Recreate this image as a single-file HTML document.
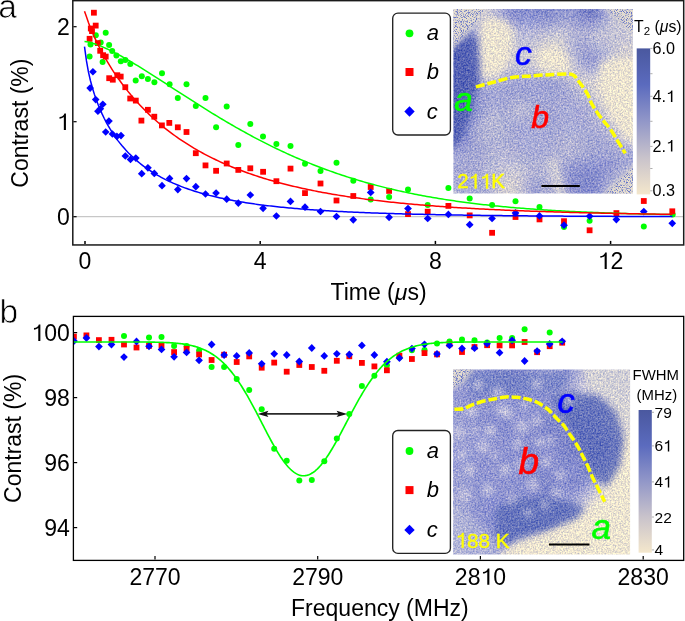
<!DOCTYPE html>
<html><head><meta charset="utf-8"><style>
html,body{margin:0;padding:0;background:#fff;overflow:hidden}
svg{display:block;will-change:transform}
</style></head><body>
<svg width="685" height="621" viewBox="0 0 685 621" font-family="Liberation Sans, sans-serif">
<defs>

<filter id="texA" x="-5%" y="-5%" width="110%" height="110%" color-interpolation-filters="sRGB">
 <feGaussianBlur in="SourceGraphic" stdDeviation="3" result="b"/>
 <feTurbulence type="fractalNoise" baseFrequency="0.6" numOctaves="2" seed="4" result="n"/>
 <feColorMatrix in="n" type="matrix" values="1 0 0 0 0  0.84 0 0 0 0.08  0.25 0 0 0 0.375  0 0 0 0 1" result="g0"/>
 <feGaussianBlur in="g0" stdDeviation="0.7" result="g"/>
 <feComposite in="b" in2="g" operator="arithmetic" k1="0" k2="1" k3="0.6" k4="-0.3"/>
</filter>
<filter id="salt" x="0" y="0" width="100%" height="100%" color-interpolation-filters="sRGB">
 <feTurbulence type="fractalNoise" baseFrequency="1.2" numOctaves="1" seed="9" result="n"/>
 <feColorMatrix in="n" type="matrix" values="0 0 0 0 0.40  0 0 0 0 0.46  0 0 0 0 0.78  5 0 0 0 -2.4" result="c"/>
 <feComposite in="c" in2="SourceGraphic" operator="in"/>
</filter>
<filter id="bl2" x="-20%" y="-20%" width="140%" height="140%"><feGaussianBlur stdDeviation="2"/></filter>

<clipPath id="ca"><rect x="73" y="1" width="610" height="243"/></clipPath>
<clipPath id="cb"><rect x="73.5" y="316.5" width="609.5" height="243"/></clipPath>
</defs>
<rect width="685" height="621" fill="#fff"/>

<g id="A">
<line x1="73" y1="216.7" x2="683" y2="216.7" stroke="#bbb" stroke-width="1"/>
<g clip-path="url(#ca)">
<circle cx="105.7" cy="32.8" r="3.0" fill="#0f0"/>
<circle cx="95.8" cy="35.2" r="3.0" fill="#0f0"/>
<circle cx="100.7" cy="42.6" r="3.0" fill="#0f0"/>
<circle cx="90.5" cy="44.6" r="3.0" fill="#0f0"/>
<circle cx="109.1" cy="45.1" r="3.0" fill="#0f0"/>
<circle cx="112.2" cy="51.1" r="3.0" fill="#0f0"/>
<circle cx="116.4" cy="55.5" r="3.0" fill="#0f0"/>
<circle cx="89.6" cy="56.6" r="3.0" fill="#0f0"/>
<circle cx="102.6" cy="62.0" r="3.0" fill="#0f0"/>
<circle cx="120.8" cy="61.3" r="3.0" fill="#0f0"/>
<circle cx="125.3" cy="59.9" r="3.0" fill="#0f0"/>
<circle cx="130.3" cy="64.0" r="3.0" fill="#0f0"/>
<circle cx="141.8" cy="76.2" r="3.0" fill="#0f0"/>
<circle cx="135.7" cy="80.4" r="3.0" fill="#0f0"/>
<circle cx="147.9" cy="79.1" r="3.0" fill="#0f0"/>
<circle cx="154.4" cy="82.3" r="3.0" fill="#0f0"/>
<circle cx="162.0" cy="73.2" r="3.0" fill="#0f0"/>
<circle cx="169.6" cy="84.3" r="3.0" fill="#0f0"/>
<circle cx="186.5" cy="84.3" r="3.0" fill="#0f0"/>
<circle cx="177.8" cy="97.9" r="3.0" fill="#0f0"/>
<circle cx="205.5" cy="97.9" r="3.0" fill="#0f0"/>
<circle cx="195.8" cy="106.0" r="3.0" fill="#0f0"/>
<circle cx="226.7" cy="106.4" r="3.0" fill="#0f0"/>
<circle cx="216.1" cy="127.2" r="3.0" fill="#0f0"/>
<circle cx="250.3" cy="124.0" r="3.0" fill="#0f0"/>
<circle cx="263.0" cy="136.6" r="3.0" fill="#0f0"/>
<circle cx="238.3" cy="145.1" r="3.0" fill="#0f0"/>
<circle cx="276.4" cy="143.9" r="3.0" fill="#0f0"/>
<circle cx="290.5" cy="146.0" r="3.0" fill="#0f0"/>
<circle cx="305.0" cy="163.8" r="3.0" fill="#0f0"/>
<circle cx="320.5" cy="171.1" r="3.0" fill="#0f0"/>
<circle cx="336.5" cy="162.8" r="3.0" fill="#0f0"/>
<circle cx="353.3" cy="180.8" r="3.0" fill="#0f0"/>
<circle cx="370.7" cy="199.5" r="3.0" fill="#0f0"/>
<circle cx="389.1" cy="197.1" r="3.0" fill="#0f0"/>
<circle cx="408.0" cy="189.5" r="3.0" fill="#0f0"/>
<circle cx="427.7" cy="205.0" r="3.0" fill="#0f0"/>
<circle cx="448.4" cy="188.0" r="3.0" fill="#0f0"/>
<circle cx="469.7" cy="198.6" r="3.0" fill="#0f0"/>
<circle cx="492.1" cy="205.0" r="3.0" fill="#0f0"/>
<circle cx="515.5" cy="201.2" r="3.0" fill="#0f0"/>
<circle cx="539.5" cy="207.1" r="3.0" fill="#0f0"/>
<circle cx="564.0" cy="226.9" r="3.0" fill="#0f0"/>
<circle cx="589.6" cy="220.8" r="3.0" fill="#0f0"/>
<circle cx="643.8" cy="226.6" r="3.0" fill="#0f0"/>
<circle cx="672.7" cy="214.5" r="3.0" fill="#0f0"/>
<rect x="91.0" y="9.8" width="5.8" height="5.8" fill="#f00"/>
<rect x="92.8" y="22.7" width="5.8" height="5.8" fill="#f00"/>
<rect x="87.9" y="25.6" width="5.8" height="5.8" fill="#f00"/>
<rect x="89.1" y="28.2" width="5.8" height="5.8" fill="#f00"/>
<rect x="86.7" y="35.9" width="5.8" height="5.8" fill="#f00"/>
<rect x="94.9" y="40.2" width="5.8" height="5.8" fill="#f00"/>
<rect x="97.3" y="47.9" width="5.8" height="5.8" fill="#f00"/>
<rect x="100.2" y="52.3" width="5.8" height="5.8" fill="#f00"/>
<rect x="102.8" y="53.7" width="5.8" height="5.8" fill="#f00"/>
<rect x="106.3" y="75.3" width="5.8" height="5.8" fill="#f00"/>
<rect x="109.9" y="76.8" width="5.8" height="5.8" fill="#f00"/>
<rect x="114.4" y="72.3" width="5.8" height="5.8" fill="#f00"/>
<rect x="117.8" y="73.7" width="5.8" height="5.8" fill="#f00"/>
<rect x="122.4" y="84.3" width="5.8" height="5.8" fill="#f00"/>
<rect x="127.3" y="95.6" width="5.8" height="5.8" fill="#f00"/>
<rect x="132.9" y="97.7" width="5.8" height="5.8" fill="#f00"/>
<rect x="145.0" y="106.9" width="5.8" height="5.8" fill="#f00"/>
<rect x="151.4" y="113.8" width="5.8" height="5.8" fill="#f00"/>
<rect x="138.5" y="117.7" width="5.8" height="5.8" fill="#f00"/>
<rect x="159.0" y="122.5" width="5.8" height="5.8" fill="#f00"/>
<rect x="166.4" y="120.0" width="5.8" height="5.8" fill="#f00"/>
<rect x="174.9" y="124.4" width="5.8" height="5.8" fill="#f00"/>
<rect x="183.6" y="129.1" width="5.8" height="5.8" fill="#f00"/>
<rect x="192.9" y="150.3" width="5.8" height="5.8" fill="#f00"/>
<rect x="202.6" y="162.5" width="5.8" height="5.8" fill="#f00"/>
<rect x="213.2" y="167.9" width="5.8" height="5.8" fill="#f00"/>
<rect x="223.8" y="160.6" width="5.8" height="5.8" fill="#f00"/>
<rect x="235.4" y="167.0" width="5.8" height="5.8" fill="#f00"/>
<rect x="247.4" y="165.4" width="5.8" height="5.8" fill="#f00"/>
<rect x="260.2" y="168.9" width="5.8" height="5.8" fill="#f00"/>
<rect x="273.5" y="178.3" width="5.8" height="5.8" fill="#f00"/>
<rect x="287.6" y="165.7" width="5.8" height="5.8" fill="#f00"/>
<rect x="302.1" y="190.2" width="5.8" height="5.8" fill="#f00"/>
<rect x="317.6" y="180.6" width="5.8" height="5.8" fill="#f00"/>
<rect x="333.6" y="197.6" width="5.8" height="5.8" fill="#f00"/>
<rect x="350.4" y="193.1" width="5.8" height="5.8" fill="#f00"/>
<rect x="367.8" y="184.1" width="5.8" height="5.8" fill="#f00"/>
<rect x="386.2" y="188.0" width="5.8" height="5.8" fill="#f00"/>
<rect x="405.1" y="211.2" width="5.8" height="5.8" fill="#f00"/>
<rect x="424.8" y="208.8" width="5.8" height="5.8" fill="#f00"/>
<rect x="445.5" y="203.0" width="5.8" height="5.8" fill="#f00"/>
<rect x="466.8" y="212.5" width="5.8" height="5.8" fill="#f00"/>
<rect x="489.2" y="229.9" width="5.8" height="5.8" fill="#f00"/>
<rect x="512.6" y="214.1" width="5.8" height="5.8" fill="#f00"/>
<rect x="536.6" y="216.5" width="5.8" height="5.8" fill="#f00"/>
<rect x="561.1" y="218.3" width="5.8" height="5.8" fill="#f00"/>
<rect x="586.7" y="227.4" width="5.8" height="5.8" fill="#f00"/>
<rect x="613.5" y="210.2" width="5.8" height="5.8" fill="#f00"/>
<rect x="640.9" y="198.1" width="5.8" height="5.8" fill="#f00"/>
<rect x="669.4" y="208.4" width="5.8" height="5.8" fill="#f00"/>
<path d="M92.9,68.0L96.8,71.8L92.9,75.6L89.1,71.8Z" fill="#00f"/>
<path d="M90.1,84.2L94.0,88.1L90.1,91.9L86.3,88.1Z" fill="#00f"/>
<path d="M95.7,95.8L99.5,99.6L95.7,103.4L91.9,99.6Z" fill="#00f"/>
<path d="M102.8,100.4L106.7,104.2L102.8,108.0L99.0,104.2Z" fill="#00f"/>
<path d="M100.4,104.9L104.2,108.7L100.4,112.5L96.6,108.7Z" fill="#00f"/>
<path d="M97.9,107.4L101.8,111.2L97.9,115.0L94.1,111.2Z" fill="#00f"/>
<path d="M108.9,117.2L112.8,121.1L108.9,124.9L105.1,121.1Z" fill="#00f"/>
<path d="M105.7,128.2L109.5,132.0L105.7,135.8L101.9,132.0Z" fill="#00f"/>
<path d="M112.4,130.2L116.2,134.0L112.4,137.8L108.6,134.0Z" fill="#00f"/>
<path d="M116.9,132.6L120.8,136.4L116.9,140.2L113.1,136.4Z" fill="#00f"/>
<path d="M121.0,131.8L124.8,135.6L121.0,139.4L117.2,135.6Z" fill="#00f"/>
<path d="M125.3,152.2L129.2,156.0L125.3,159.8L121.5,156.0Z" fill="#00f"/>
<path d="M130.5,155.6L134.3,159.4L130.5,163.2L126.7,159.4Z" fill="#00f"/>
<path d="M135.8,154.2L139.7,158.1L135.8,161.9L132.0,158.1Z" fill="#00f"/>
<path d="M147.9,164.0L151.8,167.8L147.9,171.7L144.1,167.8Z" fill="#00f"/>
<path d="M141.7,169.8L145.6,173.7L141.7,177.5L137.9,173.7Z" fill="#00f"/>
<path d="M154.3,169.6L158.2,173.4L154.3,177.2L150.5,173.4Z" fill="#00f"/>
<path d="M162.0,181.8L165.8,185.7L162.0,189.5L158.2,185.7Z" fill="#00f"/>
<path d="M169.6,174.6L173.4,178.4L169.6,182.2L165.8,178.4Z" fill="#00f"/>
<path d="M177.8,185.8L181.7,189.6L177.8,193.4L174.0,189.6Z" fill="#00f"/>
<path d="M186.5,174.8L190.3,178.6L186.5,182.4L182.7,178.6Z" fill="#00f"/>
<path d="M195.8,182.8L199.7,186.7L195.8,190.5L192.0,186.7Z" fill="#00f"/>
<path d="M205.5,190.2L209.3,194.0L205.5,197.8L201.7,194.0Z" fill="#00f"/>
<path d="M216.1,189.2L219.9,193.0L216.1,196.8L212.2,193.0Z" fill="#00f"/>
<path d="M226.7,195.3L230.6,199.2L226.7,203.0L222.9,199.2Z" fill="#00f"/>
<path d="M238.3,199.2L242.2,203.1L238.3,206.9L234.5,203.1Z" fill="#00f"/>
<path d="M250.3,191.2L254.2,195.0L250.3,198.8L246.5,195.0Z" fill="#00f"/>
<path d="M263.1,204.5L266.9,208.3L263.1,212.2L259.2,208.3Z" fill="#00f"/>
<path d="M276.4,212.2L280.2,216.0L276.4,219.8L272.5,216.0Z" fill="#00f"/>
<path d="M290.5,197.6L294.4,201.4L290.5,205.2L286.6,201.4Z" fill="#00f"/>
<path d="M305.0,203.3L308.9,207.2L305.0,211.0L301.1,207.2Z" fill="#00f"/>
<path d="M320.5,207.7L324.4,211.5L320.5,215.3L316.6,211.5Z" fill="#00f"/>
<path d="M336.5,212.7L340.4,216.5L336.5,220.3L332.6,216.5Z" fill="#00f"/>
<path d="M353.3,216.0L357.1,219.8L353.3,223.7L349.4,219.8Z" fill="#00f"/>
<path d="M370.7,188.6L374.6,192.4L370.7,196.2L366.8,192.4Z" fill="#00f"/>
<path d="M389.1,213.5L392.9,217.3L389.1,221.2L385.2,217.3Z" fill="#00f"/>
<path d="M408.0,204.8L411.9,208.6L408.0,212.4L404.1,208.6Z" fill="#00f"/>
<path d="M427.7,214.7L431.6,218.5L427.7,222.3L423.8,218.5Z" fill="#00f"/>
<path d="M448.4,210.6L452.2,214.4L448.4,218.2L444.5,214.4Z" fill="#00f"/>
<path d="M469.7,220.8L473.6,224.7L469.7,228.5L465.8,224.7Z" fill="#00f"/>
<path d="M492.1,214.7L495.9,218.5L492.1,222.3L488.2,218.5Z" fill="#00f"/>
<path d="M515.5,209.1L519.4,212.9L515.5,216.8L511.6,212.9Z" fill="#00f"/>
<path d="M539.5,212.1L543.4,215.9L539.5,219.8L535.6,215.9Z" fill="#00f"/>
<path d="M564.0,221.3L567.9,225.2L564.0,229.0L560.1,225.2Z" fill="#00f"/>
<path d="M589.6,212.3L593.5,216.2L589.6,220.0L585.8,216.2Z" fill="#00f"/>
<path d="M616.4,215.8L620.2,219.6L616.4,223.4L612.5,219.6Z" fill="#00f"/>
<path d="M643.8,207.8L647.6,211.6L643.8,215.4L639.9,211.6Z" fill="#00f"/>
<path d="M672.3,219.5L676.1,223.3L672.3,227.2L668.4,223.3Z" fill="#00f"/>
<path d="M84.50,41.58 L86.47,41.73 L88.43,42.10 L90.40,42.57 L92.37,43.12 L94.33,43.74 L96.30,44.42 L98.27,45.15 L100.23,45.92 L102.20,46.73 L104.17,47.58 L106.13,48.47 L108.10,49.38 L110.07,50.33 L112.03,51.30 L114.00,52.30 L115.96,53.32 L117.93,54.36 L119.90,55.43 L121.86,56.51 L123.83,57.61 L125.80,58.73 L127.76,59.86 L129.73,61.01 L131.70,62.17 L133.66,63.34 L135.63,64.53 L137.60,65.72 L139.56,66.93 L141.53,68.14 L143.50,69.37 L145.46,70.60 L147.43,71.83 L149.40,73.08 L151.36,74.33 L153.33,75.58 L155.30,76.84 L157.26,78.11 L159.23,79.37 L161.20,80.64 L163.16,81.91 L165.13,83.19 L167.10,84.46 L169.06,85.74 L171.03,87.01 L172.99,88.29 L174.96,89.57 L176.93,90.84 L178.89,92.12 L180.86,93.39 L182.83,94.66 L184.79,95.93 L186.76,97.19 L188.73,98.46 L190.69,99.72 L192.66,100.97 L194.63,102.23 L196.59,103.48 L198.56,104.72 L200.53,105.96 L202.49,107.20 L204.46,108.43 L206.43,109.65 L208.39,110.87 L210.36,112.09 L212.33,113.29 L214.29,114.50 L216.26,115.69 L218.23,116.88 L220.19,118.07 L222.16,119.24 L224.13,120.41 L226.09,121.57 L228.06,122.73 L230.03,123.88 L231.99,125.02 L233.96,126.15 L235.92,127.28 L237.89,128.39 L239.86,129.50 L241.82,130.60 L243.79,131.70 L245.76,132.78 L247.72,133.86 L249.69,134.93 L251.66,135.99 L253.62,137.04 L255.59,138.08 L257.56,139.12 L259.52,140.14 L261.49,141.16 L263.46,142.17 L265.42,143.17 L267.39,144.16 L269.36,145.14 L271.32,146.11 L273.29,147.08 L275.26,148.03 L277.22,148.98 L279.19,149.91 L281.16,150.84 L283.12,151.76 L285.09,152.67 L287.06,153.57 L289.02,154.46 L290.99,155.35 L292.95,156.22 L294.92,157.08 L296.89,157.94 L298.85,158.79 L300.82,159.62 L302.79,160.45 L304.75,161.27 L306.72,162.08 L308.69,162.88 L310.65,163.68 L312.62,164.46 L314.59,165.23 L316.55,166.00 L318.52,166.76 L320.49,167.51 L322.45,168.25 L324.42,168.98 L326.39,169.70 L328.35,170.42 L330.32,171.12 L332.29,171.82 L334.25,172.51 L336.22,173.19 L338.19,173.86 L340.15,174.52 L342.12,175.18 L344.09,175.83 L346.05,176.46 L348.02,177.10 L349.98,177.72 L351.95,178.33 L353.92,178.94 L355.88,179.54 L357.85,180.13 L359.82,180.72 L361.78,181.29 L363.75,181.86 L365.72,182.42 L367.68,182.97 L369.65,183.52 L371.62,184.06 L373.58,184.59 L375.55,185.11 L377.52,185.63 L379.48,186.14 L381.45,186.64 L383.42,187.14 L385.38,187.62 L387.35,188.11 L389.32,188.58 L391.28,189.05 L393.25,189.51 L395.22,189.97 L397.18,190.41 L399.15,190.86 L401.12,191.29 L403.08,191.72 L405.05,192.14 L407.02,192.56 L408.98,192.97 L410.95,193.37 L412.91,193.77 L414.88,194.16 L416.85,194.55 L418.81,194.93 L420.78,195.31 L422.75,195.67 L424.71,196.04 L426.68,196.40 L428.65,196.75 L430.61,197.10 L432.58,197.44 L434.55,197.77 L436.51,198.10 L438.48,198.43 L440.45,198.75 L442.41,199.07 L444.38,199.38 L446.35,199.68 L448.31,199.98 L450.28,200.28 L452.25,200.57 L454.21,200.86 L456.18,201.14 L458.15,201.42 L460.11,201.69 L462.08,201.96 L464.05,202.22 L466.01,202.48 L467.98,202.74 L469.94,202.99 L471.91,203.23 L473.88,203.48 L475.84,203.72 L477.81,203.95 L479.78,204.18 L481.74,204.41 L483.71,204.63 L485.68,204.85 L487.64,205.07 L489.61,205.28 L491.58,205.49 L493.54,205.69 L495.51,205.89 L497.48,206.09 L499.44,206.29 L501.41,206.48 L503.38,206.66 L505.34,206.85 L507.31,207.03 L509.28,207.21 L511.24,207.38 L513.21,207.55 L515.18,207.72 L517.14,207.89 L519.11,208.05 L521.08,208.21 L523.04,208.37 L525.01,208.52 L526.97,208.67 L528.94,208.82 L530.91,208.97 L532.87,209.11 L534.84,209.25 L536.81,209.39 L538.77,209.53 L540.74,209.66 L542.71,209.79 L544.67,209.92 L546.64,210.04 L548.61,210.17 L550.57,210.29 L552.54,210.41 L554.51,210.52 L556.47,210.64 L558.44,210.75 L560.41,210.86 L562.37,210.97 L564.34,211.08 L566.31,211.18 L568.27,211.28 L570.24,211.38 L572.21,211.48 L574.17,211.58 L576.14,211.67 L578.11,211.77 L580.07,211.86 L582.04,211.95 L584.01,212.03 L585.97,212.12 L587.94,212.20 L589.90,212.29 L591.87,212.37 L593.84,212.45 L595.80,212.53 L597.77,212.60 L599.74,212.68 L601.70,212.75 L603.67,212.82 L605.64,212.89 L607.60,212.96 L609.57,213.03 L611.54,213.10 L613.50,213.16 L615.47,213.23 L617.44,213.29 L619.40,213.35 L621.37,213.41 L623.34,213.47 L625.30,213.53 L627.27,213.58 L629.24,213.64 L631.20,213.69 L633.17,213.75 L635.14,213.80 L637.10,213.85 L639.07,213.90 L641.04,213.95 L643.00,214.00 L644.97,214.04 L646.93,214.09 L648.90,214.13 L650.87,214.18 L652.83,214.22 L654.80,214.26 L656.77,214.30 L658.73,214.35 L660.70,214.39 L662.67,214.42 L664.63,214.46 L666.60,214.50 L668.57,214.54 L670.53,214.57 L672.50,214.61" fill="none" stroke="#0f0" stroke-width="1.5"/>
<path d="M84.50,11.23 L86.47,16.75 L88.43,22.51 L90.40,27.66 L92.37,32.41 L94.33,36.87 L96.30,41.09 L98.27,45.12 L100.23,48.97 L102.20,52.67 L104.17,56.23 L106.13,59.66 L108.10,62.98 L110.07,66.18 L112.03,69.29 L114.00,72.30 L115.96,75.22 L117.93,78.06 L119.90,80.81 L121.86,83.49 L123.83,86.10 L125.80,88.64 L127.76,91.11 L129.73,93.52 L131.70,95.86 L133.66,98.15 L135.63,100.38 L137.60,102.56 L139.56,104.69 L141.53,106.77 L143.50,108.79 L145.46,110.77 L147.43,112.71 L149.40,114.60 L151.36,116.45 L153.33,118.26 L155.30,120.03 L157.26,121.75 L159.23,123.45 L161.20,125.10 L163.16,126.72 L165.13,128.31 L167.10,129.86 L169.06,131.38 L171.03,132.87 L172.99,134.32 L174.96,135.75 L176.93,137.15 L178.89,138.52 L180.86,139.86 L182.83,141.18 L184.79,142.46 L186.76,143.73 L188.73,144.97 L190.69,146.18 L192.66,147.37 L194.63,148.54 L196.59,149.68 L198.56,150.80 L200.53,151.90 L202.49,152.98 L204.46,154.04 L206.43,155.08 L208.39,156.10 L210.36,157.10 L212.33,158.08 L214.29,159.04 L216.26,159.99 L218.23,160.91 L220.19,161.82 L222.16,162.72 L224.13,163.59 L226.09,164.45 L228.06,165.30 L230.03,166.13 L231.99,166.94 L233.96,167.74 L235.92,168.53 L237.89,169.30 L239.86,170.06 L241.82,170.80 L243.79,171.53 L245.76,172.25 L247.72,172.95 L249.69,173.65 L251.66,174.33 L253.62,175.00 L255.59,175.65 L257.56,176.30 L259.52,176.93 L261.49,177.55 L263.46,178.17 L265.42,178.77 L267.39,179.36 L269.36,179.94 L271.32,180.51 L273.29,181.07 L275.26,181.62 L277.22,182.16 L279.19,182.69 L281.16,183.22 L283.12,183.73 L285.09,184.24 L287.06,184.74 L289.02,185.23 L290.99,185.71 L292.95,186.18 L294.92,186.64 L296.89,187.10 L298.85,187.55 L300.82,187.99 L302.79,188.43 L304.75,188.85 L306.72,189.27 L308.69,189.69 L310.65,190.09 L312.62,190.49 L314.59,190.88 L316.55,191.27 L318.52,191.65 L320.49,192.03 L322.45,192.39 L324.42,192.76 L326.39,193.11 L328.35,193.46 L330.32,193.81 L332.29,194.14 L334.25,194.48 L336.22,194.81 L338.19,195.13 L340.15,195.45 L342.12,195.76 L344.09,196.07 L346.05,196.37 L348.02,196.67 L349.98,196.96 L351.95,197.25 L353.92,197.53 L355.88,197.81 L357.85,198.08 L359.82,198.35 L361.78,198.62 L363.75,198.88 L365.72,199.14 L367.68,199.39 L369.65,199.64 L371.62,199.89 L373.58,200.13 L375.55,200.37 L377.52,200.60 L379.48,200.83 L381.45,201.06 L383.42,201.28 L385.38,201.50 L387.35,201.72 L389.32,201.93 L391.28,202.14 L393.25,202.35 L395.22,202.55 L397.18,202.75 L399.15,202.95 L401.12,203.14 L403.08,203.33 L405.05,203.52 L407.02,203.71 L408.98,203.89 L410.95,204.07 L412.91,204.24 L414.88,204.42 L416.85,204.59 L418.81,204.76 L420.78,204.92 L422.75,205.09 L424.71,205.25 L426.68,205.41 L428.65,205.56 L430.61,205.72 L432.58,205.87 L434.55,206.02 L436.51,206.16 L438.48,206.31 L440.45,206.45 L442.41,206.59 L444.38,206.73 L446.35,206.87 L448.31,207.00 L450.28,207.13 L452.25,207.26 L454.21,207.39 L456.18,207.52 L458.15,207.64 L460.11,207.76 L462.08,207.88 L464.05,208.00 L466.01,208.12 L467.98,208.24 L469.94,208.35 L471.91,208.46 L473.88,208.57 L475.84,208.68 L477.81,208.79 L479.78,208.89 L481.74,209.00 L483.71,209.10 L485.68,209.20 L487.64,209.30 L489.61,209.40 L491.58,209.49 L493.54,209.59 L495.51,209.68 L497.48,209.77 L499.44,209.86 L501.41,209.95 L503.38,210.04 L505.34,210.13 L507.31,210.21 L509.28,210.30 L511.24,210.38 L513.21,210.46 L515.18,210.54 L517.14,210.62 L519.11,210.70 L521.08,210.78 L523.04,210.85 L525.01,210.93 L526.97,211.00 L528.94,211.08 L530.91,211.15 L532.87,211.22 L534.84,211.29 L536.81,211.36 L538.77,211.43 L540.74,211.49 L542.71,211.56 L544.67,211.62 L546.64,211.69 L548.61,211.75 L550.57,211.81 L552.54,211.87 L554.51,211.93 L556.47,211.99 L558.44,212.05 L560.41,212.11 L562.37,212.16 L564.34,212.22 L566.31,212.28 L568.27,212.33 L570.24,212.38 L572.21,212.44 L574.17,212.49 L576.14,212.54 L578.11,212.59 L580.07,212.64 L582.04,212.69 L584.01,212.74 L585.97,212.79 L587.94,212.83 L589.90,212.88 L591.87,212.93 L593.84,212.97 L595.80,213.02 L597.77,213.06 L599.74,213.10 L601.70,213.15 L603.67,213.19 L605.64,213.23 L607.60,213.27 L609.57,213.31 L611.54,213.35 L613.50,213.39 L615.47,213.43 L617.44,213.47 L619.40,213.50 L621.37,213.54 L623.34,213.58 L625.30,213.61 L627.27,213.65 L629.24,213.68 L631.20,213.72 L633.17,213.75 L635.14,213.79 L637.10,213.82 L639.07,213.85 L641.04,213.88 L643.00,213.92 L644.97,213.95 L646.93,213.98 L648.90,214.01 L650.87,214.04 L652.83,214.07 L654.80,214.10 L656.77,214.13 L658.73,214.15 L660.70,214.18 L662.67,214.21 L664.63,214.24 L666.60,214.26 L668.57,214.29 L670.53,214.32 L672.50,214.34" fill="none" stroke="#f00" stroke-width="1.5"/>
<path d="M84.50,46.68 L86.47,60.93 L88.43,71.89 L90.40,80.47 L92.37,87.75 L94.33,94.13 L96.30,99.85 L98.27,105.04 L100.23,109.79 L102.20,114.18 L104.17,118.26 L106.13,122.06 L108.10,125.63 L110.07,128.97 L112.03,132.12 L114.00,135.10 L115.96,137.92 L117.93,140.59 L119.90,143.13 L121.86,145.55 L123.83,147.85 L125.80,150.05 L127.76,152.14 L129.73,154.15 L131.70,156.07 L133.66,157.91 L135.63,159.67 L137.60,161.36 L139.56,162.98 L141.53,164.54 L143.50,166.04 L145.46,167.49 L147.43,168.88 L149.40,170.21 L151.36,171.50 L153.33,172.75 L155.30,173.95 L157.26,175.11 L159.23,176.22 L161.20,177.30 L163.16,178.35 L165.13,179.36 L167.10,180.33 L169.06,181.28 L171.03,182.19 L172.99,183.07 L174.96,183.93 L176.93,184.76 L178.89,185.56 L180.86,186.34 L182.83,187.10 L184.79,187.83 L186.76,188.54 L188.73,189.23 L190.69,189.90 L192.66,190.55 L194.63,191.18 L196.59,191.79 L198.56,192.38 L200.53,192.96 L202.49,193.52 L204.46,194.07 L206.43,194.60 L208.39,195.11 L210.36,195.61 L212.33,196.10 L214.29,196.58 L216.26,197.04 L218.23,197.49 L220.19,197.92 L222.16,198.35 L224.13,198.76 L226.09,199.17 L228.06,199.56 L230.03,199.94 L231.99,200.32 L233.96,200.68 L235.92,201.03 L237.89,201.38 L239.86,201.71 L241.82,202.04 L243.79,202.36 L245.76,202.67 L247.72,202.98 L249.69,203.27 L251.66,203.56 L253.62,203.84 L255.59,204.12 L257.56,204.39 L259.52,204.65 L261.49,204.91 L263.46,205.15 L265.42,205.40 L267.39,205.64 L269.36,205.87 L271.32,206.09 L273.29,206.32 L275.26,206.53 L277.22,206.74 L279.19,206.95 L281.16,207.15 L283.12,207.35 L285.09,207.54 L287.06,207.73 L289.02,207.91 L290.99,208.09 L292.95,208.27 L294.92,208.44 L296.89,208.60 L298.85,208.77 L300.82,208.93 L302.79,209.08 L304.75,209.24 L306.72,209.39 L308.69,209.53 L310.65,209.68 L312.62,209.82 L314.59,209.95 L316.55,210.09 L318.52,210.22 L320.49,210.35 L322.45,210.47 L324.42,210.60 L326.39,210.72 L328.35,210.83 L330.32,210.95 L332.29,211.06 L334.25,211.17 L336.22,211.28 L338.19,211.39 L340.15,211.49 L342.12,211.59 L344.09,211.69 L346.05,211.79 L348.02,211.88 L349.98,211.97 L351.95,212.07 L353.92,212.16 L355.88,212.24 L357.85,212.33 L359.82,212.41 L361.78,212.49 L363.75,212.58 L365.72,212.65 L367.68,212.73 L369.65,212.81 L371.62,212.88 L373.58,212.95 L375.55,213.03 L377.52,213.10 L379.48,213.16 L381.45,213.23 L383.42,213.30 L385.38,213.36 L387.35,213.42 L389.32,213.49 L391.28,213.55 L393.25,213.61 L395.22,213.67 L397.18,213.72 L399.15,213.78 L401.12,213.83 L403.08,213.89 L405.05,213.94 L407.02,213.99 L408.98,214.04 L410.95,214.09 L412.91,214.14 L414.88,214.19 L416.85,214.24 L418.81,214.28 L420.78,214.33 L422.75,214.37 L424.71,214.42 L426.68,214.46 L428.65,214.50 L430.61,214.54 L432.58,214.58 L434.55,214.62 L436.51,214.66 L438.48,214.70 L440.45,214.74 L442.41,214.77 L444.38,214.81 L446.35,214.85 L448.31,214.88 L450.28,214.91 L452.25,214.95 L454.21,214.98 L456.18,215.01 L458.15,215.05 L460.11,215.08 L462.08,215.11 L464.05,215.14 L466.01,215.17 L467.98,215.20 L469.94,215.22 L471.91,215.25 L473.88,215.28 L475.84,215.31 L477.81,215.33 L479.78,215.36 L481.74,215.38 L483.71,215.41 L485.68,215.43 L487.64,215.46 L489.61,215.48 L491.58,215.50 L493.54,215.53 L495.51,215.55 L497.48,215.57 L499.44,215.59 L501.41,215.61 L503.38,215.63 L505.34,215.66 L507.31,215.68 L509.28,215.70 L511.24,215.71 L513.21,215.73 L515.18,215.75 L517.14,215.77 L519.11,215.79 L521.08,215.81 L523.04,215.82 L525.01,215.84 L526.97,215.86 L528.94,215.88 L530.91,215.89 L532.87,215.91 L534.84,215.92 L536.81,215.94 L538.77,215.95 L540.74,215.97 L542.71,215.98 L544.67,216.00 L546.64,216.01 L548.61,216.03 L550.57,216.04 L552.54,216.05 L554.51,216.07 L556.47,216.08 L558.44,216.09 L560.41,216.11 L562.37,216.12 L564.34,216.13 L566.31,216.14 L568.27,216.15 L570.24,216.17 L572.21,216.18 L574.17,216.19 L576.14,216.20 L578.11,216.21 L580.07,216.22 L582.04,216.23 L584.01,216.24 L585.97,216.25 L587.94,216.26 L589.90,216.27 L591.87,216.28 L593.84,216.29 L595.80,216.30 L597.77,216.31 L599.74,216.32 L601.70,216.33 L603.67,216.33 L605.64,216.34 L607.60,216.35 L609.57,216.36 L611.54,216.37 L613.50,216.38 L615.47,216.38 L617.44,216.39 L619.40,216.40 L621.37,216.41 L623.34,216.41 L625.30,216.42 L627.27,216.43 L629.24,216.44 L631.20,216.44 L633.17,216.45 L635.14,216.46 L637.10,216.46 L639.07,216.47 L641.04,216.48 L643.00,216.48 L644.97,216.49 L646.93,216.49 L648.90,216.50 L650.87,216.51 L652.83,216.51 L654.80,216.52 L656.77,216.52 L658.73,216.53 L660.70,216.53 L662.67,216.54 L664.63,216.54 L666.60,216.55 L668.57,216.56 L670.53,216.56 L672.50,216.57" fill="none" stroke="#00f" stroke-width="1.5"/>
</g>
<rect x="72.8" y="0.65" width="610.9" height="244.3" fill="none" stroke="#1a1a1a" stroke-width="1.5"/>
<line x1="73.4" y1="216.7" x2="76.6" y2="216.7" stroke="#000" stroke-width="1.2"/>
<text x="57.01" y="225.0" font-size="23" fill="#000"  xml:space="preserve">0</text>
<line x1="73.4" y1="121.7" x2="76.6" y2="121.7" stroke="#000" stroke-width="1.2"/>
<path d="M65.94,130.00L65.94,113.62L64.42,113.62C63.68,115.74 62.07,116.89 59.54,117.12L59.54,118.73C61.38,118.61 62.99,118.04 63.84,117.12L63.84,130.00Z" fill="#000" />
<line x1="73.4" y1="26.7" x2="76.6" y2="26.7" stroke="#000" stroke-width="1.2"/>
<text x="57.01" y="35.0" font-size="23" fill="#000"  xml:space="preserve">2</text>
<line x1="85.0" y1="244" x2="85.0" y2="240.9" stroke="#000" stroke-width="1.5"/>
<text x="78.61" y="269" font-size="23" fill="#000"  xml:space="preserve">0</text>
<line x1="260.2" y1="244" x2="260.2" y2="240.9" stroke="#000" stroke-width="1.5"/>
<text x="253.81" y="269" font-size="23" fill="#000"  xml:space="preserve">4</text>
<line x1="435.4" y1="244" x2="435.4" y2="240.9" stroke="#000" stroke-width="1.5"/>
<text x="429.01" y="269" font-size="23" fill="#000"  xml:space="preserve">8</text>
<line x1="610.6" y1="244" x2="610.6" y2="240.9" stroke="#000" stroke-width="1.5"/>
<path d="M606.74,269.00L606.74,252.62L605.22,252.62C604.48,254.74 602.87,255.89 600.34,256.12L600.34,257.73C602.18,257.62 603.79,257.04 604.64,256.12L604.64,269.00Z" fill="#000" /><text x="610.60" y="269" font-size="23" fill="#000"  xml:space="preserve">2</text>
<text x="378.5" y="300.4" font-size="23" text-anchor="middle">Time (<tspan font-style="italic">μ</tspan>s)</text>
<text transform="translate(27.8,123.1) rotate(-90)" font-size="23" text-anchor="middle">Contrast (%)</text>
<text x="-1.8" y="18.3" font-size="33.5" stroke="#fff" stroke-width="0.7">a</text>
</g>
<g id="B">
<g clip-path="url(#cb)">
<circle cx="399.4" cy="357.5" r="3.0" fill="#0f0"/>
<circle cx="124.0" cy="336.0" r="3.0" fill="#0f0"/>
<circle cx="149.0" cy="337.6" r="3.0" fill="#0f0"/>
<circle cx="161.5" cy="337.0" r="3.0" fill="#0f0"/>
<circle cx="174.1" cy="345.9" r="3.0" fill="#0f0"/>
<circle cx="186.6" cy="345.9" r="3.0" fill="#0f0"/>
<circle cx="199.1" cy="350.6" r="3.0" fill="#0f0"/>
<circle cx="211.6" cy="367.0" r="3.0" fill="#0f0"/>
<circle cx="224.1" cy="367.0" r="3.0" fill="#0f0"/>
<circle cx="236.7" cy="378.9" r="3.0" fill="#0f0"/>
<circle cx="249.2" cy="390.0" r="3.0" fill="#0f0"/>
<circle cx="261.7" cy="409.2" r="3.0" fill="#0f0"/>
<circle cx="274.2" cy="448.8" r="3.0" fill="#0f0"/>
<circle cx="286.7" cy="460.7" r="3.0" fill="#0f0"/>
<circle cx="299.3" cy="480.4" r="3.0" fill="#0f0"/>
<circle cx="311.8" cy="480.0" r="3.0" fill="#0f0"/>
<circle cx="324.3" cy="461.3" r="3.0" fill="#0f0"/>
<circle cx="336.8" cy="438.6" r="3.0" fill="#0f0"/>
<circle cx="349.3" cy="413.9" r="3.0" fill="#0f0"/>
<circle cx="361.9" cy="385.9" r="3.0" fill="#0f0"/>
<circle cx="374.4" cy="375.7" r="3.0" fill="#0f0"/>
<circle cx="386.9" cy="365.2" r="3.0" fill="#0f0"/>
<circle cx="411.9" cy="350.2" r="3.0" fill="#0f0"/>
<circle cx="424.5" cy="350.0" r="3.0" fill="#0f0"/>
<circle cx="437.0" cy="343.4" r="3.0" fill="#0f0"/>
<circle cx="449.5" cy="341.5" r="3.0" fill="#0f0"/>
<circle cx="462.0" cy="339.4" r="3.0" fill="#0f0"/>
<circle cx="474.5" cy="340.3" r="3.0" fill="#0f0"/>
<circle cx="487.1" cy="342.6" r="3.0" fill="#0f0"/>
<circle cx="499.6" cy="337.9" r="3.0" fill="#0f0"/>
<circle cx="512.1" cy="337.9" r="3.0" fill="#0f0"/>
<circle cx="524.6" cy="329.2" r="3.0" fill="#0f0"/>
<circle cx="549.7" cy="332.5" r="3.0" fill="#0f0"/>
<rect x="71.0" y="333.7" width="5.8" height="5.8" fill="#f00"/>
<rect x="83.5" y="332.5" width="5.8" height="5.8" fill="#f00"/>
<rect x="96.0" y="337.2" width="5.8" height="5.8" fill="#f00"/>
<rect x="108.6" y="336.9" width="5.8" height="5.8" fill="#f00"/>
<rect x="121.1" y="341.6" width="5.8" height="5.8" fill="#f00"/>
<rect x="133.6" y="344.6" width="5.8" height="5.8" fill="#f00"/>
<rect x="146.1" y="343.0" width="5.8" height="5.8" fill="#f00"/>
<rect x="158.6" y="342.5" width="5.8" height="5.8" fill="#f00"/>
<rect x="171.2" y="349.2" width="5.8" height="5.8" fill="#f00"/>
<rect x="183.7" y="346.0" width="5.8" height="5.8" fill="#f00"/>
<rect x="196.2" y="351.6" width="5.8" height="5.8" fill="#f00"/>
<rect x="208.7" y="357.1" width="5.8" height="5.8" fill="#f00"/>
<rect x="221.2" y="351.8" width="5.8" height="5.8" fill="#f00"/>
<rect x="233.8" y="359.1" width="5.8" height="5.8" fill="#f00"/>
<rect x="246.3" y="353.5" width="5.8" height="5.8" fill="#f00"/>
<rect x="258.8" y="364.8" width="5.8" height="5.8" fill="#f00"/>
<rect x="271.3" y="359.7" width="5.8" height="5.8" fill="#f00"/>
<rect x="283.8" y="368.8" width="5.8" height="5.8" fill="#f00"/>
<rect x="296.4" y="362.1" width="5.8" height="5.8" fill="#f00"/>
<rect x="308.9" y="364.1" width="5.8" height="5.8" fill="#f00"/>
<rect x="321.4" y="367.9" width="5.8" height="5.8" fill="#f00"/>
<rect x="333.9" y="357.9" width="5.8" height="5.8" fill="#f00"/>
<rect x="346.4" y="353.4" width="5.8" height="5.8" fill="#f00"/>
<rect x="359.0" y="360.0" width="5.8" height="5.8" fill="#f00"/>
<rect x="371.5" y="363.5" width="5.8" height="5.8" fill="#f00"/>
<rect x="384.0" y="367.4" width="5.8" height="5.8" fill="#f00"/>
<rect x="396.5" y="352.8" width="5.8" height="5.8" fill="#f00"/>
<rect x="409.0" y="356.1" width="5.8" height="5.8" fill="#f00"/>
<rect x="421.6" y="350.2" width="5.8" height="5.8" fill="#f00"/>
<rect x="434.1" y="351.5" width="5.8" height="5.8" fill="#f00"/>
<rect x="446.6" y="341.4" width="5.8" height="5.8" fill="#f00"/>
<rect x="459.1" y="349.1" width="5.8" height="5.8" fill="#f00"/>
<rect x="471.6" y="344.1" width="5.8" height="5.8" fill="#f00"/>
<rect x="484.2" y="342.3" width="5.8" height="5.8" fill="#f00"/>
<rect x="496.7" y="342.5" width="5.8" height="5.8" fill="#f00"/>
<rect x="509.2" y="342.5" width="5.8" height="5.8" fill="#f00"/>
<rect x="521.7" y="339.1" width="5.8" height="5.8" fill="#f00"/>
<rect x="534.2" y="349.3" width="5.8" height="5.8" fill="#f00"/>
<rect x="546.8" y="343.3" width="5.8" height="5.8" fill="#f00"/>
<rect x="559.3" y="339.8" width="5.8" height="5.8" fill="#f00"/>
<path d="M73.9,337.1L77.8,341.0L73.9,344.9L70.1,341.0Z" fill="#00f"/>
<path d="M86.4,334.1L90.3,338.0L86.4,341.9L82.6,338.0Z" fill="#00f"/>
<path d="M98.9,342.8L102.8,346.6L98.9,350.5L95.1,346.6Z" fill="#00f"/>
<path d="M111.5,340.6L115.3,344.5L111.5,348.4L107.6,344.5Z" fill="#00f"/>
<path d="M124.0,353.2L127.8,357.1L124.0,361.0L120.1,357.1Z" fill="#00f"/>
<path d="M136.5,337.6L140.3,341.5L136.5,345.4L132.7,341.5Z" fill="#00f"/>
<path d="M149.0,342.4L152.9,346.3L149.0,350.2L145.2,346.3Z" fill="#00f"/>
<path d="M161.5,345.5L165.4,349.4L161.5,353.2L157.7,349.4Z" fill="#00f"/>
<path d="M174.1,352.9L177.9,356.8L174.1,360.7L170.2,356.8Z" fill="#00f"/>
<path d="M186.6,348.5L190.4,352.4L186.6,356.2L182.7,352.4Z" fill="#00f"/>
<path d="M199.1,356.4L202.9,360.3L199.1,364.2L195.2,360.3Z" fill="#00f"/>
<path d="M211.6,340.6L215.5,344.5L211.6,348.4L207.8,344.5Z" fill="#00f"/>
<path d="M224.1,351.1L228.0,355.0L224.1,358.9L220.3,355.0Z" fill="#00f"/>
<path d="M236.7,352.0L240.5,355.9L236.7,359.8L232.8,355.9Z" fill="#00f"/>
<path d="M249.2,349.0L253.0,352.9L249.2,356.8L245.3,352.9Z" fill="#00f"/>
<path d="M261.7,359.9L265.6,363.8L261.7,367.7L257.8,363.8Z" fill="#00f"/>
<path d="M274.2,349.9L278.1,353.8L274.2,357.7L270.4,353.8Z" fill="#00f"/>
<path d="M286.7,351.1L290.6,355.0L286.7,358.9L282.9,355.0Z" fill="#00f"/>
<path d="M299.3,357.6L303.1,361.5L299.3,365.4L295.4,361.5Z" fill="#00f"/>
<path d="M311.8,344.1L315.6,348.0L311.8,351.9L307.9,348.0Z" fill="#00f"/>
<path d="M324.3,352.0L328.1,355.9L324.3,359.8L320.4,355.9Z" fill="#00f"/>
<path d="M336.8,349.9L340.7,353.8L336.8,357.7L333.0,353.8Z" fill="#00f"/>
<path d="M349.3,350.6L353.2,354.5L349.3,358.4L345.5,354.5Z" fill="#00f"/>
<path d="M361.9,341.5L365.7,345.4L361.9,349.2L358.0,345.4Z" fill="#00f"/>
<path d="M374.4,351.1L378.2,355.0L374.4,358.9L370.5,355.0Z" fill="#00f"/>
<path d="M386.9,357.8L390.8,361.7L386.9,365.6L383.0,361.7Z" fill="#00f"/>
<path d="M399.4,354.2L403.3,358.1L399.4,362.0L395.6,358.1Z" fill="#00f"/>
<path d="M411.9,344.8L415.8,348.6L411.9,352.5L408.1,348.6Z" fill="#00f"/>
<path d="M424.5,340.4L428.3,344.3L424.5,348.2L420.6,344.3Z" fill="#00f"/>
<path d="M437.0,350.0L440.8,353.9L437.0,357.8L433.1,353.9Z" fill="#00f"/>
<path d="M449.5,341.5L453.4,345.4L449.5,349.2L445.6,345.4Z" fill="#00f"/>
<path d="M462.0,344.6L465.9,348.5L462.0,352.4L458.2,348.5Z" fill="#00f"/>
<path d="M474.5,344.3L478.4,348.2L474.5,352.1L470.7,348.2Z" fill="#00f"/>
<path d="M487.1,339.8L490.9,343.7L487.1,347.6L483.2,343.7Z" fill="#00f"/>
<path d="M499.6,348.8L503.4,352.7L499.6,356.6L495.7,352.7Z" fill="#00f"/>
<path d="M512.1,336.4L516.0,340.3L512.1,344.2L508.2,340.3Z" fill="#00f"/>
<path d="M524.6,357.1L528.5,361.0L524.6,364.9L520.8,361.0Z" fill="#00f"/>
<path d="M537.1,347.2L541.0,351.1L537.1,355.0L533.3,351.1Z" fill="#00f"/>
<path d="M549.7,340.1L553.5,344.0L549.7,347.9L545.8,344.0Z" fill="#00f"/>
<path d="M562.2,337.4L566.0,341.3L562.2,345.2L558.3,341.3Z" fill="#00f"/>
<path d="M73.50,341.95 L74.73,341.95 L75.95,341.95 L77.18,341.95 L78.40,341.95 L79.63,341.95 L80.85,341.95 L82.08,341.95 L83.31,341.95 L84.53,341.95 L85.76,341.95 L86.98,341.95 L88.21,341.95 L89.44,341.95 L90.66,341.95 L91.89,341.95 L93.11,341.95 L94.34,341.95 L95.56,341.95 L96.79,341.95 L98.02,341.95 L99.24,341.95 L100.47,341.95 L101.69,341.95 L102.92,341.95 L104.15,341.95 L105.37,341.95 L106.60,341.95 L107.82,341.95 L109.05,341.95 L110.27,341.95 L111.50,341.95 L112.73,341.95 L113.95,341.95 L115.18,341.95 L116.40,341.96 L117.63,341.96 L118.86,341.96 L120.08,341.96 L121.31,341.96 L122.53,341.96 L123.76,341.96 L124.98,341.96 L126.21,341.97 L127.44,341.97 L128.66,341.97 L129.89,341.97 L131.11,341.98 L132.34,341.98 L133.56,341.98 L134.79,341.99 L136.02,341.99 L137.24,342.00 L138.47,342.00 L139.69,342.01 L140.92,342.02 L142.15,342.02 L143.37,342.03 L144.60,342.04 L145.82,342.05 L147.05,342.07 L148.27,342.08 L149.50,342.09 L150.73,342.11 L151.95,342.13 L153.18,342.15 L154.40,342.17 L155.63,342.20 L156.86,342.22 L158.08,342.25 L159.31,342.29 L160.53,342.32 L161.76,342.36 L162.98,342.40 L164.21,342.45 L165.44,342.50 L166.66,342.56 L167.89,342.62 L169.11,342.69 L170.34,342.76 L171.57,342.84 L172.79,342.93 L174.02,343.02 L175.24,343.12 L176.47,343.23 L177.69,343.35 L178.92,343.48 L180.15,343.62 L181.37,343.77 L182.60,343.94 L183.82,344.11 L185.05,344.30 L186.27,344.51 L187.50,344.72 L188.73,344.96 L189.95,345.21 L191.18,345.48 L192.40,345.77 L193.63,346.08 L194.86,346.41 L196.08,346.77 L197.31,347.14 L198.53,347.55 L199.76,347.97 L200.98,348.43 L202.21,348.91 L203.44,349.42 L204.66,349.97 L205.89,350.54 L207.11,351.15 L208.34,351.80 L209.57,352.48 L210.79,353.19 L212.02,353.95 L213.24,354.74 L214.47,355.58 L215.69,356.45 L216.92,357.37 L218.15,358.34 L219.37,359.35 L220.60,360.41 L221.82,361.51 L223.05,362.66 L224.28,363.86 L225.50,365.11 L226.73,366.41 L227.95,367.76 L229.18,369.17 L230.40,370.62 L231.63,372.12 L232.86,373.68 L234.08,375.29 L235.31,376.95 L236.53,378.66 L237.76,380.42 L238.98,382.23 L240.21,384.09 L241.44,385.99 L242.66,387.95 L243.89,389.95 L245.11,391.99 L246.34,394.07 L247.57,396.20 L248.79,398.36 L250.02,400.55 L251.24,402.78 L252.47,405.04 L253.69,407.33 L254.92,409.64 L256.15,411.97 L257.37,414.33 L258.60,416.69 L259.82,419.07 L261.05,421.45 L262.28,423.83 L263.50,426.22 L264.73,428.60 L265.95,430.97 L267.18,433.32 L268.40,435.66 L269.63,437.97 L270.86,440.25 L272.08,442.51 L273.31,444.72 L274.53,446.89 L275.76,449.02 L276.99,451.09 L278.21,453.11 L279.44,455.07 L280.66,456.97 L281.89,458.79 L283.11,460.54 L284.34,462.21 L285.57,463.80 L286.79,465.31 L288.02,466.73 L289.24,468.05 L290.47,469.28 L291.69,470.41 L292.92,471.43 L294.15,472.36 L295.37,473.17 L296.60,473.88 L297.82,474.47 L299.05,474.96 L300.28,475.33 L301.50,475.58 L302.73,475.72 L303.95,475.75 L305.18,475.66 L306.40,475.46 L307.63,475.15 L308.86,474.73 L310.08,474.20 L311.31,473.57 L312.53,472.83 L313.76,471.98 L314.99,471.03 L316.21,469.99 L317.44,468.84 L318.66,467.60 L319.89,466.28 L321.11,464.86 L322.34,463.35 L323.57,461.77 L324.79,460.11 L326.02,458.37 L327.24,456.57 L328.47,454.70 L329.70,452.76 L330.92,450.77 L332.15,448.73 L333.37,446.64 L334.60,444.50 L335.82,442.32 L337.05,440.11 L338.28,437.87 L339.50,435.60 L340.73,433.31 L341.95,431.00 L343.18,428.67 L344.41,426.34 L345.63,424.00 L346.86,421.66 L348.08,419.32 L349.31,416.99 L350.53,414.67 L351.76,412.36 L352.99,410.07 L354.21,407.79 L355.44,405.54 L356.66,403.32 L357.89,401.12 L359.11,398.96 L360.34,396.83 L361.57,394.73 L362.79,392.68 L364.02,390.66 L365.24,388.68 L366.47,386.75 L367.70,384.86 L368.92,383.02 L370.15,381.22 L371.37,379.47 L372.60,377.77 L373.82,376.12 L375.05,374.51 L376.28,372.96 L377.50,371.45 L378.73,370.00 L379.95,368.59 L381.18,367.24 L382.41,365.93 L383.63,364.67 L384.86,363.46 L386.08,362.30 L387.31,361.18 L388.53,360.11 L389.76,359.09 L390.99,358.11 L392.21,357.17 L393.44,356.28 L394.66,355.42 L395.89,354.61 L397.12,353.84 L398.34,353.10 L399.57,352.40 L400.79,351.74 L402.02,351.11 L403.24,350.52 L404.47,349.95 L405.70,349.42 L406.92,348.92 L408.15,348.44 L409.37,348.00 L410.60,347.57 L411.82,347.18 L413.05,346.81 L414.28,346.46 L415.50,346.13 L416.73,345.82 L417.95,345.53 L419.18,345.26 L420.41,345.01 L421.63,344.78 L422.86,344.56 L424.08,344.36 L425.31,344.17 L426.53,343.99 L427.76,343.83 L428.99,343.67 L430.21,343.53 L431.44,343.40 L432.66,343.28 L433.89,343.17 L435.12,343.06 L436.34,342.97 L437.57,342.88 L438.79,342.80 L440.02,342.72 L441.24,342.66 L442.47,342.59 L443.70,342.53 L444.92,342.48 L446.15,342.43 L447.37,342.39 L448.60,342.35 L449.83,342.31 L451.05,342.28 L452.28,342.24 L453.50,342.22 L454.73,342.19 L455.95,342.17 L457.18,342.15 L458.41,342.13 L459.63,342.11 L460.86,342.09 L462.08,342.08 L463.31,342.06 L464.53,342.05 L465.76,342.04 L466.99,342.03 L468.21,342.02 L469.44,342.02 L470.66,342.01 L471.89,342.00 L473.12,342.00 L474.34,341.99 L475.57,341.99 L476.79,341.98 L478.02,341.98 L479.24,341.98 L480.47,341.97 L481.70,341.97 L482.92,341.97 L484.15,341.97 L485.37,341.96 L486.60,341.96 L487.83,341.96 L489.05,341.96 L490.28,341.96 L491.50,341.96 L492.73,341.96 L493.95,341.96 L495.18,341.96 L496.41,341.95 L497.63,341.95 L498.86,341.95 L500.08,341.95 L501.31,341.95 L502.54,341.95 L503.76,341.95 L504.99,341.95 L506.21,341.95 L507.44,341.95 L508.66,341.95 L509.89,341.95 L511.12,341.95 L512.34,341.95 L513.57,341.95 L514.79,341.95 L516.02,341.95 L517.24,341.95 L518.47,341.95 L519.70,341.95 L520.92,341.95 L522.15,341.95 L523.37,341.95 L524.60,341.95 L525.83,341.95 L527.05,341.95 L528.28,341.95 L529.50,341.95 L530.73,341.95 L531.95,341.95 L533.18,341.95 L534.41,341.95 L535.63,341.95 L536.86,341.95 L538.08,341.95 L539.31,341.95 L540.54,341.95 L541.76,341.95 L542.99,341.95 L544.21,341.95 L545.44,341.95 L546.66,341.95 L547.89,341.95 L549.12,341.95 L550.34,341.95 L551.57,341.95 L552.79,341.95 L554.02,341.95 L555.25,341.95 L556.47,341.95 L557.70,341.95 L558.92,341.95 L560.15,341.95 L561.37,341.95 L562.60,341.95" fill="none" stroke="#0f0" stroke-width="1.65"/>
</g>
<line x1="263" y1="413.9" x2="342" y2="413.9" stroke="#2a2a2a" stroke-width="1.6"/>
<path d="M257.7,413.9 L268.4,410.8 L266.4,413.9 L268.4,417 Z" fill="#111"/>
<path d="M347.3,413.9 L336.6,410.8 L338.6,413.9 L336.6,417 Z" fill="#111"/>
<rect x="73.4" y="316.4" width="610.3" height="244" fill="none" stroke="#000" stroke-width="1.3"/>
<line x1="74" y1="527.6" x2="77.2" y2="527.6" stroke="#000" stroke-width="1.2"/>
<text x="44.22" y="535.9" font-size="23" fill="#000"  xml:space="preserve">94</text>
<line x1="74" y1="462.6" x2="77.2" y2="462.6" stroke="#000" stroke-width="1.2"/>
<text x="44.22" y="470.9" font-size="23" fill="#000"  xml:space="preserve">96</text>
<line x1="74" y1="397.6" x2="77.2" y2="397.6" stroke="#000" stroke-width="1.2"/>
<text x="44.22" y="405.9" font-size="23" fill="#000"  xml:space="preserve">98</text>
<line x1="74" y1="332.6" x2="77.2" y2="332.6" stroke="#000" stroke-width="1.2"/>
<path d="M40.36,340.90L40.36,324.52L38.84,324.52C38.11,326.64 36.50,327.79 33.97,328.02L33.97,329.63C35.81,329.51 37.42,328.94 38.27,328.02L38.27,340.90Z" fill="#000" /><text x="44.22" y="340.9" font-size="23" fill="#000"  xml:space="preserve">00</text>
<line x1="155.0" y1="559.4" x2="155.0" y2="556" stroke="#000" stroke-width="1.2"/>
<text x="129.42" y="584.8" font-size="23" fill="#000"  xml:space="preserve">2770</text>
<line x1="317.7" y1="559.4" x2="317.7" y2="556" stroke="#000" stroke-width="1.2"/>
<text x="292.14" y="584.8" font-size="23" fill="#000"  xml:space="preserve">2790</text>
<line x1="480.4" y1="559.4" x2="480.4" y2="556" stroke="#000" stroke-width="1.2"/>
<text x="454.86" y="584.8" font-size="23" fill="#000" >28</text><path d="M489.36,584.80L489.36,568.42L487.85,568.42C487.11,570.54 485.50,571.69 482.97,571.92L482.97,573.53C484.81,573.41 486.42,572.84 487.27,571.92L487.27,584.80Z" fill="#000" /><text x="493.23" y="584.8" font-size="23" fill="#000"  xml:space="preserve">0</text>
<line x1="643.2" y1="559.4" x2="643.2" y2="556" stroke="#000" stroke-width="1.2"/>
<text x="617.58" y="584.8" font-size="23" fill="#000"  xml:space="preserve">2830</text>
<text x="379.9" y="616.1" font-size="23" text-anchor="middle">Frequency (MHz)</text>
<text transform="translate(21.4,438.4) rotate(-90)" font-size="23" text-anchor="middle">Contrast (%)</text>
<text x="-0.4" y="323.1" font-size="33.5" stroke="#fff" stroke-width="0.7">b</text>
</g>
<clipPath id="cia"><rect x="453.4" y="9.1" width="179.5" height="184.5"/></clipPath>
<g clip-path="url(#cia)">
<g filter="url(#texA)">
<path d="M443.4 -0.9h20.4v5.4h-20.4zM613.4 -0.9h5.4v5.4h-5.4zM628.4 -0.9h10.4v5.4h-10.4zM468.4 4.1h5.4v5.4h-5.4zM613.4 4.1h5.4v5.4h-5.4zM628.4 4.1h10.4v5.4h-10.4zM463.4 9.1h10.4v5.4h-10.4zM613.4 9.1h5.4v5.4h-5.4zM628.4 9.1h5.4v5.4h-5.4zM443.4 14.1h20.4v5.4h-20.4zM613.4 14.1h5.4v5.4h-5.4zM628.4 14.1h10.4v5.4h-10.4zM613.4 19.1h5.4v5.4h-5.4zM623.4 19.1h20.4v5.4h-20.4zM613.4 24.1h30.4v5.4h-30.4zM608.4 29.1h10.4v5.4h-10.4zM623.4 29.1h20.4v5.4h-20.4zM563.4 34.1h5.4v5.4h-5.4zM608.4 34.1h10.4v5.4h-10.4zM513.4 39.1h5.4v5.4h-5.4zM533.4 39.1h5.4v5.4h-5.4zM613.4 39.1h5.4v5.4h-5.4zM518.4 44.1h10.4v5.4h-10.4zM513.4 64.1h10.4v5.4h-10.4zM613.4 129.1h5.4v5.4h-5.4zM498.4 169.1h5.4v5.4h-5.4zM518.4 169.1h5.4v5.4h-5.4zM493.4 179.1h5.4v5.4h-5.4zM493.4 184.1h5.4v5.4h-5.4zM623.4 184.1h5.4v5.4h-5.4zM633.4 184.1h10.4v5.4h-10.4zM618.4 189.1h5.4v5.4h-5.4zM638.4 194.1h5.4v5.4h-5.4zM493.4 199.1h5.4v5.4h-5.4zM518.4 199.1h5.4v5.4h-5.4zM623.4 199.1h20.4v5.4h-20.4z" fill="#c6c6d8"/><path d="M463.4 -0.9h10.4v5.4h-10.4zM443.4 4.1h25.4v5.4h-25.4zM443.4 9.1h20.4v5.4h-20.4zM463.4 14.1h10.4v5.4h-10.4zM478.4 24.1h5.4v5.4h-5.4zM608.4 24.1h5.4v5.4h-5.4zM503.4 29.1h5.4v5.4h-5.4zM603.4 29.1h5.4v5.4h-5.4zM508.4 34.1h5.4v5.4h-5.4zM538.4 34.1h5.4v5.4h-5.4zM598.4 34.1h10.4v5.4h-10.4zM608.4 49.1h5.4v5.4h-5.4zM578.4 69.1h5.4v5.4h-5.4zM598.4 69.1h5.4v5.4h-5.4zM603.4 119.1h5.4v5.4h-5.4zM608.4 124.1h5.4v5.4h-5.4zM493.4 174.1h5.4v5.4h-5.4zM628.4 179.1h5.4v5.4h-5.4zM518.4 184.1h5.4v5.4h-5.4zM618.4 184.1h5.4v5.4h-5.4zM518.4 189.1h5.4v5.4h-5.4zM518.4 194.1h5.4v5.4h-5.4zM618.4 194.1h5.4v5.4h-5.4z" fill="#c6c3d8"/><path d="M473.4 -0.9h5.4v5.4h-5.4zM618.4 -0.9h10.4v5.4h-10.4zM638.4 -0.9h5.4v5.4h-5.4zM473.4 4.1h5.4v5.4h-5.4zM618.4 4.1h10.4v5.4h-10.4zM638.4 4.1h5.4v5.4h-5.4zM488.4 9.1h5.4v5.4h-5.4zM618.4 9.1h10.4v5.4h-10.4zM633.4 9.1h10.4v5.4h-10.4zM473.4 14.1h5.4v5.4h-5.4zM618.4 14.1h10.4v5.4h-10.4zM638.4 14.1h5.4v5.4h-5.4zM443.4 19.1h5.4v5.4h-5.4zM458.4 19.1h5.4v5.4h-5.4zM478.4 19.1h5.4v5.4h-5.4zM618.4 19.1h5.4v5.4h-5.4zM443.4 24.1h5.4v5.4h-5.4zM458.4 24.1h5.4v5.4h-5.4zM498.4 24.1h5.4v5.4h-5.4zM618.4 29.1h5.4v5.4h-5.4zM543.4 34.1h5.4v5.4h-5.4zM618.4 34.1h10.4v5.4h-10.4zM638.4 34.1h5.4v5.4h-5.4zM563.4 39.1h5.4v5.4h-5.4zM513.4 44.1h5.4v5.4h-5.4zM528.4 44.1h5.4v5.4h-5.4zM613.4 44.1h5.4v5.4h-5.4zM568.4 54.1h5.4v5.4h-5.4zM508.4 64.1h5.4v5.4h-5.4zM523.4 64.1h5.4v5.4h-5.4zM603.4 64.1h5.4v5.4h-5.4zM553.4 69.1h5.4v5.4h-5.4zM568.4 74.1h5.4v5.4h-5.4zM588.4 94.1h5.4v5.4h-5.4zM593.4 99.1h5.4v5.4h-5.4zM598.4 109.1h5.4v5.4h-5.4zM618.4 134.1h5.4v5.4h-5.4zM503.4 169.1h5.4v5.4h-5.4zM518.4 174.1h5.4v5.4h-5.4zM518.4 179.1h5.4v5.4h-5.4zM628.4 184.1h5.4v5.4h-5.4zM493.4 189.1h5.4v5.4h-5.4zM623.4 189.1h20.4v5.4h-20.4zM493.4 194.1h5.4v5.4h-5.4zM623.4 194.1h15.4v5.4h-15.4z" fill="#c9c6d8"/><path d="M478.4 -0.9h5.4v5.4h-5.4zM488.4 -0.9h5.4v5.4h-5.4zM478.4 4.1h5.4v5.4h-5.4zM478.4 14.1h5.4v5.4h-5.4zM488.4 14.1h5.4v5.4h-5.4zM453.4 19.1h5.4v5.4h-5.4zM453.4 24.1h5.4v5.4h-5.4zM558.4 34.1h5.4v5.4h-5.4zM538.4 39.1h5.4v5.4h-5.4zM618.4 39.1h10.4v5.4h-10.4zM638.4 39.1h5.4v5.4h-5.4zM508.4 44.1h5.4v5.4h-5.4zM533.4 44.1h5.4v5.4h-5.4zM563.4 44.1h5.4v5.4h-5.4zM513.4 49.1h20.4v5.4h-20.4zM613.4 49.1h5.4v5.4h-5.4zM483.4 64.1h5.4v5.4h-5.4zM528.4 64.1h5.4v5.4h-5.4zM498.4 69.1h5.4v5.4h-5.4zM558.4 69.1h5.4v5.4h-5.4zM573.4 69.1h5.4v5.4h-5.4zM488.4 74.1h10.4v5.4h-10.4zM588.4 74.1h10.4v5.4h-10.4zM573.4 79.1h5.4v5.4h-5.4zM578.4 84.1h5.4v5.4h-5.4zM508.4 169.1h10.4v5.4h-10.4z" fill="#ccc9d8"/><path d="M483.4 -0.9h5.4v5.4h-5.4zM483.4 4.1h5.4v5.4h-5.4zM483.4 14.1h5.4v5.4h-5.4zM503.4 34.1h5.4v5.4h-5.4zM553.4 34.1h5.4v5.4h-5.4zM638.4 44.1h5.4v5.4h-5.4zM513.4 54.1h5.4v5.4h-5.4zM523.4 59.1h5.4v5.4h-5.4zM608.4 59.1h5.4v5.4h-5.4zM563.4 69.1h10.4v5.4h-10.4zM578.4 74.1h5.4v5.4h-5.4zM598.4 104.1h5.4v5.4h-5.4zM628.4 134.1h10.4v5.4h-10.4zM508.4 174.1h10.4v5.4h-10.4zM498.4 199.1h5.4v5.4h-5.4z" fill="#cfccd5"/><path d="M493.4 -0.9h5.4v5.4h-5.4zM533.4 69.1h5.4v5.4h-5.4zM618.4 139.1h5.4v5.4h-5.4z" fill="#c0bddb"/><path d="M498.4 -0.9h5.4v5.4h-5.4zM603.4 -0.9h5.4v5.4h-5.4zM498.4 14.1h5.4v5.4h-5.4zM603.4 14.1h5.4v5.4h-5.4zM578.4 39.1h5.4v5.4h-5.4zM598.4 54.1h5.4v5.4h-5.4zM583.4 64.1h5.4v5.4h-5.4zM508.4 74.1h10.4v5.4h-10.4zM538.4 74.1h5.4v5.4h-5.4zM563.4 84.1h5.4v5.4h-5.4zM573.4 99.1h5.4v5.4h-5.4zM578.4 104.1h5.4v5.4h-5.4zM503.4 109.1h5.4v5.4h-5.4zM583.4 109.1h5.4v5.4h-5.4zM523.4 119.1h5.4v5.4h-5.4zM583.4 119.1h5.4v5.4h-5.4zM583.4 124.1h5.4v5.4h-5.4zM558.4 129.1h5.4v5.4h-5.4zM578.4 129.1h5.4v5.4h-5.4zM593.4 129.1h5.4v5.4h-5.4zM508.4 134.1h5.4v5.4h-5.4zM553.4 134.1h5.4v5.4h-5.4zM478.4 139.1h5.4v5.4h-5.4zM603.4 139.1h5.4v5.4h-5.4zM513.4 144.1h5.4v5.4h-5.4zM608.4 144.1h5.4v5.4h-5.4zM518.4 149.1h5.4v5.4h-5.4zM548.4 149.1h5.4v5.4h-5.4zM538.4 154.1h5.4v5.4h-5.4zM478.4 159.1h5.4v5.4h-5.4zM443.4 179.1h20.4v5.4h-20.4zM528.4 179.1h5.4v5.4h-5.4zM463.4 184.1h5.4v5.4h-5.4zM543.4 189.1h5.4v5.4h-5.4zM463.4 199.1h5.4v5.4h-5.4z" fill="#aeaed8"/><path d="M503.4 -0.9h5.4v5.4h-5.4zM503.4 14.1h5.4v5.4h-5.4zM563.4 14.1h5.4v5.4h-5.4zM583.4 54.1h5.4v5.4h-5.4zM548.4 84.1h5.4v5.4h-5.4zM478.4 109.1h5.4v5.4h-5.4z" fill="#9ca2d5"/><path d="M508.4 -0.9h5.4v5.4h-5.4zM573.4 -0.9h5.4v5.4h-5.4zM508.4 14.1h5.4v5.4h-5.4zM553.4 14.1h5.4v5.4h-5.4zM573.4 14.1h5.4v5.4h-5.4zM463.4 39.1h5.4v5.4h-5.4zM473.4 64.1h5.4v5.4h-5.4zM578.4 164.1h5.4v5.4h-5.4zM603.4 164.1h5.4v5.4h-5.4zM568.4 169.1h5.4v5.4h-5.4zM603.4 169.1h5.4v5.4h-5.4z" fill="#9399d2"/><path d="M513.4 -0.9h5.4v5.4h-5.4zM508.4 9.1h5.4v5.4h-5.4zM513.4 14.1h5.4v5.4h-5.4zM453.4 39.1h5.4v5.4h-5.4zM443.4 139.1h5.4v5.4h-5.4zM458.4 139.1h5.4v5.4h-5.4zM573.4 189.1h5.4v5.4h-5.4zM573.4 194.1h5.4v5.4h-5.4z" fill="#9093d2"/><path d="M518.4 -0.9h25.4v5.4h-25.4zM548.4 -0.9h5.4v5.4h-5.4zM518.4 14.1h25.4v5.4h-25.4zM548.4 14.1h5.4v5.4h-5.4zM473.4 104.1h5.4v5.4h-5.4zM473.4 109.1h5.4v5.4h-5.4zM463.4 129.1h5.4v5.4h-5.4zM448.4 139.1h10.4v5.4h-10.4zM573.4 169.1h5.4v5.4h-5.4zM598.4 169.1h5.4v5.4h-5.4zM573.4 184.1h5.4v5.4h-5.4zM593.4 184.1h5.4v5.4h-5.4zM578.4 189.1h5.4v5.4h-5.4zM593.4 189.1h5.4v5.4h-5.4zM593.4 194.1h5.4v5.4h-5.4zM573.4 199.1h5.4v5.4h-5.4z" fill="#8d93d2"/><path d="M543.4 -0.9h5.4v5.4h-5.4zM578.4 -0.9h5.4v5.4h-5.4zM513.4 4.1h25.4v5.4h-25.4zM548.4 4.1h5.4v5.4h-5.4zM513.4 9.1h5.4v5.4h-5.4zM523.4 9.1h10.4v5.4h-10.4zM543.4 14.1h5.4v5.4h-5.4zM578.4 14.1h5.4v5.4h-5.4zM468.4 49.1h5.4v5.4h-5.4zM473.4 69.1h5.4v5.4h-5.4zM473.4 79.1h5.4v5.4h-5.4zM578.4 169.1h5.4v5.4h-5.4zM593.4 169.1h5.4v5.4h-5.4zM573.4 174.1h5.4v5.4h-5.4zM593.4 179.1h5.4v5.4h-5.4zM578.4 184.1h5.4v5.4h-5.4zM578.4 194.1h5.4v5.4h-5.4zM578.4 199.1h5.4v5.4h-5.4z" fill="#8a90cf"/><path d="M553.4 -0.9h5.4v5.4h-5.4z" fill="#9399d5"/><path d="M558.4 -0.9h5.4v5.4h-5.4zM568.4 -0.9h5.4v5.4h-5.4zM563.4 4.1h5.4v5.4h-5.4zM568.4 14.1h5.4v5.4h-5.4zM513.4 19.1h5.4v5.4h-5.4zM548.4 19.1h5.4v5.4h-5.4zM588.4 54.1h5.4v5.4h-5.4zM473.4 59.1h5.4v5.4h-5.4zM588.4 59.1h5.4v5.4h-5.4zM478.4 99.1h5.4v5.4h-5.4zM468.4 134.1h5.4v5.4h-5.4zM463.4 144.1h5.4v5.4h-5.4zM583.4 159.1h5.4v5.4h-5.4zM608.4 159.1h5.4v5.4h-5.4zM568.4 164.1h5.4v5.4h-5.4zM563.4 169.1h5.4v5.4h-5.4zM608.4 169.1h5.4v5.4h-5.4z" fill="#9c9fd5"/><path d="M563.4 -0.9h5.4v5.4h-5.4zM508.4 19.1h5.4v5.4h-5.4zM573.4 19.1h5.4v5.4h-5.4zM583.4 49.1h5.4v5.4h-5.4zM478.4 79.1h5.4v5.4h-5.4zM543.4 79.1h10.4v5.4h-10.4zM478.4 84.1h5.4v5.4h-5.4zM513.4 84.1h10.4v5.4h-10.4zM538.4 84.1h10.4v5.4h-10.4zM553.4 84.1h5.4v5.4h-5.4zM518.4 89.1h5.4v5.4h-5.4zM478.4 94.1h5.4v5.4h-5.4zM473.4 119.1h5.4v5.4h-5.4zM468.4 139.1h5.4v5.4h-5.4zM598.4 154.1h10.4v5.4h-10.4zM578.4 159.1h5.4v5.4h-5.4zM613.4 159.1h5.4v5.4h-5.4zM613.4 164.1h5.4v5.4h-5.4zM533.4 189.1h5.4v5.4h-5.4z" fill="#9fa2d5"/><path d="M583.4 -0.9h5.4v5.4h-5.4zM593.4 4.1h5.4v5.4h-5.4zM583.4 14.1h5.4v5.4h-5.4zM468.4 59.1h5.4v5.4h-5.4zM463.4 119.1h5.4v5.4h-5.4z" fill="#8187cc"/><path d="M588.4 -0.9h5.4v5.4h-5.4zM588.4 14.1h5.4v5.4h-5.4zM463.4 44.1h5.4v5.4h-5.4z" fill="#7e84c9"/><path d="M593.4 -0.9h5.4v5.4h-5.4zM538.4 4.1h10.4v5.4h-10.4zM578.4 4.1h5.4v5.4h-5.4zM538.4 9.1h5.4v5.4h-5.4zM548.4 9.1h5.4v5.4h-5.4zM468.4 54.1h5.4v5.4h-5.4zM468.4 89.1h5.4v5.4h-5.4zM468.4 94.1h5.4v5.4h-5.4zM463.4 124.1h5.4v5.4h-5.4zM583.4 169.1h10.4v5.4h-10.4zM578.4 174.1h5.4v5.4h-5.4zM583.4 184.1h10.4v5.4h-10.4zM583.4 189.1h10.4v5.4h-10.4zM583.4 194.1h10.4v5.4h-10.4zM583.4 199.1h10.4v5.4h-10.4z" fill="#878dcf"/><path d="M598.4 -0.9h5.4v5.4h-5.4zM558.4 4.1h5.4v5.4h-5.4zM568.4 4.1h5.4v5.4h-5.4zM503.4 9.1h5.4v5.4h-5.4zM598.4 14.1h5.4v5.4h-5.4zM538.4 19.1h5.4v5.4h-5.4zM593.4 19.1h5.4v5.4h-5.4zM473.4 89.1h5.4v5.4h-5.4zM473.4 94.1h5.4v5.4h-5.4zM443.4 144.1h20.4v5.4h-20.4zM593.4 159.1h15.4v5.4h-15.4zM608.4 164.1h5.4v5.4h-5.4zM563.4 174.1h5.4v5.4h-5.4zM603.4 174.1h5.4v5.4h-5.4zM563.4 179.1h5.4v5.4h-5.4zM563.4 184.1h5.4v5.4h-5.4zM598.4 184.1h5.4v5.4h-5.4zM563.4 189.1h5.4v5.4h-5.4zM563.4 194.1h5.4v5.4h-5.4zM563.4 199.1h5.4v5.4h-5.4zM598.4 199.1h5.4v5.4h-5.4z" fill="#999cd5"/><path d="M608.4 -0.9h5.4v5.4h-5.4zM493.4 4.1h5.4v5.4h-5.4zM608.4 4.1h5.4v5.4h-5.4zM608.4 9.1h5.4v5.4h-5.4zM493.4 14.1h5.4v5.4h-5.4zM608.4 14.1h5.4v5.4h-5.4zM603.4 24.1h5.4v5.4h-5.4zM508.4 29.1h5.4v5.4h-5.4zM543.4 29.1h5.4v5.4h-5.4zM593.4 29.1h5.4v5.4h-5.4zM568.4 34.1h5.4v5.4h-5.4zM568.4 39.1h5.4v5.4h-5.4zM593.4 39.1h5.4v5.4h-5.4zM568.4 44.1h5.4v5.4h-5.4zM603.4 44.1h5.4v5.4h-5.4zM478.4 54.1h5.4v5.4h-5.4zM603.4 54.1h5.4v5.4h-5.4zM573.4 59.1h5.4v5.4h-5.4zM523.4 69.1h10.4v5.4h-10.4zM583.4 69.1h5.4v5.4h-5.4zM488.4 79.1h10.4v5.4h-10.4zM518.4 109.1h5.4v5.4h-5.4zM593.4 109.1h5.4v5.4h-5.4zM488.4 119.1h5.4v5.4h-5.4zM598.4 119.1h5.4v5.4h-5.4zM488.4 124.1h5.4v5.4h-5.4zM603.4 124.1h5.4v5.4h-5.4zM608.4 129.1h5.4v5.4h-5.4zM493.4 159.1h25.4v5.4h-25.4zM523.4 164.1h5.4v5.4h-5.4zM488.4 169.1h5.4v5.4h-5.4zM543.4 169.1h10.4v5.4h-10.4zM488.4 174.1h5.4v5.4h-5.4zM523.4 174.1h5.4v5.4h-5.4zM623.4 174.1h5.4v5.4h-5.4zM633.4 174.1h10.4v5.4h-10.4zM488.4 179.1h5.4v5.4h-5.4zM488.4 184.1h5.4v5.4h-5.4zM488.4 189.1h5.4v5.4h-5.4zM488.4 194.1h5.4v5.4h-5.4zM488.4 199.1h5.4v5.4h-5.4zM613.4 199.1h5.4v5.4h-5.4z" fill="#bdbddb"/><path d="M488.4 4.1h5.4v5.4h-5.4zM473.4 9.1h5.4v5.4h-5.4zM448.4 19.1h5.4v5.4h-5.4zM493.4 19.1h5.4v5.4h-5.4zM448.4 24.1h5.4v5.4h-5.4zM628.4 34.1h10.4v5.4h-10.4zM508.4 39.1h5.4v5.4h-5.4zM608.4 54.1h5.4v5.4h-5.4zM583.4 89.1h5.4v5.4h-5.4zM498.4 174.1h5.4v5.4h-5.4z" fill="#c9c9d8"/><path d="M498.4 4.1h5.4v5.4h-5.4zM513.4 24.1h5.4v5.4h-5.4zM538.4 24.1h5.4v5.4h-5.4zM573.4 24.1h5.4v5.4h-5.4zM483.4 84.1h5.4v5.4h-5.4zM568.4 99.1h5.4v5.4h-5.4zM503.4 104.1h5.4v5.4h-5.4zM533.4 104.1h5.4v5.4h-5.4zM573.4 109.1h10.4v5.4h-10.4zM558.4 114.1h5.4v5.4h-5.4zM573.4 114.1h10.4v5.4h-10.4zM528.4 119.1h5.4v5.4h-5.4zM558.4 119.1h5.4v5.4h-5.4zM573.4 119.1h5.4v5.4h-5.4zM513.4 124.1h5.4v5.4h-5.4zM513.4 129.1h5.4v5.4h-5.4zM518.4 134.1h10.4v5.4h-10.4zM538.4 134.1h10.4v5.4h-10.4zM543.4 139.1h5.4v5.4h-5.4zM538.4 144.1h5.4v5.4h-5.4zM478.4 149.1h5.4v5.4h-5.4zM528.4 149.1h10.4v5.4h-10.4zM618.4 149.1h5.4v5.4h-5.4zM473.4 164.1h5.4v5.4h-5.4zM603.4 189.1h5.4v5.4h-5.4z" fill="#ababd8"/><path d="M503.4 4.1h5.4v5.4h-5.4zM563.4 9.1h5.4v5.4h-5.4zM558.4 14.1h5.4v5.4h-5.4zM518.4 19.1h20.4v5.4h-20.4zM543.4 19.1h5.4v5.4h-5.4zM468.4 39.1h5.4v5.4h-5.4zM478.4 104.1h5.4v5.4h-5.4zM468.4 129.1h5.4v5.4h-5.4zM588.4 159.1h5.4v5.4h-5.4zM598.4 189.1h5.4v5.4h-5.4zM598.4 194.1h5.4v5.4h-5.4z" fill="#999fd5"/><path d="M508.4 4.1h5.4v5.4h-5.4zM553.4 4.1h5.4v5.4h-5.4zM553.4 9.1h5.4v5.4h-5.4zM573.4 9.1h5.4v5.4h-5.4zM443.4 39.1h10.4v5.4h-10.4zM458.4 39.1h5.4v5.4h-5.4zM468.4 119.1h5.4v5.4h-5.4zM463.4 134.1h5.4v5.4h-5.4zM583.4 164.1h15.4v5.4h-15.4zM568.4 174.1h5.4v5.4h-5.4zM598.4 174.1h5.4v5.4h-5.4zM568.4 179.1h5.4v5.4h-5.4z" fill="#9096d2"/><path d="M573.4 4.1h5.4v5.4h-5.4zM583.4 19.1h10.4v5.4h-10.4zM468.4 44.1h5.4v5.4h-5.4zM473.4 84.1h5.4v5.4h-5.4zM473.4 99.1h5.4v5.4h-5.4zM598.4 164.1h5.4v5.4h-5.4zM568.4 184.1h5.4v5.4h-5.4zM568.4 189.1h5.4v5.4h-5.4zM568.4 194.1h5.4v5.4h-5.4zM568.4 199.1h5.4v5.4h-5.4z" fill="#9396d2"/><path d="M583.4 4.1h5.4v5.4h-5.4zM468.4 104.1h5.4v5.4h-5.4zM468.4 109.1h5.4v5.4h-5.4zM443.4 124.1h5.4v5.4h-5.4zM458.4 124.1h5.4v5.4h-5.4zM448.4 129.1h10.4v5.4h-10.4z" fill="#7b84c9"/><path d="M588.4 4.1h5.4v5.4h-5.4zM463.4 114.1h5.4v5.4h-5.4zM448.4 124.1h10.4v5.4h-10.4z" fill="#7881c6"/><path d="M598.4 4.1h5.4v5.4h-5.4zM558.4 9.1h5.4v5.4h-5.4zM568.4 9.1h5.4v5.4h-5.4zM578.4 19.1h5.4v5.4h-5.4zM468.4 124.1h5.4v5.4h-5.4z" fill="#969cd5"/><path d="M603.4 4.1h5.4v5.4h-5.4zM603.4 9.1h5.4v5.4h-5.4zM543.4 24.1h5.4v5.4h-5.4zM593.4 24.1h5.4v5.4h-5.4zM443.4 34.1h20.4v5.4h-20.4zM473.4 34.1h5.4v5.4h-5.4zM588.4 44.1h5.4v5.4h-5.4zM578.4 59.1h5.4v5.4h-5.4zM593.4 64.1h5.4v5.4h-5.4zM543.4 74.1h10.4v5.4h-10.4zM558.4 79.1h5.4v5.4h-5.4zM568.4 94.1h5.4v5.4h-5.4zM508.4 99.1h5.4v5.4h-5.4zM528.4 99.1h5.4v5.4h-5.4zM488.4 104.1h10.4v5.4h-10.4zM563.4 104.1h15.4v5.4h-15.4zM483.4 109.1h5.4v5.4h-5.4zM533.4 109.1h5.4v5.4h-5.4zM558.4 109.1h15.4v5.4h-15.4zM563.4 114.1h10.4v5.4h-10.4zM583.4 114.1h5.4v5.4h-5.4zM478.4 119.1h5.4v5.4h-5.4zM563.4 119.1h10.4v5.4h-10.4zM578.4 119.1h5.4v5.4h-5.4zM508.4 124.1h5.4v5.4h-5.4zM558.4 124.1h25.4v5.4h-25.4zM508.4 129.1h5.4v5.4h-5.4zM553.4 129.1h5.4v5.4h-5.4zM583.4 129.1h10.4v5.4h-10.4zM513.4 134.1h5.4v5.4h-5.4zM528.4 134.1h10.4v5.4h-10.4zM548.4 134.1h5.4v5.4h-5.4zM583.4 134.1h5.4v5.4h-5.4zM598.4 134.1h5.4v5.4h-5.4zM513.4 139.1h30.4v5.4h-30.4zM548.4 139.1h5.4v5.4h-5.4zM583.4 139.1h5.4v5.4h-5.4zM478.4 144.1h5.4v5.4h-5.4zM518.4 144.1h20.4v5.4h-20.4zM543.4 144.1h10.4v5.4h-10.4zM583.4 144.1h5.4v5.4h-5.4zM523.4 149.1h5.4v5.4h-5.4zM538.4 149.1h10.4v5.4h-10.4zM583.4 149.1h5.4v5.4h-5.4zM623.4 149.1h20.4v5.4h-20.4zM478.4 154.1h5.4v5.4h-5.4zM528.4 154.1h10.4v5.4h-10.4zM573.4 154.1h5.4v5.4h-5.4zM563.4 159.1h5.4v5.4h-5.4zM558.4 164.1h5.4v5.4h-5.4zM473.4 169.1h5.4v5.4h-5.4zM473.4 174.1h5.4v5.4h-5.4zM463.4 179.1h15.4v5.4h-15.4zM538.4 179.1h5.4v5.4h-5.4zM468.4 184.1h10.4v5.4h-10.4zM468.4 189.1h10.4v5.4h-10.4zM468.4 194.1h10.4v5.4h-10.4zM468.4 199.1h10.4v5.4h-10.4z" fill="#abaed8"/><path d="M478.4 9.1h10.4v5.4h-10.4zM628.4 39.1h5.4v5.4h-5.4zM618.4 44.1h5.4v5.4h-5.4zM518.4 54.1h10.4v5.4h-10.4zM513.4 59.1h10.4v5.4h-10.4zM568.4 59.1h5.4v5.4h-5.4zM503.4 64.1h5.4v5.4h-5.4zM533.4 64.1h5.4v5.4h-5.4zM573.4 74.1h5.4v5.4h-5.4zM583.4 74.1h5.4v5.4h-5.4zM603.4 114.1h5.4v5.4h-5.4zM608.4 119.1h5.4v5.4h-5.4zM613.4 124.1h5.4v5.4h-5.4zM623.4 134.1h5.4v5.4h-5.4zM638.4 134.1h5.4v5.4h-5.4zM503.4 174.1h5.4v5.4h-5.4zM498.4 179.1h5.4v5.4h-5.4z" fill="#cfccd8"/><path d="M493.4 9.1h5.4v5.4h-5.4zM538.4 29.1h5.4v5.4h-5.4zM568.4 29.1h5.4v5.4h-5.4zM588.4 34.1h5.4v5.4h-5.4zM508.4 69.1h10.4v5.4h-10.4zM588.4 69.1h5.4v5.4h-5.4zM483.4 74.1h5.4v5.4h-5.4zM558.4 74.1h5.4v5.4h-5.4zM573.4 89.1h5.4v5.4h-5.4zM578.4 94.1h5.4v5.4h-5.4zM513.4 109.1h5.4v5.4h-5.4zM523.4 109.1h5.4v5.4h-5.4zM488.4 114.1h5.4v5.4h-5.4zM593.4 114.1h5.4v5.4h-5.4zM493.4 119.1h5.4v5.4h-5.4zM483.4 124.1h5.4v5.4h-5.4zM493.4 124.1h5.4v5.4h-5.4zM488.4 129.1h5.4v5.4h-5.4zM613.4 139.1h5.4v5.4h-5.4zM498.4 154.1h10.4v5.4h-10.4zM518.4 159.1h5.4v5.4h-5.4zM543.4 164.1h5.4v5.4h-5.4zM543.4 174.1h5.4v5.4h-5.4zM523.4 179.1h5.4v5.4h-5.4z" fill="#babad8"/><path d="M498.4 9.1h5.4v5.4h-5.4zM503.4 19.1h5.4v5.4h-5.4zM563.4 19.1h5.4v5.4h-5.4zM518.4 24.1h20.4v5.4h-20.4zM473.4 39.1h5.4v5.4h-5.4zM593.4 49.1h5.4v5.4h-5.4zM588.4 64.1h5.4v5.4h-5.4zM503.4 79.1h5.4v5.4h-5.4zM498.4 84.1h5.4v5.4h-5.4zM563.4 89.1h5.4v5.4h-5.4zM563.4 99.1h5.4v5.4h-5.4zM498.4 104.1h5.4v5.4h-5.4zM553.4 104.1h10.4v5.4h-10.4zM553.4 109.1h5.4v5.4h-5.4zM533.4 114.1h5.4v5.4h-5.4zM553.4 114.1h5.4v5.4h-5.4zM553.4 119.1h5.4v5.4h-5.4zM518.4 124.1h15.4v5.4h-15.4zM553.4 124.1h5.4v5.4h-5.4zM518.4 129.1h35.4v5.4h-35.4zM588.4 134.1h10.4v5.4h-10.4zM598.4 139.1h5.4v5.4h-5.4zM603.4 144.1h5.4v5.4h-5.4zM613.4 149.1h5.4v5.4h-5.4zM443.4 154.1h20.4v5.4h-20.4zM578.4 154.1h5.4v5.4h-5.4zM443.4 159.1h20.4v5.4h-20.4zM473.4 159.1h5.4v5.4h-5.4zM623.4 159.1h20.4v5.4h-20.4zM468.4 164.1h5.4v5.4h-5.4zM618.4 164.1h5.4v5.4h-5.4zM468.4 169.1h5.4v5.4h-5.4zM558.4 169.1h5.4v5.4h-5.4zM443.4 174.1h30.4v5.4h-30.4zM528.4 184.1h5.4v5.4h-5.4zM603.4 184.1h5.4v5.4h-5.4zM603.4 194.1h5.4v5.4h-5.4zM528.4 199.1h5.4v5.4h-5.4z" fill="#a8abd8"/><path d="M518.4 9.1h5.4v5.4h-5.4zM533.4 9.1h5.4v5.4h-5.4zM593.4 174.1h5.4v5.4h-5.4zM578.4 179.1h5.4v5.4h-5.4z" fill="#8790cf"/><path d="M543.4 9.1h5.4v5.4h-5.4zM473.4 74.1h5.4v5.4h-5.4zM443.4 134.1h5.4v5.4h-5.4zM458.4 134.1h5.4v5.4h-5.4zM583.4 179.1h5.4v5.4h-5.4z" fill="#848dcc"/><path d="M578.4 9.1h5.4v5.4h-5.4zM468.4 114.1h5.4v5.4h-5.4zM448.4 134.1h5.4v5.4h-5.4zM583.4 174.1h10.4v5.4h-10.4zM588.4 179.1h5.4v5.4h-5.4z" fill="#848acc"/><path d="M583.4 9.1h5.4v5.4h-5.4z" fill="#7b81c9"/><path d="M588.4 9.1h5.4v5.4h-5.4zM468.4 79.1h5.4v5.4h-5.4zM443.4 119.1h5.4v5.4h-5.4zM458.4 119.1h5.4v5.4h-5.4z" fill="#757ec6"/><path d="M593.4 9.1h5.4v5.4h-5.4zM468.4 84.1h5.4v5.4h-5.4z" fill="#7e87c9"/><path d="M598.4 9.1h5.4v5.4h-5.4zM473.4 114.1h5.4v5.4h-5.4zM463.4 139.1h5.4v5.4h-5.4zM573.4 164.1h5.4v5.4h-5.4zM598.4 179.1h5.4v5.4h-5.4z" fill="#9699d5"/><path d="M593.4 14.1h5.4v5.4h-5.4z" fill="#848dcf"/><path d="M463.4 19.1h5.4v5.4h-5.4zM453.4 29.1h5.4v5.4h-5.4zM553.4 29.1h10.4v5.4h-10.4zM518.4 39.1h15.4v5.4h-15.4zM608.4 39.1h5.4v5.4h-5.4zM608.4 44.1h5.4v5.4h-5.4zM573.4 64.1h5.4v5.4h-5.4zM483.4 69.1h5.4v5.4h-5.4zM548.4 69.1h5.4v5.4h-5.4zM598.4 114.1h5.4v5.4h-5.4zM623.4 139.1h15.4v5.4h-15.4zM503.4 164.1h15.4v5.4h-15.4zM493.4 169.1h5.4v5.4h-5.4zM623.4 179.1h5.4v5.4h-5.4zM633.4 179.1h10.4v5.4h-10.4zM618.4 199.1h5.4v5.4h-5.4z" fill="#c3c3d8"/><path d="M468.4 19.1h5.4v5.4h-5.4zM463.4 24.1h5.4v5.4h-5.4zM443.4 29.1h5.4v5.4h-5.4zM458.4 29.1h5.4v5.4h-5.4zM548.4 29.1h5.4v5.4h-5.4zM518.4 34.1h15.4v5.4h-15.4zM598.4 39.1h5.4v5.4h-5.4zM478.4 49.1h5.4v5.4h-5.4zM568.4 49.1h5.4v5.4h-5.4zM538.4 69.1h10.4v5.4h-10.4zM498.4 74.1h5.4v5.4h-5.4zM588.4 99.1h5.4v5.4h-5.4zM493.4 164.1h5.4v5.4h-5.4zM523.4 169.1h5.4v5.4h-5.4zM628.4 174.1h5.4v5.4h-5.4zM618.4 179.1h5.4v5.4h-5.4zM613.4 184.1h5.4v5.4h-5.4zM613.4 194.1h5.4v5.4h-5.4z" fill="#c0c0db"/><path d="M473.4 19.1h5.4v5.4h-5.4zM608.4 19.1h5.4v5.4h-5.4zM448.4 29.1h5.4v5.4h-5.4zM563.4 29.1h5.4v5.4h-5.4zM598.4 29.1h5.4v5.4h-5.4zM478.4 34.1h5.4v5.4h-5.4zM513.4 34.1h5.4v5.4h-5.4zM533.4 34.1h5.4v5.4h-5.4zM593.4 34.1h5.4v5.4h-5.4zM478.4 39.1h5.4v5.4h-5.4zM478.4 44.1h5.4v5.4h-5.4zM603.4 59.1h5.4v5.4h-5.4zM503.4 69.1h5.4v5.4h-5.4zM568.4 79.1h5.4v5.4h-5.4zM583.4 94.1h5.4v5.4h-5.4zM593.4 104.1h5.4v5.4h-5.4zM613.4 134.1h5.4v5.4h-5.4zM518.4 164.1h5.4v5.4h-5.4zM613.4 189.1h5.4v5.4h-5.4z" fill="#c0c0d8"/><path d="M483.4 19.1h5.4v5.4h-5.4zM503.4 39.1h5.4v5.4h-5.4zM543.4 39.1h5.4v5.4h-5.4zM558.4 39.1h5.4v5.4h-5.4zM538.4 44.1h5.4v5.4h-5.4zM628.4 44.1h10.4v5.4h-10.4zM533.4 49.1h5.4v5.4h-5.4zM563.4 49.1h5.4v5.4h-5.4zM618.4 49.1h5.4v5.4h-5.4zM508.4 54.1h5.4v5.4h-5.4zM528.4 54.1h5.4v5.4h-5.4zM613.4 54.1h5.4v5.4h-5.4zM483.4 59.1h5.4v5.4h-5.4zM528.4 59.1h5.4v5.4h-5.4zM538.4 64.1h5.4v5.4h-5.4zM568.4 64.1h5.4v5.4h-5.4zM603.4 69.1h5.4v5.4h-5.4zM598.4 74.1h5.4v5.4h-5.4zM578.4 79.1h5.4v5.4h-5.4zM583.4 84.1h5.4v5.4h-5.4zM588.4 89.1h5.4v5.4h-5.4zM593.4 94.1h5.4v5.4h-5.4zM503.4 179.1h5.4v5.4h-5.4zM513.4 184.1h5.4v5.4h-5.4zM498.4 189.1h5.4v5.4h-5.4zM513.4 189.1h5.4v5.4h-5.4zM513.4 194.1h5.4v5.4h-5.4zM513.4 199.1h5.4v5.4h-5.4z" fill="#d2cfd5"/><path d="M488.4 19.1h5.4v5.4h-5.4zM623.4 49.1h5.4v5.4h-5.4zM633.4 49.1h10.4v5.4h-10.4zM583.4 79.1h5.4v5.4h-5.4zM508.4 179.1h5.4v5.4h-5.4z" fill="#d5cfd5"/><path d="M498.4 19.1h5.4v5.4h-5.4zM468.4 24.1h10.4v5.4h-10.4zM513.4 29.1h5.4v5.4h-5.4zM598.4 44.1h5.4v5.4h-5.4zM523.4 104.1h5.4v5.4h-5.4zM493.4 114.1h5.4v5.4h-5.4zM493.4 129.1h5.4v5.4h-5.4zM608.4 134.1h5.4v5.4h-5.4zM493.4 154.1h5.4v5.4h-5.4zM488.4 159.1h5.4v5.4h-5.4zM628.4 169.1h5.4v5.4h-5.4zM613.4 179.1h5.4v5.4h-5.4zM608.4 189.1h5.4v5.4h-5.4z" fill="#b7bad8"/><path d="M553.4 19.1h5.4v5.4h-5.4zM583.4 24.1h5.4v5.4h-5.4zM588.4 49.1h5.4v5.4h-5.4zM473.4 54.1h5.4v5.4h-5.4zM593.4 54.1h5.4v5.4h-5.4zM583.4 59.1h5.4v5.4h-5.4zM593.4 59.1h5.4v5.4h-5.4zM478.4 74.1h5.4v5.4h-5.4zM538.4 79.1h5.4v5.4h-5.4zM508.4 84.1h5.4v5.4h-5.4zM523.4 84.1h15.4v5.4h-15.4zM478.4 89.1h5.4v5.4h-5.4zM498.4 89.1h15.4v5.4h-15.4zM528.4 89.1h20.4v5.4h-20.4zM553.4 89.1h10.4v5.4h-10.4zM483.4 94.1h25.4v5.4h-25.4zM483.4 99.1h5.4v5.4h-5.4zM468.4 144.1h5.4v5.4h-5.4zM443.4 149.1h25.4v5.4h-25.4zM588.4 154.1h5.4v5.4h-5.4zM613.4 154.1h5.4v5.4h-5.4zM573.4 159.1h5.4v5.4h-5.4zM563.4 164.1h5.4v5.4h-5.4zM603.4 179.1h5.4v5.4h-5.4zM533.4 184.1h5.4v5.4h-5.4zM558.4 189.1h5.4v5.4h-5.4zM533.4 194.1h5.4v5.4h-5.4zM558.4 194.1h5.4v5.4h-5.4zM533.4 199.1h5.4v5.4h-5.4z" fill="#a2a5d5"/><path d="M558.4 19.1h5.4v5.4h-5.4zM568.4 19.1h5.4v5.4h-5.4zM598.4 19.1h5.4v5.4h-5.4zM578.4 24.1h5.4v5.4h-5.4zM588.4 24.1h5.4v5.4h-5.4zM463.4 34.1h10.4v5.4h-10.4zM473.4 49.1h5.4v5.4h-5.4zM578.4 49.1h5.4v5.4h-5.4zM578.4 54.1h5.4v5.4h-5.4zM508.4 79.1h30.4v5.4h-30.4zM553.4 79.1h5.4v5.4h-5.4zM503.4 84.1h5.4v5.4h-5.4zM558.4 84.1h5.4v5.4h-5.4zM483.4 89.1h15.4v5.4h-15.4zM508.4 94.1h10.4v5.4h-10.4zM523.4 94.1h40.4v5.4h-40.4zM488.4 99.1h20.4v5.4h-20.4zM538.4 99.1h20.4v5.4h-20.4zM483.4 104.1h5.4v5.4h-5.4zM543.4 104.1h5.4v5.4h-5.4zM543.4 109.1h5.4v5.4h-5.4zM478.4 114.1h5.4v5.4h-5.4zM538.4 114.1h15.4v5.4h-15.4zM538.4 119.1h15.4v5.4h-15.4zM473.4 124.1h5.4v5.4h-5.4zM538.4 124.1h10.4v5.4h-10.4zM473.4 139.1h5.4v5.4h-5.4zM593.4 139.1h5.4v5.4h-5.4zM473.4 144.1h5.4v5.4h-5.4zM593.4 144.1h10.4v5.4h-10.4zM468.4 149.1h10.4v5.4h-10.4zM593.4 149.1h15.4v5.4h-15.4zM468.4 154.1h5.4v5.4h-5.4zM583.4 154.1h5.4v5.4h-5.4zM618.4 154.1h25.4v5.4h-25.4zM568.4 159.1h5.4v5.4h-5.4zM618.4 159.1h5.4v5.4h-5.4zM613.4 169.1h5.4v5.4h-5.4zM558.4 174.1h5.4v5.4h-5.4zM608.4 174.1h5.4v5.4h-5.4zM558.4 179.1h5.4v5.4h-5.4zM538.4 184.1h5.4v5.4h-5.4zM538.4 189.1h5.4v5.4h-5.4zM538.4 194.1h5.4v5.4h-5.4zM558.4 199.1h5.4v5.4h-5.4z" fill="#a5a8d5"/><path d="M603.4 19.1h5.4v5.4h-5.4zM598.4 24.1h5.4v5.4h-5.4zM573.4 34.1h5.4v5.4h-5.4zM588.4 39.1h5.4v5.4h-5.4zM573.4 54.1h5.4v5.4h-5.4zM513.4 114.1h5.4v5.4h-5.4zM498.4 119.1h5.4v5.4h-5.4zM498.4 124.1h5.4v5.4h-5.4zM483.4 134.1h5.4v5.4h-5.4zM493.4 134.1h5.4v5.4h-5.4zM563.4 139.1h5.4v5.4h-5.4zM573.4 144.1h5.4v5.4h-5.4zM638.4 144.1h5.4v5.4h-5.4zM558.4 149.1h5.4v5.4h-5.4zM488.4 154.1h5.4v5.4h-5.4zM513.4 154.1h5.4v5.4h-5.4zM523.4 159.1h5.4v5.4h-5.4zM543.4 159.1h5.4v5.4h-5.4zM553.4 169.1h5.4v5.4h-5.4zM483.4 184.1h5.4v5.4h-5.4zM523.4 189.1h5.4v5.4h-5.4zM483.4 194.1h5.4v5.4h-5.4zM483.4 199.1h5.4v5.4h-5.4zM608.4 199.1h5.4v5.4h-5.4z" fill="#b4b7d8"/><path d="M483.4 24.1h5.4v5.4h-5.4zM498.4 29.1h5.4v5.4h-5.4zM548.4 39.1h10.4v5.4h-10.4zM503.4 44.1h5.4v5.4h-5.4zM558.4 44.1h5.4v5.4h-5.4zM628.4 49.1h5.4v5.4h-5.4zM618.4 54.1h5.4v5.4h-5.4zM588.4 79.1h5.4v5.4h-5.4zM598.4 99.1h5.4v5.4h-5.4zM613.4 119.1h5.4v5.4h-5.4zM638.4 129.1h5.4v5.4h-5.4zM503.4 184.1h5.4v5.4h-5.4zM503.4 199.1h5.4v5.4h-5.4z" fill="#d5d2d5"/><path d="M488.4 24.1h5.4v5.4h-5.4zM498.4 34.1h5.4v5.4h-5.4zM548.4 44.1h5.4v5.4h-5.4zM558.4 49.1h5.4v5.4h-5.4zM538.4 59.1h5.4v5.4h-5.4zM563.4 59.1h5.4v5.4h-5.4zM553.4 64.1h5.4v5.4h-5.4zM613.4 64.1h10.4v5.4h-10.4zM638.4 64.1h5.4v5.4h-5.4zM608.4 69.1h5.4v5.4h-5.4zM603.4 104.1h5.4v5.4h-5.4zM613.4 114.1h5.4v5.4h-5.4zM618.4 119.1h5.4v5.4h-5.4zM623.4 124.1h15.4v5.4h-15.4z" fill="#ded8d2"/><path d="M493.4 24.1h5.4v5.4h-5.4zM483.4 49.1h5.4v5.4h-5.4zM593.4 89.1h5.4v5.4h-5.4zM628.4 129.1h5.4v5.4h-5.4z" fill="#d8d5d5"/><path d="M503.4 24.1h5.4v5.4h-5.4zM558.4 24.1h10.4v5.4h-10.4zM463.4 29.1h5.4v5.4h-5.4zM518.4 29.1h20.4v5.4h-20.4zM588.4 29.1h5.4v5.4h-5.4zM478.4 59.1h5.4v5.4h-5.4zM578.4 64.1h5.4v5.4h-5.4zM598.4 64.1h5.4v5.4h-5.4zM563.4 79.1h5.4v5.4h-5.4zM568.4 84.1h5.4v5.4h-5.4zM583.4 99.1h5.4v5.4h-5.4zM513.4 104.1h5.4v5.4h-5.4zM588.4 104.1h5.4v5.4h-5.4zM518.4 114.1h5.4v5.4h-5.4zM483.4 119.1h5.4v5.4h-5.4zM593.4 119.1h5.4v5.4h-5.4zM598.4 124.1h5.4v5.4h-5.4zM483.4 129.1h5.4v5.4h-5.4zM603.4 129.1h5.4v5.4h-5.4zM488.4 134.1h5.4v5.4h-5.4zM568.4 139.1h5.4v5.4h-5.4zM563.4 144.1h10.4v5.4h-10.4zM623.4 144.1h15.4v5.4h-15.4zM493.4 149.1h15.4v5.4h-15.4zM563.4 149.1h10.4v5.4h-10.4zM508.4 154.1h5.4v5.4h-5.4zM548.4 159.1h5.4v5.4h-5.4zM483.4 164.1h5.4v5.4h-5.4zM528.4 164.1h5.4v5.4h-5.4zM538.4 164.1h5.4v5.4h-5.4zM553.4 164.1h5.4v5.4h-5.4zM483.4 169.1h5.4v5.4h-5.4zM528.4 169.1h5.4v5.4h-5.4zM538.4 169.1h5.4v5.4h-5.4zM623.4 169.1h5.4v5.4h-5.4zM633.4 169.1h10.4v5.4h-10.4zM483.4 174.1h5.4v5.4h-5.4zM618.4 174.1h5.4v5.4h-5.4zM483.4 179.1h5.4v5.4h-5.4zM548.4 179.1h5.4v5.4h-5.4zM523.4 184.1h5.4v5.4h-5.4zM608.4 184.1h5.4v5.4h-5.4zM523.4 194.1h5.4v5.4h-5.4zM608.4 194.1h5.4v5.4h-5.4zM523.4 199.1h5.4v5.4h-5.4z" fill="#b7b7d8"/><path d="M508.4 24.1h5.4v5.4h-5.4zM548.4 24.1h5.4v5.4h-5.4zM468.4 29.1h5.4v5.4h-5.4zM578.4 29.1h5.4v5.4h-5.4zM583.4 39.1h5.4v5.4h-5.4zM573.4 44.1h5.4v5.4h-5.4zM598.4 59.1h5.4v5.4h-5.4zM518.4 74.1h5.4v5.4h-5.4zM533.4 74.1h5.4v5.4h-5.4zM488.4 84.1h10.4v5.4h-10.4zM568.4 89.1h5.4v5.4h-5.4zM513.4 99.1h5.4v5.4h-5.4zM508.4 104.1h5.4v5.4h-5.4zM498.4 109.1h5.4v5.4h-5.4zM503.4 114.1h5.4v5.4h-5.4zM528.4 114.1h5.4v5.4h-5.4zM503.4 119.1h20.4v5.4h-20.4zM503.4 124.1h5.4v5.4h-5.4zM588.4 124.1h5.4v5.4h-5.4zM503.4 129.1h5.4v5.4h-5.4zM563.4 129.1h15.4v5.4h-15.4zM503.4 134.1h5.4v5.4h-5.4zM578.4 134.1h5.4v5.4h-5.4zM508.4 139.1h5.4v5.4h-5.4zM553.4 139.1h5.4v5.4h-5.4zM483.4 144.1h5.4v5.4h-5.4zM483.4 149.1h5.4v5.4h-5.4zM578.4 149.1h5.4v5.4h-5.4zM523.4 154.1h5.4v5.4h-5.4zM543.4 154.1h5.4v5.4h-5.4zM478.4 164.1h5.4v5.4h-5.4zM623.4 164.1h5.4v5.4h-5.4zM633.4 164.1h10.4v5.4h-10.4zM618.4 169.1h5.4v5.4h-5.4zM533.4 174.1h5.4v5.4h-5.4zM613.4 174.1h5.4v5.4h-5.4zM478.4 179.1h5.4v5.4h-5.4zM608.4 179.1h5.4v5.4h-5.4zM478.4 184.1h5.4v5.4h-5.4zM543.4 184.1h5.4v5.4h-5.4zM553.4 184.1h5.4v5.4h-5.4zM463.4 189.1h5.4v5.4h-5.4zM478.4 189.1h5.4v5.4h-5.4zM553.4 189.1h5.4v5.4h-5.4zM463.4 194.1h5.4v5.4h-5.4zM478.4 194.1h5.4v5.4h-5.4zM543.4 194.1h5.4v5.4h-5.4zM553.4 194.1h5.4v5.4h-5.4zM478.4 199.1h5.4v5.4h-5.4zM543.4 199.1h5.4v5.4h-5.4zM553.4 199.1h5.4v5.4h-5.4z" fill="#aeb1d8"/><path d="M553.4 24.1h5.4v5.4h-5.4zM573.4 29.1h5.4v5.4h-5.4zM583.4 34.1h5.4v5.4h-5.4zM503.4 74.1h5.4v5.4h-5.4zM498.4 79.1h5.4v5.4h-5.4zM488.4 109.1h10.4v5.4h-10.4zM523.4 114.1h5.4v5.4h-5.4zM593.4 124.1h5.4v5.4h-5.4zM498.4 129.1h5.4v5.4h-5.4zM488.4 139.1h10.4v5.4h-10.4zM558.4 139.1h5.4v5.4h-5.4zM573.4 139.1h5.4v5.4h-5.4zM608.4 139.1h5.4v5.4h-5.4zM493.4 144.1h10.4v5.4h-10.4zM558.4 144.1h5.4v5.4h-5.4zM618.4 144.1h5.4v5.4h-5.4zM488.4 149.1h5.4v5.4h-5.4zM508.4 149.1h5.4v5.4h-5.4zM573.4 149.1h5.4v5.4h-5.4zM553.4 154.1h10.4v5.4h-10.4zM483.4 159.1h5.4v5.4h-5.4zM553.4 159.1h5.4v5.4h-5.4zM533.4 164.1h5.4v5.4h-5.4zM533.4 169.1h5.4v5.4h-5.4zM528.4 174.1h5.4v5.4h-5.4zM553.4 174.1h5.4v5.4h-5.4zM543.4 179.1h5.4v5.4h-5.4zM548.4 184.1h5.4v5.4h-5.4zM483.4 189.1h5.4v5.4h-5.4zM548.4 189.1h5.4v5.4h-5.4zM548.4 194.1h5.4v5.4h-5.4zM548.4 199.1h5.4v5.4h-5.4z" fill="#b4b4d8"/><path d="M568.4 24.1h5.4v5.4h-5.4zM473.4 29.1h5.4v5.4h-5.4zM583.4 29.1h5.4v5.4h-5.4zM578.4 34.1h5.4v5.4h-5.4zM573.4 49.1h5.4v5.4h-5.4zM478.4 64.1h5.4v5.4h-5.4zM523.4 74.1h10.4v5.4h-10.4zM523.4 99.1h5.4v5.4h-5.4zM583.4 104.1h5.4v5.4h-5.4zM508.4 114.1h5.4v5.4h-5.4zM588.4 114.1h5.4v5.4h-5.4zM588.4 119.1h5.4v5.4h-5.4zM478.4 124.1h5.4v5.4h-5.4zM598.4 129.1h5.4v5.4h-5.4zM478.4 134.1h5.4v5.4h-5.4zM558.4 134.1h5.4v5.4h-5.4zM573.4 134.1h5.4v5.4h-5.4zM603.4 134.1h5.4v5.4h-5.4zM503.4 139.1h5.4v5.4h-5.4zM578.4 139.1h5.4v5.4h-5.4zM508.4 144.1h5.4v5.4h-5.4zM553.4 144.1h5.4v5.4h-5.4zM578.4 144.1h5.4v5.4h-5.4zM613.4 144.1h5.4v5.4h-5.4zM513.4 149.1h5.4v5.4h-5.4zM483.4 154.1h5.4v5.4h-5.4zM548.4 154.1h5.4v5.4h-5.4zM568.4 154.1h5.4v5.4h-5.4zM533.4 159.1h5.4v5.4h-5.4zM558.4 159.1h5.4v5.4h-5.4zM628.4 164.1h5.4v5.4h-5.4zM478.4 169.1h5.4v5.4h-5.4zM478.4 174.1h5.4v5.4h-5.4zM553.4 179.1h5.4v5.4h-5.4zM443.4 184.1h20.4v5.4h-20.4zM443.4 189.1h5.4v5.4h-5.4zM458.4 189.1h5.4v5.4h-5.4zM443.4 194.1h10.4v5.4h-10.4zM458.4 194.1h5.4v5.4h-5.4zM443.4 199.1h20.4v5.4h-20.4z" fill="#b1b1d8"/><path d="M478.4 29.1h5.4v5.4h-5.4zM603.4 39.1h5.4v5.4h-5.4zM563.4 74.1h5.4v5.4h-5.4zM573.4 84.1h5.4v5.4h-5.4zM578.4 89.1h5.4v5.4h-5.4zM638.4 139.1h5.4v5.4h-5.4zM498.4 164.1h5.4v5.4h-5.4z" fill="#c3c0d8"/><path d="M483.4 29.1h5.4v5.4h-5.4zM483.4 34.1h5.4v5.4h-5.4zM483.4 39.1h5.4v5.4h-5.4zM483.4 44.1h5.4v5.4h-5.4zM543.4 44.1h5.4v5.4h-5.4zM538.4 49.1h5.4v5.4h-5.4zM503.4 54.1h5.4v5.4h-5.4zM563.4 54.1h5.4v5.4h-5.4zM618.4 59.1h25.4v5.4h-25.4zM498.4 64.1h5.4v5.4h-5.4zM563.4 64.1h5.4v5.4h-5.4zM593.4 84.1h5.4v5.4h-5.4zM598.4 94.1h5.4v5.4h-5.4z" fill="#dbd5d5"/><path d="M488.4 29.1h5.4v5.4h-5.4zM488.4 44.1h10.4v5.4h-10.4zM488.4 49.1h10.4v5.4h-10.4zM493.4 54.1h5.4v5.4h-5.4zM543.4 54.1h5.4v5.4h-5.4zM493.4 59.1h5.4v5.4h-5.4zM558.4 59.1h5.4v5.4h-5.4zM613.4 84.1h5.4v5.4h-5.4zM608.4 89.1h20.4v5.4h-20.4zM633.4 89.1h10.4v5.4h-10.4zM608.4 94.1h5.4v5.4h-5.4zM618.4 94.1h25.4v5.4h-25.4zM608.4 99.1h5.4v5.4h-5.4zM623.4 99.1h20.4v5.4h-20.4zM623.4 104.1h20.4v5.4h-20.4z" fill="#eae1d2"/><path d="M493.4 29.1h5.4v5.4h-5.4zM618.4 74.1h5.4v5.4h-5.4zM638.4 74.1h5.4v5.4h-5.4zM628.4 79.1h5.4v5.4h-5.4zM603.4 84.1h5.4v5.4h-5.4zM603.4 94.1h5.4v5.4h-5.4zM618.4 114.1h5.4v5.4h-5.4zM628.4 119.1h5.4v5.4h-5.4z" fill="#e4ded2"/><path d="M488.4 34.1h5.4v5.4h-5.4zM488.4 39.1h5.4v5.4h-5.4zM548.4 54.1h10.4v5.4h-10.4zM548.4 59.1h10.4v5.4h-10.4zM613.4 99.1h5.4v5.4h-5.4z" fill="#ede4cf"/><path d="M493.4 34.1h5.4v5.4h-5.4zM613.4 104.1h10.4v5.4h-10.4z" fill="#eae4d2"/><path d="M548.4 34.1h5.4v5.4h-5.4zM633.4 39.1h5.4v5.4h-5.4z" fill="#ccccd8"/><path d="M493.4 39.1h5.4v5.4h-5.4zM613.4 94.1h5.4v5.4h-5.4zM618.4 99.1h5.4v5.4h-5.4z" fill="#ede4d2"/><path d="M498.4 39.1h5.4v5.4h-5.4zM498.4 44.1h5.4v5.4h-5.4zM498.4 49.1h5.4v5.4h-5.4zM543.4 49.1h5.4v5.4h-5.4zM538.4 54.1h5.4v5.4h-5.4zM498.4 59.1h5.4v5.4h-5.4zM488.4 64.1h5.4v5.4h-5.4zM613.4 69.1h15.4v5.4h-15.4zM633.4 69.1h10.4v5.4h-10.4zM598.4 84.1h5.4v5.4h-5.4zM603.4 99.1h5.4v5.4h-5.4zM608.4 109.1h5.4v5.4h-5.4zM638.4 119.1h5.4v5.4h-5.4z" fill="#e1dbd2"/><path d="M573.4 39.1h5.4v5.4h-5.4zM593.4 44.1h5.4v5.4h-5.4zM598.4 49.1h5.4v5.4h-5.4zM553.4 74.1h5.4v5.4h-5.4zM483.4 79.1h5.4v5.4h-5.4zM573.4 94.1h5.4v5.4h-5.4zM518.4 99.1h5.4v5.4h-5.4zM578.4 99.1h5.4v5.4h-5.4zM528.4 104.1h5.4v5.4h-5.4zM508.4 109.1h5.4v5.4h-5.4zM528.4 109.1h5.4v5.4h-5.4zM588.4 109.1h5.4v5.4h-5.4zM483.4 114.1h5.4v5.4h-5.4zM498.4 114.1h5.4v5.4h-5.4zM478.4 129.1h5.4v5.4h-5.4zM498.4 134.1h5.4v5.4h-5.4zM563.4 134.1h10.4v5.4h-10.4zM483.4 139.1h5.4v5.4h-5.4zM498.4 139.1h5.4v5.4h-5.4zM488.4 144.1h5.4v5.4h-5.4zM503.4 144.1h5.4v5.4h-5.4zM553.4 149.1h5.4v5.4h-5.4zM518.4 154.1h5.4v5.4h-5.4zM563.4 154.1h5.4v5.4h-5.4zM528.4 159.1h5.4v5.4h-5.4zM538.4 159.1h5.4v5.4h-5.4zM538.4 174.1h5.4v5.4h-5.4zM448.4 189.1h10.4v5.4h-10.4zM453.4 194.1h5.4v5.4h-5.4z" fill="#b1b4d8"/><path d="M443.4 44.1h5.4v5.4h-5.4zM458.4 44.1h5.4v5.4h-5.4zM463.4 49.1h5.4v5.4h-5.4zM468.4 69.1h5.4v5.4h-5.4zM463.4 89.1h5.4v5.4h-5.4zM463.4 94.1h5.4v5.4h-5.4zM453.4 119.1h5.4v5.4h-5.4z" fill="#727bc3"/><path d="M448.4 44.1h5.4v5.4h-5.4zM468.4 74.1h5.4v5.4h-5.4zM463.4 99.1h5.4v5.4h-5.4zM443.4 114.1h5.4v5.4h-5.4zM458.4 114.1h5.4v5.4h-5.4z" fill="#6f78c3"/><path d="M453.4 44.1h5.4v5.4h-5.4zM463.4 54.1h5.4v5.4h-5.4zM463.4 84.1h5.4v5.4h-5.4zM463.4 104.1h5.4v5.4h-5.4zM448.4 114.1h10.4v5.4h-10.4z" fill="#6c78c3"/><path d="M473.4 44.1h5.4v5.4h-5.4zM578.4 44.1h5.4v5.4h-5.4zM478.4 69.1h5.4v5.4h-5.4zM518.4 94.1h5.4v5.4h-5.4zM533.4 99.1h5.4v5.4h-5.4zM533.4 119.1h5.4v5.4h-5.4zM548.4 124.1h5.4v5.4h-5.4zM473.4 129.1h5.4v5.4h-5.4zM473.4 134.1h5.4v5.4h-5.4zM588.4 139.1h5.4v5.4h-5.4zM588.4 144.1h5.4v5.4h-5.4zM473.4 154.1h5.4v5.4h-5.4zM463.4 159.1h10.4v5.4h-10.4zM443.4 164.1h20.4v5.4h-20.4zM463.4 169.1h5.4v5.4h-5.4zM533.4 179.1h5.4v5.4h-5.4zM528.4 194.1h5.4v5.4h-5.4zM603.4 199.1h5.4v5.4h-5.4z" fill="#a8abd5"/><path d="M553.4 44.1h5.4v5.4h-5.4zM623.4 64.1h15.4v5.4h-15.4zM598.4 79.1h5.4v5.4h-5.4zM638.4 124.1h5.4v5.4h-5.4z" fill="#ded8d5"/><path d="M583.4 44.1h5.4v5.4h-5.4zM563.4 94.1h5.4v5.4h-5.4zM558.4 99.1h5.4v5.4h-5.4zM538.4 104.1h5.4v5.4h-5.4zM548.4 104.1h5.4v5.4h-5.4zM538.4 109.1h5.4v5.4h-5.4zM548.4 109.1h5.4v5.4h-5.4zM533.4 124.1h5.4v5.4h-5.4zM588.4 149.1h5.4v5.4h-5.4zM608.4 149.1h5.4v5.4h-5.4zM463.4 154.1h5.4v5.4h-5.4zM463.4 164.1h5.4v5.4h-5.4zM443.4 169.1h20.4v5.4h-20.4zM528.4 189.1h5.4v5.4h-5.4zM538.4 199.1h5.4v5.4h-5.4z" fill="#a8a8d5"/><path d="M623.4 44.1h5.4v5.4h-5.4zM508.4 49.1h5.4v5.4h-5.4zM508.4 59.1h5.4v5.4h-5.4zM618.4 129.1h5.4v5.4h-5.4zM513.4 179.1h5.4v5.4h-5.4zM498.4 184.1h5.4v5.4h-5.4zM498.4 194.1h5.4v5.4h-5.4z" fill="#d2ccd5"/><path d="M443.4 49.1h5.4v5.4h-5.4zM458.4 49.1h5.4v5.4h-5.4zM443.4 64.1h10.4v5.4h-10.4zM458.4 64.1h5.4v5.4h-5.4zM443.4 69.1h20.4v5.4h-20.4zM443.4 74.1h10.4v5.4h-10.4zM458.4 74.1h5.4v5.4h-5.4zM443.4 79.1h5.4v5.4h-5.4zM458.4 79.1h5.4v5.4h-5.4zM443.4 84.1h5.4v5.4h-5.4zM458.4 84.1h5.4v5.4h-5.4zM443.4 89.1h5.4v5.4h-5.4zM458.4 89.1h5.4v5.4h-5.4zM443.4 94.1h5.4v5.4h-5.4zM458.4 94.1h5.4v5.4h-5.4zM453.4 104.1h5.4v5.4h-5.4z" fill="#606cbd"/><path d="M448.4 49.1h5.4v5.4h-5.4zM443.4 54.1h5.4v5.4h-5.4zM458.4 54.1h5.4v5.4h-5.4zM448.4 59.1h10.4v5.4h-10.4zM453.4 79.1h5.4v5.4h-5.4zM448.4 84.1h10.4v5.4h-10.4zM448.4 89.1h5.4v5.4h-5.4zM448.4 94.1h5.4v5.4h-5.4zM453.4 99.1h5.4v5.4h-5.4z" fill="#5d69ba"/><path d="M453.4 49.1h5.4v5.4h-5.4zM453.4 94.1h5.4v5.4h-5.4z" fill="#5a69ba"/><path d="M503.4 49.1h5.4v5.4h-5.4zM483.4 54.1h5.4v5.4h-5.4zM533.4 54.1h5.4v5.4h-5.4zM623.4 54.1h20.4v5.4h-20.4zM503.4 59.1h5.4v5.4h-5.4zM533.4 59.1h5.4v5.4h-5.4zM613.4 59.1h5.4v5.4h-5.4zM543.4 64.1h5.4v5.4h-5.4zM608.4 64.1h5.4v5.4h-5.4zM488.4 69.1h10.4v5.4h-10.4zM593.4 79.1h5.4v5.4h-5.4zM588.4 84.1h5.4v5.4h-5.4zM603.4 109.1h5.4v5.4h-5.4zM608.4 114.1h5.4v5.4h-5.4zM618.4 124.1h5.4v5.4h-5.4zM623.4 129.1h5.4v5.4h-5.4zM633.4 129.1h5.4v5.4h-5.4zM508.4 184.1h5.4v5.4h-5.4zM503.4 189.1h10.4v5.4h-10.4zM503.4 194.1h10.4v5.4h-10.4zM508.4 199.1h5.4v5.4h-5.4z" fill="#d8d2d5"/><path d="M548.4 49.1h10.4v5.4h-10.4zM558.4 54.1h5.4v5.4h-5.4zM488.4 59.1h5.4v5.4h-5.4zM543.4 59.1h5.4v5.4h-5.4zM613.4 74.1h5.4v5.4h-5.4zM608.4 79.1h5.4v5.4h-5.4zM618.4 79.1h10.4v5.4h-10.4zM633.4 79.1h10.4v5.4h-10.4zM628.4 84.1h5.4v5.4h-5.4zM603.4 89.1h5.4v5.4h-5.4zM613.4 109.1h5.4v5.4h-5.4zM623.4 114.1h20.4v5.4h-20.4z" fill="#e7ded2"/><path d="M603.4 49.1h5.4v5.4h-5.4zM593.4 69.1h5.4v5.4h-5.4zM488.4 164.1h5.4v5.4h-5.4z" fill="#babddb"/><path d="M448.4 54.1h5.4v5.4h-5.4zM453.4 89.1h5.4v5.4h-5.4z" fill="#5a66ba"/><path d="M453.4 54.1h5.4v5.4h-5.4z" fill="#5766b7"/><path d="M488.4 54.1h5.4v5.4h-5.4zM613.4 79.1h5.4v5.4h-5.4zM608.4 84.1h5.4v5.4h-5.4zM618.4 84.1h10.4v5.4h-10.4zM633.4 84.1h10.4v5.4h-10.4zM628.4 89.1h5.4v5.4h-5.4zM608.4 104.1h5.4v5.4h-5.4zM618.4 109.1h25.4v5.4h-25.4z" fill="#e7e1d2"/><path d="M498.4 54.1h5.4v5.4h-5.4zM493.4 64.1h5.4v5.4h-5.4zM608.4 74.1h5.4v5.4h-5.4zM623.4 74.1h15.4v5.4h-15.4zM603.4 79.1h5.4v5.4h-5.4zM623.4 119.1h5.4v5.4h-5.4zM633.4 119.1h5.4v5.4h-5.4z" fill="#e4dbd2"/><path d="M443.4 59.1h5.4v5.4h-5.4zM458.4 59.1h5.4v5.4h-5.4zM453.4 64.1h5.4v5.4h-5.4zM453.4 74.1h5.4v5.4h-5.4zM448.4 99.1h5.4v5.4h-5.4z" fill="#606cba"/><path d="M463.4 59.1h5.4v5.4h-5.4z" fill="#6c75c0"/><path d="M463.4 64.1h5.4v5.4h-5.4zM443.4 109.1h5.4v5.4h-5.4zM458.4 109.1h5.4v5.4h-5.4z" fill="#6975c0"/><path d="M468.4 64.1h5.4v5.4h-5.4z" fill="#7881c9"/><path d="M548.4 64.1h5.4v5.4h-5.4zM603.4 74.1h5.4v5.4h-5.4z" fill="#dbd8d5"/><path d="M558.4 64.1h5.4v5.4h-5.4zM628.4 69.1h5.4v5.4h-5.4zM598.4 89.1h5.4v5.4h-5.4z" fill="#e1d8d2"/><path d="M463.4 69.1h5.4v5.4h-5.4zM463.4 79.1h5.4v5.4h-5.4zM448.4 109.1h10.4v5.4h-10.4z" fill="#6672c0"/><path d="M518.4 69.1h5.4v5.4h-5.4zM518.4 104.1h5.4v5.4h-5.4zM548.4 164.1h5.4v5.4h-5.4zM548.4 174.1h5.4v5.4h-5.4z" fill="#babadb"/><path d="M463.4 74.1h5.4v5.4h-5.4z" fill="#666fbd"/><path d="M448.4 79.1h5.4v5.4h-5.4z" fill="#5d6cba"/><path d="M513.4 89.1h5.4v5.4h-5.4zM523.4 89.1h5.4v5.4h-5.4zM548.4 89.1h5.4v5.4h-5.4zM593.4 154.1h5.4v5.4h-5.4zM608.4 154.1h5.4v5.4h-5.4z" fill="#9fa5d5"/><path d="M443.4 99.1h5.4v5.4h-5.4zM458.4 99.1h5.4v5.4h-5.4zM443.4 104.1h10.4v5.4h-10.4zM458.4 104.1h5.4v5.4h-5.4z" fill="#636fbd"/><path d="M468.4 99.1h5.4v5.4h-5.4zM453.4 134.1h5.4v5.4h-5.4z" fill="#818acc"/><path d="M463.4 109.1h5.4v5.4h-5.4z" fill="#6f7bc3"/><path d="M448.4 119.1h5.4v5.4h-5.4z" fill="#727bc6"/><path d="M443.4 129.1h5.4v5.4h-5.4zM458.4 129.1h5.4v5.4h-5.4z" fill="#7e87cc"/><path d="M573.4 179.1h5.4v5.4h-5.4zM593.4 199.1h5.4v5.4h-5.4z" fill="#8d90cf"/><path d="M558.4 184.1h5.4v5.4h-5.4z" fill="#a5a5d5"/>
<polygon points="470.8,32.7 476.7,38.6 478.9,53.4 479.6,71.2 477.4,91.9 472.5,101 469.5,116 465,131 459,143 448,155 448,50 462,40" fill="#5462b4" opacity="0.9"/>
<polygon points="480,24 490,17 505,19 515,30 512,50 505,70 490,80 481,78 480,55" fill="#ede4d0" opacity="0.85"/>
<polygon points="536,50 555,47 568,57 570,72 556,76 540,74" fill="#ede4d0" opacity="0.75"/>
<polygon points="600,62 615,58 640,58 640,148 625,140 612,120 603,100 598,80" fill="#ede4d0" opacity="0.85"/>
<polygon points="548,160 556,157 569,200 557,200" fill="#d8d4d6" opacity="0.8"/>
</g>
<g filter="url(#bl2)"><polygon points="450,5 488,5 476,22 466,33 450,52" fill="#e6ded0" /></g>
<g filter="url(#salt)"><polygon points="450,5 488,5 476,22 466,33 450,52" fill="#000" /></g>
<g filter="url(#bl2)"><polygon points="603,5 640,5 640,40" fill="#e6ded0" /></g>
<g filter="url(#salt)"><polygon points="603,5 640,5 640,40" fill="#000" /></g>
<g filter="url(#bl2)"><polygon points="640,160 640,200 598,200" fill="#e6ded0" /></g>
<g filter="url(#salt)"><polygon points="640,160 640,200 598,200" fill="#000" /></g>
</g>
<path d="M475.9,86.9 C478.8,86.1 487.4,83.8 493.4,82.2 C499.4,80.6 505.8,78.5 512,77.5 C518.2,76.5 524.5,76.4 530.7,75.9 C536.9,75.4 543.2,75.0 549.4,74.7 C555.6,74.4 564.0,73.9 568.1,74 C572.2,74.1 572.4,74.5 574,75.5 C575.6,76.5 576.2,78.2 577.5,79.9 C578.8,81.6 580.2,83.2 582,85.7 C583.8,88.2 586.4,92.1 588,95 C589.6,97.9 590.0,100.3 591.5,103.2 C593.0,106.1 595.2,109.5 597.3,112.6 C599.4,115.7 602.1,119.2 604.3,121.9 C606.4,124.6 608.2,126.2 610.2,128.9 C612.2,131.6 614.1,135.2 616,138.3 C617.9,141.4 620.2,145.1 621.8,147.6 C623.3,150.1 624.7,152.4 625.3,153.4" fill="none" stroke="#ffff00" stroke-width="3.5" stroke-dasharray="9,2.8"/>
<text x="515" y="64.5" font-size="33.5" font-style="italic" fill="#0000ff" stroke="#0000ff" stroke-width="0.6">c</text>
<text x="454.3" y="111" font-size="33" font-style="italic" fill="#00ff00" stroke="#00ff00" stroke-width="0.6">a</text>
<text x="531.3" y="128.3" font-size="32" font-style="italic" fill="#ff0000" stroke="#ff0000" stroke-width="0.6">b</text>
<text x="457.30" y="188.4" font-size="20.4" fill="#ffff00" stroke="#ffff00" stroke-width="0.4">2</text><path d="M476.56,188.40L476.56,173.88L475.21,173.88C474.56,175.75 473.13,176.77 470.89,176.98L470.89,178.40C472.52,178.30 473.95,177.79 474.70,176.98L474.70,188.40Z" fill="#ffff00" stroke="#ffff00" stroke-width="0.4"/><path d="M487.90,188.40L487.90,173.88L486.55,173.88C485.90,175.75 484.47,176.77 482.23,176.98L482.23,178.40C483.86,178.30 485.29,177.79 486.04,176.98L486.04,188.40Z" fill="#ffff00" stroke="#ffff00" stroke-width="0.4"/><text x="491.33" y="188.4" font-size="20.4" fill="#ffff00" stroke="#ffff00" stroke-width="0.4" xml:space="preserve">K</text>
<line x1="541.4" y1="186" x2="579.8" y2="186" stroke="#000" stroke-width="2.2"/>
<clipPath id="cib"><rect x="453.1" y="369.6" width="177" height="185"/></clipPath>
<g clip-path="url(#cib)">
<g filter="url(#texA)">
<path d="M443.1 359.6h5.4v5.4h-5.4zM458.1 359.6h5.4v5.4h-5.4zM623.1 359.6h20.4v5.4h-20.4zM623.1 364.6h5.4v5.4h-5.4zM633.1 364.6h10.4v5.4h-10.4zM603.1 369.6h5.4v5.4h-5.4zM618.1 369.6h5.4v5.4h-5.4zM633.1 369.6h10.4v5.4h-10.4zM443.1 374.6h5.4v5.4h-5.4zM458.1 374.6h5.4v5.4h-5.4zM623.1 374.6h20.4v5.4h-20.4zM618.1 389.6h5.4v5.4h-5.4zM573.1 399.6h5.4v5.4h-5.4zM598.1 469.6h5.4v5.4h-5.4zM443.1 544.6h20.4v5.4h-20.4zM443.1 549.6h10.4v5.4h-10.4zM458.1 549.6h5.4v5.4h-5.4zM443.1 554.6h10.4v5.4h-10.4zM458.1 554.6h5.4v5.4h-5.4zM443.1 559.6h20.4v5.4h-20.4z" fill="#b4b4d8"/><path d="M448.1 359.6h5.4v5.4h-5.4zM443.1 364.6h5.4v5.4h-5.4zM458.1 364.6h5.4v5.4h-5.4zM603.1 364.6h5.4v5.4h-5.4zM628.1 364.6h5.4v5.4h-5.4zM623.1 369.6h10.4v5.4h-10.4zM448.1 374.6h5.4v5.4h-5.4zM608.1 379.6h5.4v5.4h-5.4zM613.1 384.6h5.4v5.4h-5.4zM598.1 409.6h5.4v5.4h-5.4zM453.1 549.6h5.4v5.4h-5.4zM453.1 554.6h5.4v5.4h-5.4z" fill="#b4b7d8"/><path d="M453.1 359.6h5.4v5.4h-5.4zM603.1 359.6h5.4v5.4h-5.4zM448.1 364.6h5.4v5.4h-5.4zM578.1 364.6h5.4v5.4h-5.4zM443.1 369.6h5.4v5.4h-5.4zM458.1 369.6h5.4v5.4h-5.4zM578.1 369.6h5.4v5.4h-5.4zM453.1 374.6h5.4v5.4h-5.4zM603.1 374.6h5.4v5.4h-5.4zM588.1 399.6h5.4v5.4h-5.4zM603.1 424.6h5.4v5.4h-5.4zM613.1 444.6h5.4v5.4h-5.4zM573.1 509.6h5.4v5.4h-5.4z" fill="#b7b7d8"/><path d="M463.1 359.6h5.4v5.4h-5.4zM573.1 364.6h5.4v5.4h-5.4zM573.1 369.6h5.4v5.4h-5.4zM463.1 374.6h5.4v5.4h-5.4zM573.1 404.6h5.4v5.4h-5.4zM603.1 429.6h5.4v5.4h-5.4zM453.1 499.6h5.4v5.4h-5.4zM443.1 504.6h5.4v5.4h-5.4zM458.1 504.6h5.4v5.4h-5.4zM463.1 514.6h5.4v5.4h-5.4zM473.1 534.6h5.4v5.4h-5.4zM528.1 534.6h5.4v5.4h-5.4zM473.1 539.6h5.4v5.4h-5.4zM508.1 544.6h5.4v5.4h-5.4zM508.1 559.6h5.4v5.4h-5.4z" fill="#a8abd8"/><path d="M468.1 359.6h5.4v5.4h-5.4zM543.1 359.6h10.4v5.4h-10.4zM548.1 364.6h5.4v5.4h-5.4zM568.1 364.6h5.4v5.4h-5.4zM548.1 369.6h5.4v5.4h-5.4zM568.1 369.6h5.4v5.4h-5.4zM468.1 374.6h5.4v5.4h-5.4zM543.1 374.6h10.4v5.4h-10.4zM563.1 379.6h5.4v5.4h-5.4zM453.1 389.6h5.4v5.4h-5.4zM558.1 389.6h5.4v5.4h-5.4zM443.1 404.6h20.4v5.4h-20.4zM568.1 404.6h5.4v5.4h-5.4zM443.1 414.6h5.4v5.4h-5.4zM458.1 414.6h5.4v5.4h-5.4zM443.1 419.6h5.4v5.4h-5.4zM458.1 419.6h5.4v5.4h-5.4zM593.1 419.6h5.4v5.4h-5.4zM463.1 429.6h5.4v5.4h-5.4zM468.1 439.6h5.4v5.4h-5.4zM443.1 444.6h30.4v5.4h-30.4zM608.1 444.6h5.4v5.4h-5.4zM443.1 464.6h20.4v5.4h-20.4zM463.1 479.6h5.4v5.4h-5.4zM568.1 494.6h5.4v5.4h-5.4zM468.1 509.6h5.4v5.4h-5.4zM473.1 519.6h5.4v5.4h-5.4zM488.1 534.6h5.4v5.4h-5.4z" fill="#9c9fd5"/><path d="M473.1 359.6h5.4v5.4h-5.4zM558.1 359.6h5.4v5.4h-5.4zM473.1 364.6h5.4v5.4h-5.4zM563.1 364.6h5.4v5.4h-5.4zM473.1 374.6h5.4v5.4h-5.4zM558.1 374.6h5.4v5.4h-5.4zM533.1 379.6h5.4v5.4h-5.4zM548.1 384.6h5.4v5.4h-5.4zM553.1 389.6h5.4v5.4h-5.4zM493.1 399.6h5.4v5.4h-5.4zM503.1 399.6h5.4v5.4h-5.4zM488.1 404.6h5.4v5.4h-5.4zM473.1 409.6h5.4v5.4h-5.4zM493.1 409.6h5.4v5.4h-5.4zM513.1 409.6h5.4v5.4h-5.4zM508.1 414.6h5.4v5.4h-5.4zM523.1 414.6h5.4v5.4h-5.4zM468.1 419.6h5.4v5.4h-5.4zM468.1 424.6h5.4v5.4h-5.4zM513.1 424.6h5.4v5.4h-5.4zM518.1 429.6h5.4v5.4h-5.4zM493.1 434.6h5.4v5.4h-5.4zM488.1 444.6h5.4v5.4h-5.4zM478.1 454.6h5.4v5.4h-5.4zM468.1 459.6h5.4v5.4h-5.4zM483.1 459.6h5.4v5.4h-5.4zM493.1 469.6h5.4v5.4h-5.4zM468.1 474.6h5.4v5.4h-5.4zM483.1 474.6h5.4v5.4h-5.4zM493.1 474.6h5.4v5.4h-5.4zM473.1 484.6h5.4v5.4h-5.4zM503.1 484.6h10.4v5.4h-10.4zM473.1 489.6h5.4v5.4h-5.4zM508.1 489.6h5.4v5.4h-5.4zM563.1 489.6h5.4v5.4h-5.4zM473.1 494.6h5.4v5.4h-5.4zM513.1 494.6h10.4v5.4h-10.4zM473.1 499.6h5.4v5.4h-5.4zM518.1 499.6h5.4v5.4h-5.4zM473.1 504.6h5.4v5.4h-5.4zM478.1 514.6h5.4v5.4h-5.4zM483.1 524.6h5.4v5.4h-5.4zM488.1 529.6h5.4v5.4h-5.4zM508.1 534.6h5.4v5.4h-5.4z" fill="#9399d2"/><path d="M478.1 359.6h5.4v5.4h-5.4zM483.1 364.6h5.4v5.4h-5.4zM478.1 374.6h5.4v5.4h-5.4zM493.1 394.6h5.4v5.4h-5.4zM528.1 409.6h5.4v5.4h-5.4zM568.1 414.6h5.4v5.4h-5.4zM473.1 424.6h5.4v5.4h-5.4zM513.1 434.6h5.4v5.4h-5.4zM503.1 439.6h5.4v5.4h-5.4zM488.1 449.6h5.4v5.4h-5.4zM503.1 449.6h5.4v5.4h-5.4zM513.1 449.6h5.4v5.4h-5.4zM513.1 454.6h5.4v5.4h-5.4zM543.1 459.6h10.4v5.4h-10.4zM473.1 464.6h5.4v5.4h-5.4zM513.1 479.6h5.4v5.4h-5.4zM563.1 484.6h5.4v5.4h-5.4zM478.1 489.6h5.4v5.4h-5.4zM498.1 494.6h5.4v5.4h-5.4zM483.1 504.6h10.4v5.4h-10.4zM483.1 509.6h5.4v5.4h-5.4z" fill="#9093d2"/><path d="M483.1 359.6h10.4v5.4h-10.4zM523.1 359.6h5.4v5.4h-5.4zM488.1 364.6h5.4v5.4h-5.4zM523.1 364.6h5.4v5.4h-5.4zM488.1 369.6h5.4v5.4h-5.4zM523.1 369.6h5.4v5.4h-5.4zM483.1 374.6h10.4v5.4h-10.4zM523.1 374.6h5.4v5.4h-5.4zM473.1 379.6h5.4v5.4h-5.4zM488.1 379.6h5.4v5.4h-5.4zM518.1 379.6h10.4v5.4h-10.4zM468.1 384.6h5.4v5.4h-5.4zM518.1 384.6h10.4v5.4h-10.4zM523.1 389.6h25.4v5.4h-25.4zM488.1 394.6h5.4v5.4h-5.4zM498.1 394.6h5.4v5.4h-5.4zM523.1 394.6h20.4v5.4h-20.4zM548.1 394.6h5.4v5.4h-5.4zM473.1 399.6h10.4v5.4h-10.4zM513.1 399.6h5.4v5.4h-5.4zM528.1 399.6h20.4v5.4h-20.4zM553.1 399.6h5.4v5.4h-5.4zM518.1 404.6h30.4v5.4h-30.4zM533.1 409.6h10.4v5.4h-10.4zM478.1 414.6h5.4v5.4h-5.4zM493.1 414.6h10.4v5.4h-10.4zM533.1 414.6h5.4v5.4h-5.4zM473.1 419.6h5.4v5.4h-5.4zM533.1 419.6h5.4v5.4h-5.4zM573.1 419.6h15.4v5.4h-15.4zM478.1 424.6h5.4v5.4h-5.4zM508.1 424.6h5.4v5.4h-5.4zM493.1 429.6h5.4v5.4h-5.4zM508.1 429.6h5.4v5.4h-5.4zM528.1 429.6h5.4v5.4h-5.4zM503.1 434.6h10.4v5.4h-10.4zM523.1 434.6h5.4v5.4h-5.4zM598.1 434.6h5.4v5.4h-5.4zM508.1 439.6h15.4v5.4h-15.4zM603.1 439.6h5.4v5.4h-5.4zM513.1 444.6h10.4v5.4h-10.4zM538.1 444.6h5.4v5.4h-5.4zM493.1 449.6h10.4v5.4h-10.4zM518.1 449.6h5.4v5.4h-5.4zM538.1 449.6h5.4v5.4h-5.4zM553.1 449.6h5.4v5.4h-5.4zM488.1 454.6h25.4v5.4h-25.4zM518.1 454.6h5.4v5.4h-5.4zM538.1 454.6h5.4v5.4h-5.4zM553.1 454.6h5.4v5.4h-5.4zM513.1 459.6h15.4v5.4h-15.4zM513.1 464.6h15.4v5.4h-15.4zM568.1 464.6h10.4v5.4h-10.4zM473.1 469.6h5.4v5.4h-5.4zM498.1 469.6h5.4v5.4h-5.4zM513.1 469.6h15.4v5.4h-15.4zM568.1 469.6h10.4v5.4h-10.4zM503.1 474.6h20.4v5.4h-20.4zM588.1 474.6h5.4v5.4h-5.4zM518.1 479.6h5.4v5.4h-5.4zM483.1 484.6h10.4v5.4h-10.4zM518.1 484.6h10.4v5.4h-10.4zM558.1 484.6h5.4v5.4h-5.4zM483.1 489.6h15.4v5.4h-15.4zM523.1 489.6h5.4v5.4h-5.4zM483.1 494.6h15.4v5.4h-15.4zM483.1 499.6h25.4v5.4h-25.4zM558.1 499.6h5.4v5.4h-5.4zM493.1 504.6h20.4v5.4h-20.4zM523.1 504.6h5.4v5.4h-5.4zM563.1 504.6h5.4v5.4h-5.4zM488.1 509.6h15.4v5.4h-15.4zM538.1 509.6h10.4v5.4h-10.4zM488.1 514.6h15.4v5.4h-15.4zM488.1 519.6h5.4v5.4h-5.4zM488.1 524.6h10.4v5.4h-10.4zM498.1 529.6h5.4v5.4h-5.4zM523.1 529.6h5.4v5.4h-5.4zM533.1 529.6h5.4v5.4h-5.4z" fill="#8d93d2"/><path d="M493.1 359.6h5.4v5.4h-5.4zM493.1 364.6h5.4v5.4h-5.4zM493.1 369.6h5.4v5.4h-5.4zM493.1 374.6h5.4v5.4h-5.4zM478.1 379.6h10.4v5.4h-10.4zM488.1 384.6h5.4v5.4h-5.4zM488.1 389.6h10.4v5.4h-10.4zM468.1 394.6h5.4v5.4h-5.4zM483.1 394.6h5.4v5.4h-5.4zM503.1 394.6h20.4v5.4h-20.4zM543.1 394.6h5.4v5.4h-5.4zM518.1 399.6h10.4v5.4h-10.4zM548.1 399.6h5.4v5.4h-5.4zM548.1 404.6h5.4v5.4h-5.4zM543.1 409.6h5.4v5.4h-5.4zM563.1 409.6h5.4v5.4h-5.4zM488.1 414.6h5.4v5.4h-5.4zM538.1 414.6h5.4v5.4h-5.4zM478.1 419.6h10.4v5.4h-10.4zM503.1 419.6h5.4v5.4h-5.4zM568.1 419.6h5.4v5.4h-5.4zM488.1 424.6h5.4v5.4h-5.4zM533.1 424.6h5.4v5.4h-5.4zM498.1 429.6h10.4v5.4h-10.4zM533.1 429.6h5.4v5.4h-5.4zM528.1 434.6h5.4v5.4h-5.4zM523.1 439.6h5.4v5.4h-5.4zM538.1 439.6h15.4v5.4h-15.4zM523.1 444.6h5.4v5.4h-5.4zM553.1 444.6h5.4v5.4h-5.4zM523.1 449.6h5.4v5.4h-5.4zM533.1 449.6h5.4v5.4h-5.4zM603.1 449.6h5.4v5.4h-5.4zM523.1 454.6h5.4v5.4h-5.4zM533.1 454.6h5.4v5.4h-5.4zM598.1 454.6h5.4v5.4h-5.4zM498.1 459.6h15.4v5.4h-15.4zM528.1 459.6h5.4v5.4h-5.4zM538.1 459.6h5.4v5.4h-5.4zM553.1 459.6h5.4v5.4h-5.4zM528.1 464.6h5.4v5.4h-5.4zM538.1 464.6h15.4v5.4h-15.4zM593.1 464.6h5.4v5.4h-5.4zM503.1 469.6h10.4v5.4h-10.4zM528.1 469.6h5.4v5.4h-5.4zM563.1 469.6h5.4v5.4h-5.4zM528.1 474.6h5.4v5.4h-5.4zM558.1 474.6h15.4v5.4h-15.4zM523.1 479.6h10.4v5.4h-10.4zM558.1 479.6h10.4v5.4h-10.4zM528.1 484.6h5.4v5.4h-5.4zM568.1 484.6h10.4v5.4h-10.4zM528.1 489.6h5.4v5.4h-5.4zM553.1 489.6h5.4v5.4h-5.4zM528.1 499.6h5.4v5.4h-5.4zM528.1 504.6h5.4v5.4h-5.4zM538.1 504.6h10.4v5.4h-10.4zM503.1 509.6h10.4v5.4h-10.4zM518.1 509.6h10.4v5.4h-10.4zM548.1 509.6h5.4v5.4h-5.4zM563.1 509.6h5.4v5.4h-5.4zM503.1 514.6h5.4v5.4h-5.4zM543.1 514.6h5.4v5.4h-5.4zM498.1 519.6h10.4v5.4h-10.4zM553.1 519.6h5.4v5.4h-5.4zM498.1 524.6h10.4v5.4h-10.4zM503.1 529.6h5.4v5.4h-5.4zM548.1 529.6h5.4v5.4h-5.4z" fill="#8a90cf"/><path d="M498.1 359.6h5.4v5.4h-5.4zM508.1 359.6h5.4v5.4h-5.4zM498.1 364.6h5.4v5.4h-5.4zM508.1 364.6h5.4v5.4h-5.4zM508.1 369.6h5.4v5.4h-5.4zM498.1 374.6h5.4v5.4h-5.4zM508.1 374.6h5.4v5.4h-5.4zM498.1 379.6h5.4v5.4h-5.4zM508.1 379.6h5.4v5.4h-5.4zM498.1 384.6h5.4v5.4h-5.4zM508.1 384.6h5.4v5.4h-5.4zM478.1 389.6h5.4v5.4h-5.4zM503.1 389.6h5.4v5.4h-5.4zM553.1 409.6h10.4v5.4h-10.4zM548.1 414.6h5.4v5.4h-5.4zM543.1 419.6h5.4v5.4h-5.4zM558.1 419.6h5.4v5.4h-5.4zM558.1 424.6h5.4v5.4h-5.4zM583.1 424.6h5.4v5.4h-5.4zM543.1 429.6h35.4v5.4h-35.4zM553.1 434.6h10.4v5.4h-10.4zM593.1 434.6h5.4v5.4h-5.4zM558.1 439.6h5.4v5.4h-5.4zM558.1 444.6h5.4v5.4h-5.4zM578.1 459.6h5.4v5.4h-5.4zM593.1 459.6h5.4v5.4h-5.4zM543.1 474.6h10.4v5.4h-10.4zM538.1 479.6h5.4v5.4h-5.4zM548.1 479.6h5.4v5.4h-5.4zM573.1 479.6h5.4v5.4h-5.4zM538.1 484.6h5.4v5.4h-5.4zM538.1 499.6h15.4v5.4h-15.4zM553.1 504.6h10.4v5.4h-10.4zM553.1 509.6h5.4v5.4h-5.4zM518.1 514.6h5.4v5.4h-5.4zM533.1 514.6h5.4v5.4h-5.4zM553.1 514.6h10.4v5.4h-10.4zM508.1 519.6h5.4v5.4h-5.4zM508.1 524.6h5.4v5.4h-5.4zM538.1 529.6h5.4v5.4h-5.4z" fill="#848acc"/><path d="M503.1 359.6h5.4v5.4h-5.4zM503.1 364.6h5.4v5.4h-5.4zM503.1 369.6h5.4v5.4h-5.4zM503.1 374.6h5.4v5.4h-5.4zM473.1 389.6h5.4v5.4h-5.4zM553.1 414.6h10.4v5.4h-10.4zM548.1 419.6h10.4v5.4h-10.4zM543.1 424.6h5.4v5.4h-5.4zM553.1 424.6h5.4v5.4h-5.4zM588.1 429.6h5.4v5.4h-5.4zM563.1 434.6h5.4v5.4h-5.4zM563.1 454.6h5.4v5.4h-5.4zM573.1 454.6h5.4v5.4h-5.4zM543.1 479.6h5.4v5.4h-5.4zM548.1 484.6h5.4v5.4h-5.4zM538.1 489.6h5.4v5.4h-5.4zM538.1 494.6h5.4v5.4h-5.4zM523.1 514.6h10.4v5.4h-10.4z" fill="#818acc"/><path d="M513.1 359.6h5.4v5.4h-5.4zM513.1 364.6h5.4v5.4h-5.4zM513.1 369.6h5.4v5.4h-5.4zM513.1 374.6h5.4v5.4h-5.4zM513.1 379.6h5.4v5.4h-5.4zM493.1 384.6h5.4v5.4h-5.4zM513.1 384.6h5.4v5.4h-5.4zM468.1 389.6h5.4v5.4h-5.4zM483.1 389.6h5.4v5.4h-5.4zM498.1 389.6h5.4v5.4h-5.4zM478.1 394.6h5.4v5.4h-5.4zM553.1 404.6h5.4v5.4h-5.4zM548.1 409.6h5.4v5.4h-5.4zM543.1 414.6h5.4v5.4h-5.4zM563.1 414.6h5.4v5.4h-5.4zM488.1 419.6h15.4v5.4h-15.4zM538.1 419.6h5.4v5.4h-5.4zM563.1 419.6h5.4v5.4h-5.4zM493.1 424.6h15.4v5.4h-15.4zM538.1 424.6h5.4v5.4h-5.4zM568.1 424.6h10.4v5.4h-10.4zM538.1 429.6h5.4v5.4h-5.4zM533.1 434.6h20.4v5.4h-20.4zM528.1 439.6h10.4v5.4h-10.4zM553.1 439.6h5.4v5.4h-5.4zM528.1 444.6h10.4v5.4h-10.4zM528.1 449.6h5.4v5.4h-5.4zM558.1 449.6h5.4v5.4h-5.4zM528.1 454.6h5.4v5.4h-5.4zM558.1 454.6h5.4v5.4h-5.4zM558.1 459.6h5.4v5.4h-5.4zM568.1 459.6h10.4v5.4h-10.4zM503.1 464.6h5.4v5.4h-5.4zM533.1 464.6h5.4v5.4h-5.4zM553.1 464.6h15.4v5.4h-15.4zM578.1 464.6h5.4v5.4h-5.4zM533.1 469.6h30.4v5.4h-30.4zM578.1 469.6h5.4v5.4h-5.4zM533.1 474.6h5.4v5.4h-5.4zM553.1 474.6h5.4v5.4h-5.4zM573.1 474.6h5.4v5.4h-5.4zM533.1 479.6h5.4v5.4h-5.4zM553.1 479.6h5.4v5.4h-5.4zM568.1 479.6h5.4v5.4h-5.4zM578.1 479.6h5.4v5.4h-5.4zM533.1 484.6h5.4v5.4h-5.4zM533.1 489.6h5.4v5.4h-5.4zM533.1 494.6h5.4v5.4h-5.4zM553.1 494.6h5.4v5.4h-5.4zM533.1 499.6h5.4v5.4h-5.4zM553.1 499.6h5.4v5.4h-5.4zM548.1 504.6h5.4v5.4h-5.4zM528.1 509.6h5.4v5.4h-5.4zM508.1 514.6h5.4v5.4h-5.4zM538.1 514.6h5.4v5.4h-5.4zM508.1 529.6h15.4v5.4h-15.4z" fill="#878dcf"/><path d="M518.1 359.6h5.4v5.4h-5.4zM518.1 364.6h5.4v5.4h-5.4zM518.1 369.6h5.4v5.4h-5.4zM518.1 374.6h5.4v5.4h-5.4zM518.1 389.6h5.4v5.4h-5.4zM483.1 414.6h5.4v5.4h-5.4zM593.1 429.6h5.4v5.4h-5.4zM498.1 464.6h5.4v5.4h-5.4zM528.1 494.6h5.4v5.4h-5.4zM513.1 509.6h5.4v5.4h-5.4zM493.1 519.6h5.4v5.4h-5.4z" fill="#8d90cf"/><path d="M528.1 359.6h5.4v5.4h-5.4zM478.1 364.6h5.4v5.4h-5.4zM528.1 364.6h5.4v5.4h-5.4zM478.1 369.6h10.4v5.4h-10.4zM528.1 369.6h5.4v5.4h-5.4zM528.1 374.6h5.4v5.4h-5.4zM528.1 379.6h5.4v5.4h-5.4zM528.1 384.6h15.4v5.4h-15.4zM548.1 389.6h5.4v5.4h-5.4zM463.1 394.6h5.4v5.4h-5.4zM553.1 394.6h5.4v5.4h-5.4zM468.1 399.6h5.4v5.4h-5.4zM483.1 399.6h5.4v5.4h-5.4zM508.1 399.6h5.4v5.4h-5.4zM558.1 399.6h5.4v5.4h-5.4zM478.1 404.6h5.4v5.4h-5.4zM513.1 404.6h5.4v5.4h-5.4zM563.1 404.6h5.4v5.4h-5.4zM478.1 409.6h15.4v5.4h-15.4zM518.1 409.6h10.4v5.4h-10.4zM473.1 414.6h5.4v5.4h-5.4zM503.1 414.6h5.4v5.4h-5.4zM528.1 414.6h5.4v5.4h-5.4zM508.1 419.6h5.4v5.4h-5.4zM588.1 419.6h5.4v5.4h-5.4zM528.1 424.6h5.4v5.4h-5.4zM498.1 434.6h5.4v5.4h-5.4zM518.1 434.6h5.4v5.4h-5.4zM498.1 444.6h15.4v5.4h-15.4zM543.1 444.6h10.4v5.4h-10.4zM508.1 449.6h5.4v5.4h-5.4zM483.1 454.6h5.4v5.4h-5.4zM493.1 459.6h5.4v5.4h-5.4zM478.1 469.6h5.4v5.4h-5.4zM473.1 474.6h10.4v5.4h-10.4zM498.1 474.6h5.4v5.4h-5.4zM478.1 479.6h15.4v5.4h-15.4zM508.1 479.6h5.4v5.4h-5.4zM583.1 479.6h5.4v5.4h-5.4zM478.1 484.6h5.4v5.4h-5.4zM493.1 484.6h5.4v5.4h-5.4zM513.1 484.6h5.4v5.4h-5.4zM578.1 484.6h5.4v5.4h-5.4zM498.1 489.6h5.4v5.4h-5.4zM518.1 489.6h5.4v5.4h-5.4zM558.1 489.6h5.4v5.4h-5.4zM478.1 494.6h5.4v5.4h-5.4zM503.1 494.6h5.4v5.4h-5.4zM523.1 494.6h5.4v5.4h-5.4zM558.1 494.6h5.4v5.4h-5.4zM478.1 499.6h5.4v5.4h-5.4zM508.1 499.6h5.4v5.4h-5.4zM523.1 499.6h5.4v5.4h-5.4zM478.1 504.6h5.4v5.4h-5.4zM513.1 504.6h10.4v5.4h-10.4zM478.1 509.6h5.4v5.4h-5.4zM483.1 514.6h5.4v5.4h-5.4zM483.1 519.6h5.4v5.4h-5.4zM493.1 529.6h5.4v5.4h-5.4zM528.1 529.6h5.4v5.4h-5.4zM503.1 534.6h5.4v5.4h-5.4z" fill="#9096d2"/><path d="M533.1 359.6h5.4v5.4h-5.4zM533.1 374.6h5.4v5.4h-5.4zM498.1 399.6h5.4v5.4h-5.4zM508.1 404.6h5.4v5.4h-5.4zM593.1 469.6h5.4v5.4h-5.4z" fill="#9399d5"/><path d="M538.1 359.6h5.4v5.4h-5.4zM538.1 374.6h5.4v5.4h-5.4zM543.1 379.6h10.4v5.4h-10.4zM463.1 384.6h5.4v5.4h-5.4zM443.1 389.6h5.4v5.4h-5.4zM458.1 389.6h5.4v5.4h-5.4zM453.1 394.6h5.4v5.4h-5.4zM443.1 399.6h10.4v5.4h-10.4zM458.1 399.6h5.4v5.4h-5.4zM463.1 404.6h5.4v5.4h-5.4zM498.1 404.6h5.4v5.4h-5.4zM463.1 414.6h5.4v5.4h-5.4zM463.1 419.6h5.4v5.4h-5.4zM518.1 419.6h5.4v5.4h-5.4zM463.1 424.6h5.4v5.4h-5.4zM598.1 429.6h5.4v5.4h-5.4zM468.1 434.6h5.4v5.4h-5.4zM473.1 439.6h15.4v5.4h-15.4zM478.1 444.6h5.4v5.4h-5.4zM443.1 449.6h20.4v5.4h-20.4zM473.1 449.6h5.4v5.4h-5.4zM603.1 454.6h5.4v5.4h-5.4zM443.1 459.6h20.4v5.4h-20.4zM598.1 459.6h5.4v5.4h-5.4zM463.1 469.6h5.4v5.4h-5.4zM488.1 469.6h5.4v5.4h-5.4zM468.1 484.6h5.4v5.4h-5.4zM468.1 489.6h5.4v5.4h-5.4zM468.1 494.6h5.4v5.4h-5.4zM468.1 499.6h5.4v5.4h-5.4zM473.1 514.6h5.4v5.4h-5.4zM483.1 529.6h5.4v5.4h-5.4zM498.1 544.6h10.4v5.4h-10.4zM498.1 559.6h10.4v5.4h-10.4z" fill="#999cd5"/><path d="M553.1 359.6h5.4v5.4h-5.4zM553.1 364.6h5.4v5.4h-5.4zM553.1 369.6h5.4v5.4h-5.4zM553.1 374.6h5.4v5.4h-5.4zM468.1 379.6h5.4v5.4h-5.4zM553.1 379.6h10.4v5.4h-10.4zM443.1 394.6h10.4v5.4h-10.4zM458.1 394.6h5.4v5.4h-5.4zM558.1 394.6h5.4v5.4h-5.4zM503.1 404.6h5.4v5.4h-5.4zM468.1 409.6h5.4v5.4h-5.4zM578.1 414.6h5.4v5.4h-5.4zM588.1 414.6h5.4v5.4h-5.4zM523.1 419.6h5.4v5.4h-5.4zM518.1 424.6h5.4v5.4h-5.4zM468.1 429.6h5.4v5.4h-5.4zM473.1 434.6h20.4v5.4h-20.4zM488.1 439.6h5.4v5.4h-5.4zM443.1 454.6h30.4v5.4h-30.4zM463.1 459.6h5.4v5.4h-5.4zM463.1 464.6h5.4v5.4h-5.4zM488.1 464.6h5.4v5.4h-5.4zM468.1 479.6h5.4v5.4h-5.4zM573.1 489.6h5.4v5.4h-5.4zM563.1 494.6h5.4v5.4h-5.4zM558.1 519.6h5.4v5.4h-5.4zM493.1 534.6h5.4v5.4h-5.4z" fill="#969cd5"/><path d="M563.1 359.6h5.4v5.4h-5.4zM533.1 364.6h5.4v5.4h-5.4zM473.1 369.6h5.4v5.4h-5.4zM533.1 369.6h5.4v5.4h-5.4zM563.1 374.6h5.4v5.4h-5.4zM538.1 379.6h5.4v5.4h-5.4zM553.1 384.6h5.4v5.4h-5.4zM463.1 399.6h5.4v5.4h-5.4zM468.1 404.6h5.4v5.4h-5.4zM493.1 404.6h5.4v5.4h-5.4zM498.1 409.6h15.4v5.4h-15.4zM568.1 409.6h5.4v5.4h-5.4zM468.1 414.6h5.4v5.4h-5.4zM513.1 414.6h10.4v5.4h-10.4zM573.1 414.6h5.4v5.4h-5.4zM583.1 414.6h5.4v5.4h-5.4zM513.1 419.6h5.4v5.4h-5.4zM523.1 424.6h5.4v5.4h-5.4zM593.1 424.6h5.4v5.4h-5.4zM493.1 439.6h5.4v5.4h-5.4zM483.1 444.6h5.4v5.4h-5.4zM478.1 449.6h5.4v5.4h-5.4zM473.1 454.6h5.4v5.4h-5.4zM483.1 464.6h5.4v5.4h-5.4zM483.1 469.6h5.4v5.4h-5.4zM488.1 474.6h5.4v5.4h-5.4zM568.1 489.6h5.4v5.4h-5.4zM563.1 499.6h5.4v5.4h-5.4zM473.1 509.6h5.4v5.4h-5.4zM478.1 519.6h5.4v5.4h-5.4zM553.1 524.6h5.4v5.4h-5.4zM498.1 539.6h10.4v5.4h-10.4z" fill="#9699d5"/><path d="M568.1 359.6h5.4v5.4h-5.4zM468.1 364.6h5.4v5.4h-5.4zM468.1 369.6h5.4v5.4h-5.4zM543.1 369.6h5.4v5.4h-5.4zM448.1 409.6h10.4v5.4h-10.4zM573.1 409.6h5.4v5.4h-5.4zM588.1 409.6h5.4v5.4h-5.4zM453.1 414.6h5.4v5.4h-5.4zM448.1 424.6h10.4v5.4h-10.4zM443.1 429.6h5.4v5.4h-5.4zM458.1 429.6h5.4v5.4h-5.4zM443.1 439.6h10.4v5.4h-10.4zM458.1 439.6h10.4v5.4h-10.4zM608.1 449.6h5.4v5.4h-5.4zM448.1 469.6h10.4v5.4h-10.4zM443.1 474.6h10.4v5.4h-10.4zM458.1 474.6h5.4v5.4h-5.4zM443.1 479.6h5.4v5.4h-5.4zM458.1 479.6h5.4v5.4h-5.4zM588.1 479.6h5.4v5.4h-5.4zM583.1 484.6h5.4v5.4h-5.4zM463.1 489.6h5.4v5.4h-5.4zM578.1 489.6h5.4v5.4h-5.4zM463.1 494.6h5.4v5.4h-5.4zM568.1 504.6h5.4v5.4h-5.4zM568.1 509.6h5.4v5.4h-5.4zM468.1 514.6h5.4v5.4h-5.4zM478.1 529.6h5.4v5.4h-5.4zM538.1 534.6h10.4v5.4h-10.4zM493.1 539.6h5.4v5.4h-5.4zM508.1 539.6h5.4v5.4h-5.4z" fill="#9fa2d5"/><path d="M573.1 359.6h5.4v5.4h-5.4zM463.1 364.6h5.4v5.4h-5.4zM463.1 369.6h5.4v5.4h-5.4zM573.1 374.6h5.4v5.4h-5.4zM443.1 379.6h5.4v5.4h-5.4zM458.1 379.6h5.4v5.4h-5.4zM583.1 404.6h10.4v5.4h-10.4zM608.1 434.6h5.4v5.4h-5.4zM448.1 504.6h10.4v5.4h-10.4zM458.1 509.6h5.4v5.4h-5.4zM463.1 524.6h5.4v5.4h-5.4zM558.1 524.6h5.4v5.4h-5.4zM468.1 534.6h5.4v5.4h-5.4zM468.1 539.6h5.4v5.4h-5.4zM468.1 544.6h5.4v5.4h-5.4zM468.1 549.6h5.4v5.4h-5.4zM508.1 549.6h5.4v5.4h-5.4zM468.1 554.6h5.4v5.4h-5.4zM468.1 559.6h5.4v5.4h-5.4z" fill="#abaed8"/><path d="M578.1 359.6h5.4v5.4h-5.4zM453.1 369.6h5.4v5.4h-5.4zM578.1 374.6h5.4v5.4h-5.4zM573.1 384.6h5.4v5.4h-5.4zM573.1 394.6h5.4v5.4h-5.4zM578.1 399.6h10.4v5.4h-10.4zM593.1 399.6h5.4v5.4h-5.4zM598.1 404.6h5.4v5.4h-5.4zM608.1 429.6h5.4v5.4h-5.4zM613.1 439.6h5.4v5.4h-5.4zM613.1 449.6h5.4v5.4h-5.4zM553.1 534.6h5.4v5.4h-5.4z" fill="#babad8"/><path d="M583.1 359.6h5.4v5.4h-5.4zM583.1 374.6h5.4v5.4h-5.4zM598.1 379.6h5.4v5.4h-5.4zM593.1 394.6h5.4v5.4h-5.4zM603.1 414.6h5.4v5.4h-5.4zM613.1 454.6h5.4v5.4h-5.4zM578.1 504.6h5.4v5.4h-5.4zM528.1 539.6h5.4v5.4h-5.4z" fill="#c6c3d8"/><path d="M588.1 359.6h5.4v5.4h-5.4zM588.1 364.6h5.4v5.4h-5.4zM588.1 369.6h5.4v5.4h-5.4zM588.1 374.6h5.4v5.4h-5.4zM593.1 379.6h5.4v5.4h-5.4zM583.1 384.6h5.4v5.4h-5.4zM583.1 389.6h20.4v5.4h-20.4zM603.1 394.6h5.4v5.4h-5.4zM618.1 399.6h25.4v5.4h-25.4zM588.1 494.6h5.4v5.4h-5.4zM583.1 499.6h5.4v5.4h-5.4zM578.1 509.6h5.4v5.4h-5.4z" fill="#ccc9d8"/><path d="M593.1 359.6h5.4v5.4h-5.4zM593.1 374.6h5.4v5.4h-5.4zM598.1 384.6h5.4v5.4h-5.4zM573.1 519.6h5.4v5.4h-5.4z" fill="#c9c9d8"/><path d="M598.1 359.6h5.4v5.4h-5.4zM598.1 374.6h5.4v5.4h-5.4zM598.1 399.6h5.4v5.4h-5.4zM613.1 434.6h5.4v5.4h-5.4zM513.1 554.6h5.4v5.4h-5.4z" fill="#c0c0d8"/><path d="M608.1 359.6h10.4v5.4h-10.4zM613.1 364.6h5.4v5.4h-5.4zM608.1 374.6h10.4v5.4h-10.4zM573.1 379.6h5.4v5.4h-5.4zM618.1 379.6h25.4v5.4h-25.4zM618.1 384.6h5.4v5.4h-5.4zM623.1 389.6h10.4v5.4h-10.4zM448.1 514.6h10.4v5.4h-10.4zM448.1 519.6h10.4v5.4h-10.4zM443.1 534.6h20.4v5.4h-20.4zM483.1 544.6h5.4v5.4h-5.4zM488.1 549.6h5.4v5.4h-5.4zM483.1 559.6h5.4v5.4h-5.4z" fill="#b1b1d8"/><path d="M618.1 359.6h5.4v5.4h-5.4zM618.1 364.6h5.4v5.4h-5.4zM618.1 374.6h5.4v5.4h-5.4zM613.1 379.6h5.4v5.4h-5.4zM568.1 389.6h5.4v5.4h-5.4zM633.1 389.6h10.4v5.4h-10.4zM598.1 414.6h5.4v5.4h-5.4zM593.1 479.6h5.4v5.4h-5.4zM573.1 504.6h5.4v5.4h-5.4zM443.1 539.6h20.4v5.4h-20.4zM483.1 549.6h5.4v5.4h-5.4zM483.1 554.6h5.4v5.4h-5.4z" fill="#b1b4d8"/><path d="M453.1 364.6h5.4v5.4h-5.4zM448.1 369.6h5.4v5.4h-5.4zM568.1 519.6h5.4v5.4h-5.4z" fill="#b7bad8"/><path d="M538.1 364.6h5.4v5.4h-5.4zM538.1 369.6h5.4v5.4h-5.4zM558.1 384.6h5.4v5.4h-5.4zM448.1 389.6h5.4v5.4h-5.4zM453.1 399.6h5.4v5.4h-5.4zM563.1 399.6h5.4v5.4h-5.4zM463.1 409.6h5.4v5.4h-5.4zM603.1 434.6h5.4v5.4h-5.4zM473.1 444.6h5.4v5.4h-5.4zM463.1 449.6h10.4v5.4h-10.4zM463.1 474.6h5.4v5.4h-5.4zM468.1 504.6h5.4v5.4h-5.4zM478.1 524.6h5.4v5.4h-5.4zM513.1 534.6h5.4v5.4h-5.4zM498.1 549.6h10.4v5.4h-10.4zM498.1 554.6h10.4v5.4h-10.4z" fill="#999fd5"/><path d="M543.1 364.6h5.4v5.4h-5.4zM568.1 374.6h5.4v5.4h-5.4zM443.1 409.6h5.4v5.4h-5.4zM458.1 409.6h5.4v5.4h-5.4zM448.1 414.6h5.4v5.4h-5.4zM448.1 419.6h10.4v5.4h-10.4zM443.1 424.6h5.4v5.4h-5.4zM458.1 424.6h5.4v5.4h-5.4zM463.1 434.6h5.4v5.4h-5.4zM443.1 469.6h5.4v5.4h-5.4zM458.1 469.6h5.4v5.4h-5.4zM463.1 484.6h5.4v5.4h-5.4z" fill="#9ca2d5"/><path d="M558.1 364.6h5.4v5.4h-5.4zM558.1 369.6h10.4v5.4h-10.4zM543.1 384.6h5.4v5.4h-5.4zM463.1 389.6h5.4v5.4h-5.4zM488.1 399.6h5.4v5.4h-5.4zM473.1 404.6h5.4v5.4h-5.4zM483.1 404.6h5.4v5.4h-5.4zM528.1 419.6h5.4v5.4h-5.4zM473.1 429.6h20.4v5.4h-20.4zM513.1 429.6h5.4v5.4h-5.4zM523.1 429.6h5.4v5.4h-5.4zM498.1 439.6h5.4v5.4h-5.4zM493.1 444.6h5.4v5.4h-5.4zM483.1 449.6h5.4v5.4h-5.4zM543.1 449.6h10.4v5.4h-10.4zM543.1 454.6h10.4v5.4h-10.4zM473.1 459.6h10.4v5.4h-10.4zM488.1 459.6h5.4v5.4h-5.4zM468.1 464.6h5.4v5.4h-5.4zM478.1 464.6h5.4v5.4h-5.4zM493.1 464.6h5.4v5.4h-5.4zM468.1 469.6h5.4v5.4h-5.4zM473.1 479.6h5.4v5.4h-5.4zM493.1 479.6h15.4v5.4h-15.4zM498.1 484.6h5.4v5.4h-5.4zM503.1 489.6h5.4v5.4h-5.4zM513.1 489.6h5.4v5.4h-5.4zM508.1 494.6h5.4v5.4h-5.4zM513.1 499.6h5.4v5.4h-5.4zM563.1 514.6h5.4v5.4h-5.4zM498.1 534.6h5.4v5.4h-5.4z" fill="#9396d2"/><path d="M583.1 364.6h5.4v5.4h-5.4zM583.1 369.6h5.4v5.4h-5.4zM578.1 384.6h5.4v5.4h-5.4zM603.1 384.6h5.4v5.4h-5.4zM608.1 389.6h5.4v5.4h-5.4zM583.1 394.6h10.4v5.4h-10.4zM613.1 394.6h5.4v5.4h-5.4zM608.1 459.6h5.4v5.4h-5.4zM603.1 464.6h5.4v5.4h-5.4zM523.1 539.6h5.4v5.4h-5.4zM533.1 539.6h5.4v5.4h-5.4zM548.1 539.6h5.4v5.4h-5.4zM513.1 549.6h5.4v5.4h-5.4z" fill="#c3c3d8"/><path d="M593.1 364.6h5.4v5.4h-5.4zM593.1 369.6h5.4v5.4h-5.4zM583.1 379.6h5.4v5.4h-5.4zM603.1 389.6h5.4v5.4h-5.4zM598.1 394.6h5.4v5.4h-5.4zM608.1 394.6h5.4v5.4h-5.4zM603.1 399.6h5.4v5.4h-5.4zM613.1 429.6h5.4v5.4h-5.4zM598.1 479.6h5.4v5.4h-5.4z" fill="#c9c6d8"/><path d="M598.1 364.6h5.4v5.4h-5.4zM598.1 369.6h5.4v5.4h-5.4zM588.1 489.6h5.4v5.4h-5.4zM563.1 524.6h5.4v5.4h-5.4zM558.1 529.6h5.4v5.4h-5.4zM538.1 539.6h10.4v5.4h-10.4z" fill="#c0c0db"/><path d="M608.1 364.6h5.4v5.4h-5.4zM608.1 369.6h10.4v5.4h-10.4zM453.1 379.6h5.4v5.4h-5.4zM633.1 384.6h10.4v5.4h-10.4zM568.1 394.6h5.4v5.4h-5.4zM593.1 404.6h5.4v5.4h-5.4zM598.1 419.6h5.4v5.4h-5.4zM603.1 459.6h5.4v5.4h-5.4zM588.1 484.6h5.4v5.4h-5.4zM578.1 494.6h5.4v5.4h-5.4zM448.1 509.6h10.4v5.4h-10.4zM443.1 514.6h5.4v5.4h-5.4zM458.1 514.6h5.4v5.4h-5.4zM443.1 519.6h5.4v5.4h-5.4zM458.1 519.6h5.4v5.4h-5.4zM443.1 524.6h20.4v5.4h-20.4zM443.1 529.6h20.4v5.4h-20.4zM463.1 539.6h5.4v5.4h-5.4zM513.1 539.6h5.4v5.4h-5.4zM463.1 544.6h5.4v5.4h-5.4zM463.1 549.6h5.4v5.4h-5.4zM478.1 549.6h5.4v5.4h-5.4zM463.1 554.6h5.4v5.4h-5.4zM478.1 554.6h5.4v5.4h-5.4zM488.1 554.6h5.4v5.4h-5.4zM463.1 559.6h5.4v5.4h-5.4z" fill="#aeb1d8"/><path d="M498.1 369.6h5.4v5.4h-5.4zM473.1 384.6h10.4v5.4h-10.4zM508.1 389.6h5.4v5.4h-5.4zM473.1 394.6h5.4v5.4h-5.4zM563.1 424.6h5.4v5.4h-5.4zM578.1 424.6h5.4v5.4h-5.4zM603.1 444.6h5.4v5.4h-5.4zM563.1 459.6h5.4v5.4h-5.4zM538.1 474.6h5.4v5.4h-5.4zM578.1 474.6h10.4v5.4h-10.4zM513.1 514.6h5.4v5.4h-5.4z" fill="#848dcc"/><path d="M448.1 379.6h5.4v5.4h-5.4zM568.1 384.6h5.4v5.4h-5.4zM623.1 384.6h10.4v5.4h-10.4zM578.1 404.6h5.4v5.4h-5.4zM608.1 454.6h5.4v5.4h-5.4zM583.1 489.6h5.4v5.4h-5.4zM573.1 499.6h5.4v5.4h-5.4zM443.1 509.6h5.4v5.4h-5.4zM463.1 529.6h5.4v5.4h-5.4zM463.1 534.6h5.4v5.4h-5.4zM478.1 544.6h5.4v5.4h-5.4zM488.1 544.6h5.4v5.4h-5.4zM478.1 559.6h5.4v5.4h-5.4zM488.1 559.6h5.4v5.4h-5.4z" fill="#aeaed8"/><path d="M463.1 379.6h5.4v5.4h-5.4zM448.1 384.6h10.4v5.4h-10.4zM563.1 384.6h5.4v5.4h-5.4zM563.1 394.6h5.4v5.4h-5.4zM578.1 409.6h5.4v5.4h-5.4zM593.1 414.6h5.4v5.4h-5.4zM448.1 429.6h10.4v5.4h-10.4zM443.1 434.6h20.4v5.4h-20.4zM453.1 474.6h5.4v5.4h-5.4zM593.1 474.6h5.4v5.4h-5.4zM448.1 479.6h10.4v5.4h-10.4zM443.1 484.6h20.4v5.4h-20.4zM443.1 489.6h20.4v5.4h-20.4zM463.1 504.6h5.4v5.4h-5.4zM473.1 524.6h5.4v5.4h-5.4zM483.1 534.6h5.4v5.4h-5.4zM518.1 534.6h5.4v5.4h-5.4zM493.1 544.6h5.4v5.4h-5.4zM493.1 559.6h5.4v5.4h-5.4z" fill="#a2a5d5"/><path d="M493.1 379.6h5.4v5.4h-5.4zM483.1 384.6h5.4v5.4h-5.4zM513.1 389.6h5.4v5.4h-5.4zM558.1 404.6h5.4v5.4h-5.4zM588.1 424.6h5.4v5.4h-5.4zM533.1 459.6h5.4v5.4h-5.4zM508.1 464.6h5.4v5.4h-5.4zM553.1 484.6h5.4v5.4h-5.4zM533.1 504.6h5.4v5.4h-5.4zM533.1 509.6h5.4v5.4h-5.4zM548.1 514.6h5.4v5.4h-5.4z" fill="#8790cf"/><path d="M503.1 379.6h5.4v5.4h-5.4zM503.1 384.6h5.4v5.4h-5.4zM548.1 424.6h5.4v5.4h-5.4zM578.1 429.6h10.4v5.4h-10.4zM568.1 434.6h10.4v5.4h-10.4zM563.1 439.6h5.4v5.4h-5.4zM598.1 439.6h5.4v5.4h-5.4zM568.1 454.6h5.4v5.4h-5.4zM578.1 454.6h5.4v5.4h-5.4zM593.1 454.6h5.4v5.4h-5.4zM543.1 484.6h5.4v5.4h-5.4zM548.1 489.6h5.4v5.4h-5.4zM548.1 494.6h5.4v5.4h-5.4zM548.1 519.6h5.4v5.4h-5.4z" fill="#8187cc"/><path d="M568.1 379.6h5.4v5.4h-5.4zM563.1 389.6h5.4v5.4h-5.4zM568.1 399.6h5.4v5.4h-5.4zM598.1 424.6h5.4v5.4h-5.4zM598.1 464.6h5.4v5.4h-5.4zM443.1 494.6h15.4v5.4h-15.4zM573.1 494.6h5.4v5.4h-5.4zM443.1 499.6h5.4v5.4h-5.4zM458.1 499.6h5.4v5.4h-5.4zM463.1 509.6h5.4v5.4h-5.4zM568.1 514.6h5.4v5.4h-5.4zM468.1 519.6h5.4v5.4h-5.4zM563.1 519.6h5.4v5.4h-5.4zM473.1 529.6h5.4v5.4h-5.4zM553.1 529.6h5.4v5.4h-5.4zM478.1 534.6h5.4v5.4h-5.4zM523.1 534.6h5.4v5.4h-5.4zM533.1 534.6h5.4v5.4h-5.4zM548.1 534.6h5.4v5.4h-5.4zM488.1 539.6h5.4v5.4h-5.4zM493.1 549.6h5.4v5.4h-5.4zM493.1 554.6h5.4v5.4h-5.4z" fill="#a5a8d5"/><path d="M578.1 379.6h5.4v5.4h-5.4zM603.1 379.6h5.4v5.4h-5.4zM608.1 384.6h5.4v5.4h-5.4zM573.1 389.6h5.4v5.4h-5.4zM618.1 394.6h5.4v5.4h-5.4zM633.1 394.6h10.4v5.4h-10.4zM583.1 494.6h5.4v5.4h-5.4zM578.1 499.6h5.4v5.4h-5.4zM573.1 514.6h5.4v5.4h-5.4zM513.1 544.6h5.4v5.4h-5.4zM513.1 559.6h5.4v5.4h-5.4z" fill="#bdbddb"/><path d="M588.1 379.6h5.4v5.4h-5.4zM608.1 399.6h10.4v5.4h-10.4zM568.1 524.6h5.4v5.4h-5.4z" fill="#cfccd8"/><path d="M443.1 384.6h5.4v5.4h-5.4zM458.1 384.6h5.4v5.4h-5.4zM583.1 409.6h5.4v5.4h-5.4zM453.1 439.6h5.4v5.4h-5.4zM608.1 439.6h5.4v5.4h-5.4zM463.1 499.6h5.4v5.4h-5.4zM568.1 499.6h5.4v5.4h-5.4z" fill="#9fa5d5"/><path d="M588.1 384.6h10.4v5.4h-10.4zM593.1 489.6h5.4v5.4h-5.4zM558.1 534.6h5.4v5.4h-5.4zM553.1 539.6h5.4v5.4h-5.4zM518.1 544.6h5.4v5.4h-5.4zM518.1 559.6h5.4v5.4h-5.4z" fill="#cfccd5"/><path d="M578.1 389.6h5.4v5.4h-5.4zM603.1 404.6h5.4v5.4h-5.4zM603.1 409.6h5.4v5.4h-5.4zM608.1 424.6h5.4v5.4h-5.4z" fill="#c6c6d8"/><path d="M613.1 389.6h5.4v5.4h-5.4zM623.1 394.6h10.4v5.4h-10.4z" fill="#babadb"/><path d="M578.1 394.6h5.4v5.4h-5.4zM603.1 419.6h5.4v5.4h-5.4zM593.1 484.6h5.4v5.4h-5.4z" fill="#c3c0d8"/><path d="M608.1 404.6h5.4v5.4h-5.4zM608.1 419.6h5.4v5.4h-5.4zM578.1 514.6h5.4v5.4h-5.4z" fill="#d2ccd5"/><path d="M613.1 404.6h5.4v5.4h-5.4zM618.1 429.6h5.4v5.4h-5.4zM618.1 449.6h5.4v5.4h-5.4zM613.1 459.6h5.4v5.4h-5.4zM563.1 529.6h5.4v5.4h-5.4zM518.1 554.6h5.4v5.4h-5.4z" fill="#d5d2d5"/><path d="M618.1 404.6h25.4v5.4h-25.4zM638.1 424.6h5.4v5.4h-5.4zM638.1 429.6h5.4v5.4h-5.4zM638.1 434.6h5.4v5.4h-5.4zM573.1 524.6h5.4v5.4h-5.4zM523.1 559.6h5.4v5.4h-5.4z" fill="#d8d5d5"/><path d="M593.1 409.6h5.4v5.4h-5.4z" fill="#a8a8d5"/><path d="M608.1 409.6h5.4v5.4h-5.4zM608.1 414.6h5.4v5.4h-5.4zM618.1 434.6h5.4v5.4h-5.4zM618.1 439.6h5.4v5.4h-5.4zM618.1 444.6h5.4v5.4h-5.4zM603.1 469.6h5.4v5.4h-5.4z" fill="#d5cfd5"/><path d="M613.1 409.6h5.4v5.4h-5.4zM613.1 414.6h5.4v5.4h-5.4zM618.1 419.6h25.4v5.4h-25.4zM623.1 424.6h15.4v5.4h-15.4zM623.1 429.6h5.4v5.4h-5.4zM633.1 429.6h5.4v5.4h-5.4zM633.1 434.6h5.4v5.4h-5.4zM638.1 439.6h5.4v5.4h-5.4zM638.1 444.6h5.4v5.4h-5.4zM618.1 454.6h5.4v5.4h-5.4zM608.1 464.6h5.4v5.4h-5.4zM603.1 474.6h5.4v5.4h-5.4zM598.1 489.6h5.4v5.4h-5.4zM593.1 494.6h5.4v5.4h-5.4zM558.1 539.6h5.4v5.4h-5.4zM523.1 544.6h25.4v5.4h-25.4zM528.1 559.6h25.4v5.4h-25.4z" fill="#dbd5d5"/><path d="M618.1 409.6h25.4v5.4h-25.4zM618.1 414.6h25.4v5.4h-25.4zM623.1 434.6h10.4v5.4h-10.4zM633.1 444.6h5.4v5.4h-5.4zM603.1 479.6h5.4v5.4h-5.4zM588.1 504.6h5.4v5.4h-5.4zM553.1 544.6h5.4v5.4h-5.4zM523.1 554.6h5.4v5.4h-5.4zM553.1 559.6h5.4v5.4h-5.4z" fill="#ded8d2"/><path d="M613.1 419.6h5.4v5.4h-5.4zM618.1 424.6h5.4v5.4h-5.4zM588.1 499.6h5.4v5.4h-5.4zM583.1 509.6h5.4v5.4h-5.4zM578.1 519.6h5.4v5.4h-5.4zM518.1 549.6h5.4v5.4h-5.4z" fill="#d8d2d5"/><path d="M483.1 424.6h5.4v5.4h-5.4zM523.1 474.6h5.4v5.4h-5.4z" fill="#8d93cf"/><path d="M613.1 424.6h5.4v5.4h-5.4zM598.1 484.6h5.4v5.4h-5.4zM583.1 504.6h5.4v5.4h-5.4z" fill="#d2cfd5"/><path d="M628.1 429.6h5.4v5.4h-5.4zM548.1 544.6h5.4v5.4h-5.4z" fill="#dbd8d5"/><path d="M578.1 434.6h15.4v5.4h-15.4zM568.1 439.6h10.4v5.4h-10.4zM593.1 439.6h5.4v5.4h-5.4zM583.1 444.6h10.4v5.4h-10.4zM578.1 449.6h10.4v5.4h-10.4zM593.1 449.6h10.4v5.4h-10.4zM583.1 454.6h5.4v5.4h-5.4zM583.1 469.6h10.4v5.4h-10.4zM543.1 489.6h5.4v5.4h-5.4zM543.1 494.6h5.4v5.4h-5.4zM558.1 509.6h5.4v5.4h-5.4zM513.1 519.6h5.4v5.4h-5.4zM533.1 519.6h5.4v5.4h-5.4zM548.1 524.6h5.4v5.4h-5.4zM543.1 529.6h5.4v5.4h-5.4z" fill="#7e87c9"/><path d="M578.1 439.6h15.4v5.4h-15.4zM568.1 444.6h5.4v5.4h-5.4zM578.1 444.6h5.4v5.4h-5.4zM593.1 444.6h5.4v5.4h-5.4zM568.1 449.6h10.4v5.4h-10.4zM588.1 454.6h5.4v5.4h-5.4zM528.1 519.6h5.4v5.4h-5.4zM538.1 519.6h10.4v5.4h-10.4zM513.1 524.6h5.4v5.4h-5.4zM523.1 524.6h5.4v5.4h-5.4zM533.1 524.6h5.4v5.4h-5.4z" fill="#7e84c9"/><path d="M623.1 439.6h10.4v5.4h-10.4zM633.1 449.6h5.4v5.4h-5.4zM638.1 454.6h5.4v5.4h-5.4zM618.1 459.6h5.4v5.4h-5.4zM603.1 484.6h5.4v5.4h-5.4zM598.1 494.6h5.4v5.4h-5.4zM593.1 499.6h5.4v5.4h-5.4zM588.1 509.6h5.4v5.4h-5.4zM583.1 519.6h5.4v5.4h-5.4zM578.1 524.6h5.4v5.4h-5.4zM568.1 529.6h5.4v5.4h-5.4zM563.1 534.6h5.4v5.4h-5.4zM558.1 544.6h5.4v5.4h-5.4zM523.1 549.6h5.4v5.4h-5.4zM528.1 554.6h25.4v5.4h-25.4zM558.1 559.6h5.4v5.4h-5.4z" fill="#e1dbd2"/><path d="M633.1 439.6h5.4v5.4h-5.4zM638.1 449.6h5.4v5.4h-5.4zM583.1 514.6h5.4v5.4h-5.4z" fill="#ded8d5"/><path d="M563.1 444.6h5.4v5.4h-5.4zM563.1 449.6h5.4v5.4h-5.4zM588.1 449.6h5.4v5.4h-5.4zM528.1 524.6h5.4v5.4h-5.4z" fill="#7e87cc"/><path d="M573.1 444.6h5.4v5.4h-5.4zM598.1 444.6h5.4v5.4h-5.4zM583.1 459.6h5.4v5.4h-5.4zM583.1 464.6h5.4v5.4h-5.4zM518.1 519.6h10.4v5.4h-10.4zM518.1 524.6h5.4v5.4h-5.4z" fill="#7b84c9"/><path d="M623.1 444.6h5.4v5.4h-5.4zM633.1 454.6h5.4v5.4h-5.4zM603.1 489.6h5.4v5.4h-5.4zM588.1 514.6h5.4v5.4h-5.4zM533.1 549.6h5.4v5.4h-5.4zM553.1 554.6h5.4v5.4h-5.4z" fill="#e4dbd2"/><path d="M628.1 444.6h5.4v5.4h-5.4zM623.1 449.6h5.4v5.4h-5.4zM638.1 459.6h5.4v5.4h-5.4zM613.1 464.6h5.4v5.4h-5.4zM593.1 504.6h5.4v5.4h-5.4zM593.1 509.6h5.4v5.4h-5.4zM588.1 519.6h5.4v5.4h-5.4zM583.1 524.6h5.4v5.4h-5.4zM573.1 529.6h5.4v5.4h-5.4zM563.1 539.6h5.4v5.4h-5.4zM563.1 544.6h5.4v5.4h-5.4zM528.1 549.6h5.4v5.4h-5.4zM538.1 549.6h30.4v5.4h-30.4zM558.1 554.6h10.4v5.4h-10.4zM563.1 559.6h5.4v5.4h-5.4z" fill="#e4ded2"/><path d="M628.1 449.6h5.4v5.4h-5.4zM623.1 454.6h10.4v5.4h-10.4zM633.1 459.6h5.4v5.4h-5.4zM603.1 494.6h5.4v5.4h-5.4zM598.1 499.6h5.4v5.4h-5.4zM593.1 514.6h5.4v5.4h-5.4zM578.1 529.6h5.4v5.4h-5.4zM568.1 549.6h5.4v5.4h-5.4zM568.1 554.6h5.4v5.4h-5.4z" fill="#e7ded2"/><path d="M588.1 459.6h5.4v5.4h-5.4z" fill="#7881c9"/><path d="M623.1 459.6h10.4v5.4h-10.4zM618.1 464.6h25.4v5.4h-25.4zM628.1 469.6h5.4v5.4h-5.4zM608.1 484.6h5.4v5.4h-5.4zM608.1 489.6h5.4v5.4h-5.4zM598.1 504.6h5.4v5.4h-5.4zM598.1 509.6h5.4v5.4h-5.4zM598.1 514.6h5.4v5.4h-5.4zM593.1 519.6h10.4v5.4h-10.4zM588.1 524.6h5.4v5.4h-5.4zM583.1 529.6h5.4v5.4h-5.4zM568.1 544.6h5.4v5.4h-5.4zM573.1 549.6h5.4v5.4h-5.4zM573.1 554.6h5.4v5.4h-5.4zM568.1 559.6h5.4v5.4h-5.4z" fill="#e7e1d2"/><path d="M588.1 464.6h5.4v5.4h-5.4zM538.1 524.6h5.4v5.4h-5.4z" fill="#7881c6"/><path d="M608.1 469.6h5.4v5.4h-5.4zM623.1 469.6h5.4v5.4h-5.4zM633.1 469.6h10.4v5.4h-10.4zM623.1 474.6h20.4v5.4h-20.4zM608.1 479.6h5.4v5.4h-5.4zM618.1 479.6h25.4v5.4h-25.4zM613.1 484.6h30.4v5.4h-30.4zM613.1 489.6h30.4v5.4h-30.4zM608.1 494.6h35.4v5.4h-35.4zM603.1 499.6h40.4v5.4h-40.4zM603.1 504.6h40.4v5.4h-40.4zM603.1 509.6h40.4v5.4h-40.4zM603.1 514.6h40.4v5.4h-40.4zM603.1 519.6h40.4v5.4h-40.4zM593.1 524.6h50.4v5.4h-50.4zM588.1 529.6h55.4v5.4h-55.4zM568.1 534.6h75.4v5.4h-75.4zM568.1 539.6h75.4v5.4h-75.4zM573.1 544.6h70.4v5.4h-70.4zM578.1 549.6h65.4v5.4h-65.4zM578.1 554.6h65.4v5.4h-65.4zM573.1 559.6h70.4v5.4h-70.4z" fill="#eae1d2"/><path d="M613.1 469.6h5.4v5.4h-5.4zM608.1 474.6h15.4v5.4h-15.4zM613.1 479.6h5.4v5.4h-5.4z" fill="#ede4cf"/><path d="M618.1 469.6h5.4v5.4h-5.4z" fill="#eae4d2"/><path d="M598.1 474.6h5.4v5.4h-5.4z" fill="#c0bddb"/><path d="M458.1 494.6h5.4v5.4h-5.4z" fill="#a5a5d5"/><path d="M448.1 499.6h5.4v5.4h-5.4zM468.1 524.6h5.4v5.4h-5.4z" fill="#a8abd5"/><path d="M463.1 519.6h5.4v5.4h-5.4zM468.1 529.6h5.4v5.4h-5.4zM478.1 539.6h10.4v5.4h-10.4zM473.1 544.6h5.4v5.4h-5.4zM473.1 549.6h5.4v5.4h-5.4zM473.1 554.6h5.4v5.4h-5.4zM508.1 554.6h5.4v5.4h-5.4zM473.1 559.6h5.4v5.4h-5.4z" fill="#ababd8"/><path d="M543.1 524.6h5.4v5.4h-5.4z" fill="#757ec6"/><path d="M518.1 539.6h5.4v5.4h-5.4z" fill="#babddb"/>
<polygon points="580,360 650,360 650,420 626,428 618,410 604,396 590,388" fill="#d6d3d6" opacity="0.85"/>
<polygon points="650,420 650,570 490,570 503,550 519,541 554,528 585,512 607,491 620,470 625,440" fill="#ede4d0" opacity="0.95"/>
<polygon points="552,397 575,390 600,397 617,413 624,440 620,466 608,486 597,480 587,460 575,436 562,416" fill="#5d6cb9" opacity="0.85"/>
<polygon points="495,508 520,498 550,498 575,503 585,510 576,519 556,527 538,533 519,539 505,545 496,538" fill="#6070ba" opacity="0.85"/>
<polygon points="462,372 570,372 565,390 520,394 470,392" fill="#6f7ec3" opacity="0.6"/>
<polygon points="450,505 470,515 490,535 500,556 450,556" fill="#b4b7d8" opacity="0.5"/>
<circle cx="503" cy="411" r="5.8" fill="#cfcde0" opacity="0.85"/>
<circle cx="522" cy="427" r="5.8" fill="#cfcde0" opacity="0.85"/>
<circle cx="490" cy="430" r="5.8" fill="#cfcde0" opacity="0.85"/>
<circle cx="472" cy="412" r="5.8" fill="#cfcde0" opacity="0.85"/>
<circle cx="459" cy="432" r="5.8" fill="#cfcde0" opacity="0.85"/>
<circle cx="483" cy="447" r="5.8" fill="#cfcde0" opacity="0.85"/>
<circle cx="537" cy="384" r="4.8" fill="#cfcde0" opacity="0.85"/>
<circle cx="537" cy="421" r="4.8" fill="#cfcde0" opacity="0.85"/>
<circle cx="508" cy="413" r="4.8" fill="#cfcde0" opacity="0.85"/>
<circle cx="518" cy="444" r="4.8" fill="#cfcde0" opacity="0.85"/>
<circle cx="539" cy="442" r="4.8" fill="#cfcde0" opacity="0.85"/>
<circle cx="505" cy="470" r="5.8" fill="#cfcde0" opacity="0.85"/>
<circle cx="546" cy="462" r="4.8" fill="#cfcde0" opacity="0.85"/>
<circle cx="533" cy="485" r="5.8" fill="#cfcde0" opacity="0.85"/>
<circle cx="556" cy="493" r="4.8" fill="#cfcde0" opacity="0.85"/>
<circle cx="569" cy="400" r="4.8" fill="#cfcde0" opacity="0.85"/>
<circle cx="582" cy="390" r="4.8" fill="#cfcde0" opacity="0.85"/>
<circle cx="470" cy="470" r="5.8" fill="#cfcde0" opacity="0.85"/>
<circle cx="488" cy="490" r="5.8" fill="#cfcde0" opacity="0.85"/>
<circle cx="465" cy="495" r="5.8" fill="#cfcde0" opacity="0.85"/>
<circle cx="520" cy="465" r="4.8" fill="#cfcde0" opacity="0.85"/>
<circle cx="560" cy="475" r="4.8" fill="#cfcde0" opacity="0.85"/>
<circle cx="498" cy="392" r="4.8" fill="#cfcde0" opacity="0.85"/>
<circle cx="478" cy="385" r="4.8" fill="#cfcde0" opacity="0.85"/>
<circle cx="525" cy="405" r="3.8" fill="#cfcde0" opacity="0.85"/>
<circle cx="550" cy="440" r="3.8" fill="#cfcde0" opacity="0.85"/>
<circle cx="462" cy="455" r="4.8" fill="#cfcde0" opacity="0.85"/>
<circle cx="495" cy="455" r="3.8" fill="#cfcde0" opacity="0.85"/>
<circle cx="475" cy="430" r="3.8" fill="#cfcde0" opacity="0.85"/>
<circle cx="545" cy="505" r="3.8" fill="#cfcde0" opacity="0.85"/>
<circle cx="528" cy="513" r="3.8" fill="#cfcde0" opacity="0.85"/>
<circle cx="512" cy="500" r="3.8" fill="#cfcde0" opacity="0.85"/>
</g>
<g filter="url(#bl2)"><polygon points="450,365 475,365 465,380 450,390" fill="#e6ded0" /></g>
<g filter="url(#salt)"><polygon points="450,365 475,365 465,380 450,390" fill="#000" /></g>
</g>
<path d="M454.4,409.2 C455.8,409.1 460.0,409.5 463.1,408.7 C466.2,407.9 469.2,405.9 472.8,404.6 C476.4,403.3 481.2,401.8 485,400.8 C488.8,399.8 492.0,399.4 495.5,398.7 C499.0,398.0 502.5,397.1 506,396.9 C509.5,396.7 513.1,396.9 516.6,397.3 C520.1,397.7 523.6,398.1 527.1,399 C530.6,399.9 534.1,400.8 537.6,402.5 C541.1,404.2 545.6,407.6 548.1,409.5 C550.6,411.4 550.8,412.3 552.4,414 C554.0,415.7 556.1,417.8 558,419.7 C559.9,421.6 562.0,423.2 563.7,425.3 C565.5,427.4 566.8,429.9 568.5,432.5 C570.2,435.1 572.4,437.9 574.1,440.6 C575.9,443.3 577.5,445.9 579,448.6 C580.5,451.3 581.5,453.8 583,456.7 C584.5,459.6 586.2,462.8 587.8,466.3 C589.4,469.8 591.0,474.1 592.6,477.6 C594.2,481.1 595.5,483.2 597.5,487.2 C599.5,491.2 603.5,499.3 604.7,501.7" fill="none" stroke="#ffff00" stroke-width="3.5" stroke-dasharray="9,2.8"/>
<text x="557.5" y="412.6" font-size="34.5" font-style="italic" fill="#0000ff" stroke="#0000ff" stroke-width="0.6">c</text>
<text x="518.4" y="473.5" font-size="37" font-style="italic" fill="#ff0000" stroke="#ff0000" stroke-width="0.6">b</text>
<text x="591.5" y="538.7" font-size="35" font-style="italic" fill="#00ff00" stroke="#00ff00" stroke-width="0.6">a</text>
<path d="M463.63,547.70L463.63,532.96L462.27,532.96C461.60,534.87 460.15,535.90 457.88,536.11L457.88,537.56C459.53,537.45 460.98,536.94 461.75,536.11L461.75,547.70Z" fill="#ffff00" stroke="#ffff00" stroke-width="0.4"/><text x="467.11" y="547.7" font-size="20.7" fill="#ffff00" stroke="#ffff00" stroke-width="0.4" xml:space="preserve">88 K</text>
<line x1="549" y1="544.5" x2="589.5" y2="544.5" stroke="#000" stroke-width="2.2"/>
<linearGradient id="cbg" x1="0" y1="0" x2="0" y2="1">
<stop offset="0" stop-color="#4a589f"/><stop offset="0.25" stop-color="#5b6bbe"/><stop offset="0.5" stop-color="#9297c8"/><stop offset="0.75" stop-color="#c9c3cb"/><stop offset="1" stop-color="#f4e7cc"/></linearGradient>
<rect x="636.7" y="48.4" width="13.5" height="146" fill="url(#cbg)"/>
<rect x="638.6" y="410" width="13.2" height="142.7" fill="url(#cbg)"/>
<text x="634" y="32" font-size="15.8" >T<tspan font-size="11.5" dy="3">2</tspan><tspan dy="-3"> (</tspan><tspan font-style="italic">μ</tspan>s)</text>
<text x="652.60" y="54.4" font-size="16.2" fill="#000"  xml:space="preserve">6.0</text>
<text x="652.60" y="102.0" font-size="16.2" fill="#000" >4.</text><path d="M672.40,102.00L672.40,90.47L671.33,90.47C670.81,91.96 669.67,92.77 667.89,92.93L667.89,94.06C669.19,93.98 670.32,93.58 670.92,92.93L670.92,102.00Z" fill="#000" />
<text x="652.60" y="151.5" font-size="16.2" fill="#000" >2.</text><path d="M672.40,151.50L672.40,139.97L671.33,139.97C670.81,141.46 669.67,142.27 667.89,142.43L667.89,143.56C669.19,143.48 670.32,143.08 670.92,142.43L670.92,151.50Z" fill="#000" />
<text x="652.60" y="196.2" font-size="16.2" fill="#000"  xml:space="preserve">0.3</text>
<line x1="650.2" y1="48.4" x2="652.5" y2="48.4" stroke="#999" stroke-width="0.8"/>
<line x1="650.2" y1="73.7" x2="652.5" y2="73.7" stroke="#999" stroke-width="0.8"/>
<line x1="650.2" y1="96.3" x2="652.5" y2="96.3" stroke="#999" stroke-width="0.8"/>
<line x1="650.2" y1="121.3" x2="652.5" y2="121.3" stroke="#999" stroke-width="0.8"/>
<line x1="650.2" y1="146.4" x2="652.5" y2="146.4" stroke="#999" stroke-width="0.8"/>
<line x1="650.2" y1="168.5" x2="652.5" y2="168.5" stroke="#999" stroke-width="0.8"/>
<line x1="650.2" y1="190.8" x2="652.5" y2="190.8" stroke="#999" stroke-width="0.8"/>
<text x="632.6" y="379.8" font-size="14.9">FWHM</text>
<text x="636.6" y="399.6" font-size="14.9">(MHz)</text>
<text x="654.60" y="417.8" font-size="15.5" fill="#000"  xml:space="preserve">79</text>
<line x1="651.8" y1="412.3" x2="654" y2="412.3" stroke="#999" stroke-width="0.8"/>
<text x="654.60" y="451.4" font-size="15.5" fill="#000" >6</text><path d="M669.23,451.40L669.23,440.36L668.21,440.36C667.71,441.79 666.63,442.56 664.92,442.72L664.92,443.80C666.16,443.73 667.25,443.34 667.82,442.72L667.82,451.40Z" fill="#000" />
<line x1="651.8" y1="445.9" x2="654" y2="445.9" stroke="#999" stroke-width="0.8"/>
<text x="654.60" y="487.4" font-size="15.5" fill="#000" >4</text><path d="M669.23,487.40L669.23,476.36L668.21,476.36C667.71,477.79 666.63,478.56 664.92,478.72L664.92,479.80C666.16,479.73 667.25,479.34 667.82,478.72L667.82,487.40Z" fill="#000" />
<line x1="651.8" y1="481.9" x2="654" y2="481.9" stroke="#999" stroke-width="0.8"/>
<text x="654.60" y="522.5" font-size="15.5" fill="#000"  xml:space="preserve">22</text>
<line x1="651.8" y1="517" x2="654" y2="517" stroke="#999" stroke-width="0.8"/>
<text x="654.60" y="555.4" font-size="15.5" fill="#000"  xml:space="preserve">4</text>
<line x1="651.8" y1="549.9" x2="654" y2="549.9" stroke="#999" stroke-width="0.8"/>
<rect x="392.7" y="13.1" width="57.7" height="121.9" rx="5.2" ry="5.2" fill="#fff" stroke="#222" stroke-width="1.35"/><circle cx="409.5" cy="33.3" r="3.9" fill="#0f0"/><rect x="405.5" y="68.0" width="8" height="8" fill="#f00"/><path d="M409.5,106.3L414.7,111.5L409.5,116.7L404.3,111.5Z" fill="#00f"/><text x="426.8" y="40.3" font-size="22" font-style="italic">a</text><text x="426.8" y="79.0" font-size="22" font-style="italic">b</text><text x="426.8" y="118.5" font-size="22" font-style="italic">c</text>
<rect x="392.7" y="430.5" width="57.7" height="122.9" rx="5.2" ry="5.2" fill="#fff" stroke="#222" stroke-width="1.35"/><circle cx="409.5" cy="451.0" r="3.9" fill="#0f0"/><rect x="405.5" y="486.1" width="8" height="8" fill="#f00"/><path d="M409.5,524.7L414.7,529.9L409.5,535.1L404.3,529.9Z" fill="#00f"/><text x="426.8" y="458.0" font-size="22" font-style="italic">a</text><text x="426.8" y="497.1" font-size="22" font-style="italic">b</text><text x="426.8" y="536.9" font-size="22" font-style="italic">c</text>
</svg></body></html>
